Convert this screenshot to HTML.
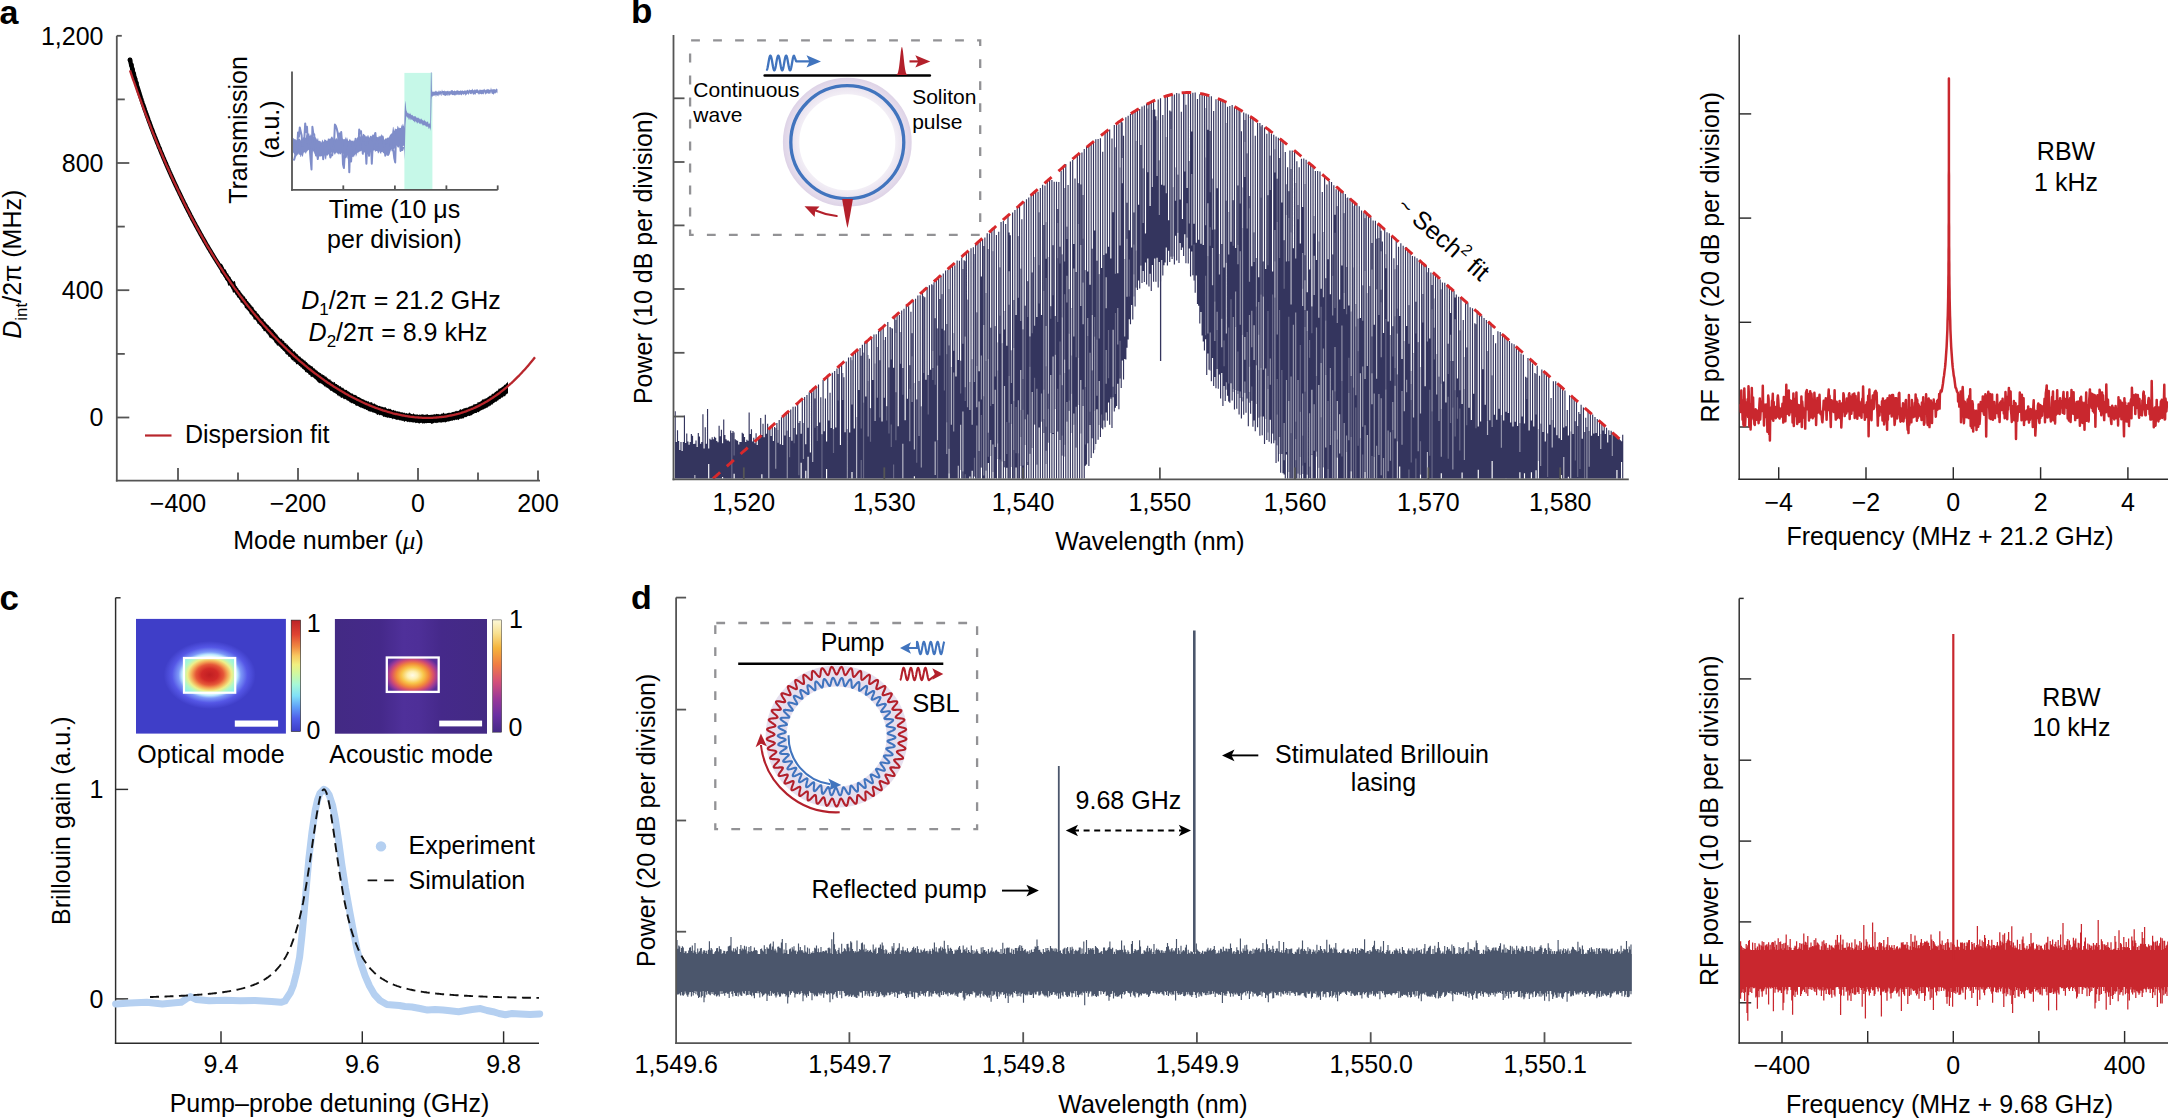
<!DOCTYPE html>
<html><head><meta charset="utf-8"><title>Figure</title>
<style>
html,body{margin:0;padding:0;background:#fff;}
body{width:2168px;height:1119px;overflow:hidden;}
svg{display:block;font-family:"Liberation Sans",Arial,Helvetica,sans-serif;}
</style></head><body>
<svg width="2168" height="1119" viewBox="0 0 2168 1119">
<rect width="2168" height="1119" fill="#fff"/>
<text x="-0.5" y="24.2" font-size="34" font-weight="bold">a</text>
<text x="631" y="23" font-size="35" font-weight="bold">b</text>
<text x="-0.5" y="609.5" font-size="35" font-weight="bold" textLength="19">c</text>
<text x="631" y="609.2" font-size="34" font-weight="bold">d</text>
<line x1="116.8" y1="35.8" x2="116.8" y2="481.5" stroke="#555555" stroke-width="1.8" />
<line x1="115.9" y1="480.6" x2="540" y2="480.6" stroke="#555555" stroke-width="1.8" />
<line x1="116.8" y1="35.8" x2="121.8" y2="35.8" stroke="#555555" stroke-width="1.8" />
<line x1="116.8" y1="99.4" x2="124.8" y2="99.4" stroke="#555555" stroke-width="1.8" />
<line x1="116.8" y1="163" x2="129.3" y2="163" stroke="#555555" stroke-width="1.8" />
<line x1="116.8" y1="226.6" x2="124.8" y2="226.6" stroke="#555555" stroke-width="1.8" />
<line x1="116.8" y1="290.2" x2="129.3" y2="290.2" stroke="#555555" stroke-width="1.8" />
<line x1="116.8" y1="353.9" x2="124.8" y2="353.9" stroke="#555555" stroke-width="1.8" />
<line x1="116.8" y1="417.5" x2="129.3" y2="417.5" stroke="#555555" stroke-width="1.8" />
<line x1="178" y1="480.6" x2="178" y2="468.1" stroke="#555555" stroke-width="1.8" />
<line x1="238" y1="480.6" x2="238" y2="472.6" stroke="#555555" stroke-width="1.8" />
<line x1="298" y1="480.6" x2="298" y2="468.1" stroke="#555555" stroke-width="1.8" />
<line x1="358" y1="480.6" x2="358" y2="472.6" stroke="#555555" stroke-width="1.8" />
<line x1="418" y1="480.6" x2="418" y2="468.1" stroke="#555555" stroke-width="1.8" />
<line x1="478" y1="480.6" x2="478" y2="472.6" stroke="#555555" stroke-width="1.8" />
<line x1="538" y1="480.6" x2="538" y2="470.6" stroke="#555555" stroke-width="1.8" />
<text x="103.5" y="44.5" text-anchor="end" font-size="25" >1,200</text>
<text x="103.5" y="171.8" text-anchor="end" font-size="25" >800</text>
<text x="103.5" y="299.1" text-anchor="end" font-size="25" >400</text>
<text x="103.5" y="426.3" text-anchor="end" font-size="25" >0</text>
<text x="178" y="512" text-anchor="middle" font-size="25" >−400</text>
<text x="298" y="512" text-anchor="middle" font-size="25" >−200</text>
<text x="418" y="512" text-anchor="middle" font-size="25" >0</text>
<text x="538" y="512" text-anchor="middle" font-size="25" >200</text>
<text x="328.5" y="549" text-anchor="middle" font-size="25" >Mode number (<tspan font-family="Liberation Serif" font-style="italic">μ</tspan>)</text>
<text transform="translate(21.3,264.3) rotate(-90)" text-anchor="middle" font-size="25"><tspan font-style="italic">D</tspan><tspan font-size="17" dy="6">int</tspan><tspan dy="-6">/2π (MHz)</tspan></text>
<text x="401" y="308.7" text-anchor="middle" font-size="25"><tspan font-style="italic">D</tspan><tspan font-size="17" dy="6">1</tspan><tspan dy="-6">/2π = 21.2 GHz</tspan></text>
<text x="398" y="341.2" text-anchor="middle" font-size="25"><tspan font-style="italic">D</tspan><tspan font-size="17" dy="6">2</tspan><tspan dy="-6">/2π = 8.9 kHz</tspan></text>
<line x1="145" y1="435.5" x2="171.5" y2="435.5" stroke="#b8262c" stroke-width="2.2" />
<text x="185" y="442.5" font-size="25" >Dispersion fit</text>
<path d="M220.4 263.1 L220.8 263.7 L221.2 263.8 L221.7 263.7 L222.1 264.3 L222.5 264.9 L222.9 265.4 L223.3 266.4 L223.8 267.6 L224.2 268.4 L224.6 269.2 L225.0 269.5 L225.4 269.3 L225.9 270.0 L226.3 271.1 L226.7 271.8 L227.1 273.1 L227.5 273.8 L228.0 273.0 L228.4 274.6 L228.8 274.9 L229.2 276.0 L229.7 276.5 L230.1 276.7 L230.5 277.1 L230.9 278.2 L231.3 279.3 L231.8 279.6 L232.2 280.4 L232.6 280.7 L233.0 281.3 L233.4 281.8 L233.9 281.4 L234.3 281.0 L234.7 281.1 L235.1 281.7 L235.5 284.0 L236.0 285.4 L236.4 286.4 L236.8 286.0 L237.2 287.1 L237.6 288.0 L238.1 288.1 L238.5 289.3 L238.9 289.9 L239.3 290.1 L239.7 290.4 L240.2 290.8 L240.6 292.0 L241.0 292.6 L241.4 292.7 L241.8 293.4 L242.3 294.0 L242.7 294.8 L243.1 294.8 L243.5 295.4 L243.9 296.4 L244.4 296.3 L244.8 296.4 L245.2 297.4 L245.6 298.5 L246.0 298.7 L246.5 298.9 L246.9 299.3 L247.3 300.9 L247.7 301.0 L248.2 301.4 L248.6 301.9 L249.0 302.8 L249.4 303.0 L249.8 303.4 L250.3 303.8 L250.7 304.8 L251.1 305.5 L251.5 305.0 L251.9 306.5 L252.4 307.0 L252.8 306.2 L253.2 307.1 L253.6 308.1 L254.0 308.9 L254.5 309.8 L254.9 310.3 L255.3 310.7 L255.7 310.8 L256.1 310.9 L256.6 311.5 L257.0 312.9 L257.4 312.8 L257.8 313.7 L258.2 313.7 L258.7 313.9 L259.1 315.3 L259.5 315.2 L259.9 315.7 L260.3 316.7 L260.8 317.2 L261.2 317.7 L261.6 317.9 L262.0 318.7 L262.4 318.5 L262.9 319.0 L263.3 319.0 L263.7 320.6 L264.1 320.9 L264.5 321.4 L265.0 321.6 L265.4 321.8 L265.8 322.8 L266.2 323.2 L266.7 323.8 L267.1 324.1 L267.5 324.7 L267.9 324.8 L268.3 324.9 L268.8 325.7 L269.2 326.1 L269.6 326.9 L270.0 326.9 L270.4 327.3 L270.9 328.2 L271.3 328.8 L271.7 328.9 L272.1 329.3 L272.5 329.2 L273.0 329.9 L273.4 330.2 L273.8 330.8 L274.2 331.8 L274.6 331.8 L275.1 332.3 L275.5 333.5 L275.9 333.0 L276.3 333.8 L276.7 334.6 L277.2 334.4 L277.6 335.3 L278.0 336.1 L278.4 336.5 L278.8 337.0 L279.3 337.4 L279.7 337.9 L280.1 338.3 L280.5 338.8 L280.9 339.0 L281.4 338.7 L281.8 338.8 L282.2 339.4 L282.6 340.5 L283.1 340.8 L283.5 340.4 L283.9 340.9 L284.3 341.5 L284.7 342.9 L285.2 342.8 L285.6 343.3 L286.0 343.3 L286.4 343.5 L286.8 344.9 L287.3 344.5 L287.7 344.6 L288.1 345.6 L288.5 346.0 L288.9 346.2 L289.4 346.9 L289.8 347.3 L290.2 347.8 L290.6 347.8 L291.0 349.0 L291.5 349.0 L291.9 348.5 L292.3 349.5 L292.7 350.2 L293.1 351.0 L293.6 351.4 L294.0 351.4 L294.4 351.3 L294.8 351.3 L295.2 352.1 L295.7 353.0 L296.1 353.3 L296.5 353.6 L296.9 354.2 L297.3 354.2 L297.8 354.2 L298.2 355.5 L298.6 355.8 L299.0 355.9 L299.4 356.3 L299.9 357.0 L300.3 356.6 L300.7 357.2 L301.1 358.0 L301.6 358.2 L302.0 358.8 L302.4 359.2 L302.8 358.3 L303.2 359.3 L303.7 360.0 L304.1 359.9 L304.5 360.6 L304.9 360.9 L305.3 360.2 L305.8 361.7 L306.2 362.0 L306.6 361.9 L307.0 362.4 L307.4 363.0 L307.9 363.5 L308.3 363.8 L308.7 364.4 L309.1 364.7 L309.5 364.7 L310.0 364.7 L310.4 365.4 L310.8 365.8 L311.2 366.0 L311.6 366.2 L312.1 366.3 L312.5 366.5 L312.9 366.9 L313.3 368.0 L313.7 368.2 L314.2 368.6 L314.6 368.3 L315.0 368.8 L315.4 369.5 L315.8 369.9 L316.3 369.7 L316.7 370.7 L317.1 370.6 L317.5 371.1 L317.9 371.5 L318.4 371.9 L318.8 372.2 L319.2 372.2 L319.6 372.8 L320.1 373.1 L320.5 373.1 L320.9 373.5 L321.3 373.8 L321.7 374.4 L322.2 374.8 L322.6 374.1 L323.0 375.0 L323.4 374.9 L323.8 375.2 L324.3 375.2 L324.7 376.3 L325.1 376.7 L325.5 376.6 L325.9 376.3 L326.4 376.7 L326.8 377.5 L327.2 377.8 L327.6 378.2 L328.0 378.6 L328.5 378.9 L328.9 379.4 L329.3 379.4 L329.7 379.5 L330.1 379.0 L330.6 380.3 L331.0 380.9 L331.4 380.6 L331.8 381.5 L332.2 381.7 L332.7 382.1 L333.1 381.6 L333.5 382.4 L333.9 382.7 L334.3 382.0 L334.8 382.1 L335.2 383.2 L335.6 384.0 L336.0 384.1 L336.4 384.1 L336.9 383.9 L337.3 385.0 L337.7 384.8 L338.1 385.4 L338.6 384.8 L339.0 386.1 L339.4 386.1 L339.8 386.7 L340.2 386.0 L340.7 386.3 L341.1 387.2 L341.5 387.4 L341.9 387.5 L342.3 388.2 L342.8 387.5 L343.2 387.8 L343.6 388.3 L344.0 389.2 L344.4 389.5 L344.9 389.4 L345.3 389.7 L345.7 389.9 L346.1 390.2 L346.5 389.8 L347.0 390.1 L347.4 391.0 L347.8 391.3 L348.2 391.3 L348.6 391.6 L349.1 391.8 L349.5 391.9 L349.9 392.6 L350.3 392.8 L350.7 393.0 L351.2 393.5 L351.6 393.5 L352.0 393.3 L352.4 393.5 L352.8 393.8 L353.3 394.5 L353.7 394.8 L354.1 394.7 L354.5 394.9 L354.9 394.7 L355.4 395.1 L355.8 395.2 L356.2 395.2 L356.6 395.7 L357.1 396.0 L357.5 396.8 L357.9 396.9 L358.3 397.0 L358.7 396.9 L359.2 397.2 L359.6 397.3 L360.0 397.9 L360.4 397.8 L360.8 398.2 L361.3 398.4 L361.7 398.8 L362.1 399.0 L362.5 399.3 L362.9 399.0 L363.4 399.5 L363.8 399.6 L364.2 399.8 L364.6 400.0 L365.0 400.5 L365.5 400.5 L365.9 400.8 L366.3 400.8 L366.7 400.8 L367.1 401.1 L367.6 401.4 L368.0 401.7 L368.4 401.1 L368.8 401.4 L369.2 402.2 L369.7 402.4 L370.1 402.4 L370.5 402.3 L370.9 402.3 L371.3 402.0 L371.8 402.6 L372.2 402.4 L372.6 403.5 L373.0 403.8 L373.5 403.7 L373.9 403.7 L374.3 403.2 L374.7 403.5 L375.1 404.3 L375.6 404.4 L376.0 404.3 L376.4 404.7 L376.8 405.3 L377.2 405.2 L377.7 405.2 L378.1 405.7 L378.5 405.9 L378.9 406.1 L379.3 405.9 L379.8 405.7 L380.2 405.9 L380.6 406.4 L381.0 406.7 L381.4 406.7 L381.9 406.4 L382.3 406.7 L382.7 407.1 L383.1 407.3 L383.5 407.3 L384.0 407.3 L384.4 407.2 L384.8 407.6 L385.2 407.1 L385.6 407.3 L386.1 408.0 L386.5 408.4 L386.9 408.6 L387.3 408.9 L387.7 409.0 L388.2 408.6 L388.6 408.7 L389.0 408.7 L389.4 409.2 L389.8 408.8 L390.3 408.7 L390.7 408.9 L391.1 409.5 L391.5 409.7 L392.0 410.1 L392.4 410.3 L392.8 410.4 L393.2 409.7 L393.6 409.9 L394.1 410.3 L394.5 410.9 L394.9 410.6 L395.3 410.7 L395.7 410.4 L396.2 411.2 L396.6 411.4 L397.0 411.1 L397.4 411.5 L397.8 411.3 L398.3 411.7 L398.7 411.5 L399.1 411.4 L399.5 411.8 L399.9 411.7 L400.4 412.0 L400.8 412.4 L401.2 411.9 L401.6 412.4 L402.0 412.3 L402.5 412.6 L402.9 412.2 L403.3 412.9 L403.7 412.8 L404.1 412.6 L404.6 412.7 L405.0 413.2 L405.4 413.2 L405.8 413.4 L406.2 413.3 L406.7 413.1 L407.1 413.4 L407.5 413.6 L407.9 413.7 L408.3 413.7 L408.8 412.9 L409.2 412.2 L409.6 412.7 L410.0 413.3 L410.5 413.5 L410.9 413.6 L411.3 414.1 L411.7 413.9 L412.1 414.2 L412.6 414.3 L413.0 413.8 L413.4 413.3 L413.8 413.8 L414.2 414.1 L414.7 414.5 L415.1 414.4 L415.5 414.5 L415.9 414.6 L416.3 414.5 L416.8 414.6 L417.2 414.6 L417.6 414.2 L418.0 414.8 L418.4 414.9 L418.9 414.8 L419.3 414.6 L419.7 414.6 L420.1 415.0 L420.5 414.7 L421.0 414.5 L421.4 414.2 L421.8 414.8 L422.2 414.2 L422.6 414.2 L423.1 414.7 L423.5 414.4 L423.9 414.4 L424.3 414.8 L424.7 415.0 L425.2 414.8 L425.6 414.5 L426.0 415.1 L426.4 414.6 L426.8 414.3 L427.3 414.0 L427.7 414.4 L428.1 415.0 L428.5 415.0 L429.0 414.8 L429.4 415.0 L429.8 415.0 L430.2 415.0 L430.6 414.8 L431.1 414.7 L431.5 414.6 L431.9 415.0 L432.3 414.7 L432.7 414.8 L433.2 414.1 L433.6 414.7 L434.0 414.8 L434.4 414.3 L434.8 414.0 L435.3 414.1 L435.7 414.9 L436.1 414.1 L436.5 413.7 L436.9 414.1 L437.4 414.3 L437.8 414.1 L438.2 414.3 L438.6 413.8 L439.0 414.4 L439.5 414.2 L439.9 414.6 L440.3 414.4 L440.7 414.2 L441.1 414.1 L441.6 413.5 L442.0 413.6 L442.4 414.2 L442.8 413.1 L443.2 412.6 L443.7 412.9 L444.1 413.6 L444.5 413.5 L444.9 413.7 L445.4 413.5 L445.8 413.7 L446.2 413.6 L446.6 413.5 L447.0 413.4 L447.5 413.0 L447.9 413.0 L448.3 413.1 L448.7 412.7 L449.1 412.6 L449.6 413.0 L450.0 412.7 L450.4 412.9 L450.8 412.7 L451.2 412.6 L451.7 412.4 L452.1 412.2 L452.5 411.9 L452.9 412.1 L453.3 412.0 L453.8 411.8 L454.2 411.7 L454.6 411.7 L455.0 411.5 L455.4 410.8 L455.9 411.5 L456.3 411.3 L456.7 410.6 L457.1 411.2 L457.5 411.0 L458.0 410.7 L458.4 410.9 L458.8 410.7 L459.2 410.4 L459.6 409.8 L460.1 409.4 L460.5 409.1 L460.9 409.4 L461.3 409.5 L461.7 409.9 L462.2 409.1 L462.6 409.1 L463.0 409.4 L463.4 408.6 L463.9 408.2 L464.3 408.1 L464.7 408.4 L465.1 408.3 L465.5 407.9 L466.0 407.8 L466.4 407.8 L466.8 407.8 L467.2 407.9 L467.6 407.5 L468.1 407.4 L468.5 406.9 L468.9 406.8 L469.3 406.5 L469.7 406.6 L470.2 406.6 L470.6 406.2 L471.0 405.8 L471.4 406.2 L471.8 405.6 L472.3 405.7 L472.7 405.6 L473.1 405.3 L473.5 404.4 L473.9 404.1 L474.4 404.3 L474.8 404.4 L475.2 404.3 L475.6 403.9 L476.0 404.1 L476.5 403.7 L476.9 403.7 L477.3 403.4 L477.7 402.1 L478.1 402.2 L478.6 402.5 L479.0 401.9 L479.4 402.3 L479.8 401.8 L480.2 401.7 L480.7 401.2 L481.1 401.0 L481.5 400.7 L481.9 400.3 L482.4 399.6 L482.8 399.2 L483.2 399.0 L483.6 399.5 L484.0 399.7 L484.5 399.0 L484.9 398.6 L485.3 398.7 L485.7 398.6 L486.1 398.2 L486.6 398.2 L487.0 398.0 L487.4 397.6 L487.8 397.2 L488.2 396.4 L488.7 396.9 L489.1 396.5 L489.5 395.5 L489.9 395.9 L490.3 395.4 L490.8 395.7 L491.2 395.4 L491.6 394.5 L492.0 393.7 L492.4 393.6 L492.9 394.2 L493.3 393.9 L493.7 393.2 L494.1 393.0 L494.5 392.7 L495.0 391.9 L495.4 391.7 L495.8 392.1 L496.2 391.3 L496.6 390.9 L497.1 390.3 L497.5 390.9 L497.9 390.4 L498.3 389.6 L498.7 388.6 L499.2 388.5 L499.6 388.9 L500.0 388.2 L500.4 388.3 L500.9 388.0 L501.3 387.8 L501.7 387.2 L502.1 387.0 L502.5 386.7 L503.0 386.4 L503.4 386.2 L503.8 385.8 L504.2 385.1 L504.6 384.7 L505.1 384.7 L505.5 384.4 L505.9 384.0 L506.3 383.5 L506.7 383.1 L507.2 382.9 L507.6 381.8 L508.0 381.9 L508.0 393.2 L507.6 393.2 L507.2 394.1 L506.7 393.8 L506.3 394.6 L505.9 394.5 L505.5 395.5 L505.1 396.2 L504.6 396.2 L504.2 396.3 L503.8 395.7 L503.4 396.7 L503.0 397.2 L502.5 397.5 L502.1 397.4 L501.7 397.5 L501.3 397.8 L500.9 398.3 L500.4 399.1 L500.0 399.2 L499.6 398.9 L499.2 399.3 L498.7 399.5 L498.3 400.5 L497.9 400.6 L497.5 400.4 L497.1 400.9 L496.6 401.7 L496.2 401.7 L495.8 401.5 L495.4 401.9 L495.0 402.1 L494.5 402.4 L494.1 403.0 L493.7 403.1 L493.3 403.3 L492.9 403.8 L492.4 404.8 L492.0 404.6 L491.6 404.3 L491.2 405.1 L490.8 405.3 L490.3 405.9 L489.9 405.6 L489.5 406.1 L489.1 406.8 L488.7 406.8 L488.2 406.3 L487.8 406.9 L487.4 407.8 L487.0 408.1 L486.6 407.4 L486.1 407.9 L485.7 407.9 L485.3 408.7 L484.9 408.8 L484.5 408.4 L484.0 409.3 L483.6 409.4 L483.2 409.3 L482.8 409.5 L482.4 409.7 L481.9 410.0 L481.5 410.0 L481.1 410.6 L480.7 410.8 L480.2 410.6 L479.8 411.3 L479.4 411.3 L479.0 412.0 L478.6 411.9 L478.1 412.6 L477.7 411.8 L477.3 412.0 L476.9 412.7 L476.5 413.0 L476.0 413.1 L475.6 413.1 L475.2 413.0 L474.8 413.1 L474.4 413.5 L473.9 413.6 L473.5 414.0 L473.1 414.0 L472.7 414.5 L472.3 414.6 L471.8 415.2 L471.4 415.3 L471.0 415.5 L470.6 415.6 L470.2 415.5 L469.7 415.9 L469.3 415.9 L468.9 415.7 L468.5 415.9 L468.1 415.8 L467.6 416.3 L467.2 416.2 L466.8 417.0 L466.4 416.8 L466.0 417.4 L465.5 417.0 L465.1 416.9 L464.7 417.3 L464.3 417.2 L463.9 418.0 L463.4 418.5 L463.0 418.4 L462.6 418.3 L462.2 418.5 L461.7 418.4 L461.3 419.0 L460.9 418.6 L460.5 419.0 L460.1 418.6 L459.6 418.9 L459.2 419.2 L458.8 419.8 L458.4 420.2 L458.0 419.7 L457.5 419.4 L457.1 419.5 L456.7 419.9 L456.3 419.8 L455.9 420.0 L455.4 419.6 L455.0 419.8 L454.6 420.2 L454.2 420.4 L453.8 420.2 L453.3 420.1 L452.9 420.3 L452.5 420.8 L452.1 420.9 L451.7 420.8 L451.2 420.5 L450.8 420.9 L450.4 421.0 L450.0 420.8 L449.6 421.3 L449.1 421.4 L448.7 421.7 L448.3 421.2 L447.9 421.6 L447.5 421.5 L447.0 421.5 L446.6 422.1 L446.2 422.0 L445.8 422.6 L445.4 422.3 L444.9 422.5 L444.5 421.9 L444.1 421.8 L443.7 422.2 L443.2 422.3 L442.8 422.3 L442.4 422.3 L442.0 422.2 L441.6 422.8 L441.1 422.6 L440.7 422.6 L440.3 422.4 L439.9 422.4 L439.5 422.3 L439.0 422.4 L438.6 422.5 L438.2 422.5 L437.8 422.7 L437.4 423.0 L436.9 422.6 L436.5 422.9 L436.1 423.2 L435.7 422.9 L435.3 422.7 L434.8 422.7 L434.4 422.8 L434.0 422.8 L433.6 423.2 L433.2 423.2 L432.7 423.6 L432.3 423.7 L431.9 423.7 L431.5 424.0 L431.1 423.4 L430.6 423.1 L430.2 423.1 L429.8 423.0 L429.4 423.0 L429.0 422.9 L428.5 422.9 L428.1 422.9 L427.7 423.0 L427.3 422.9 L426.8 423.1 L426.4 423.4 L426.0 423.0 L425.6 423.2 L425.2 422.9 L424.7 423.5 L424.3 423.6 L423.9 423.5 L423.5 423.1 L423.1 423.5 L422.6 423.5 L422.2 423.4 L421.8 423.0 L421.4 422.8 L421.0 422.8 L420.5 422.9 L420.1 423.0 L419.7 423.4 L419.3 423.5 L418.9 423.4 L418.4 423.1 L418.0 423.2 L417.6 422.8 L417.2 422.7 L416.8 422.7 L416.3 423.1 L415.9 423.3 L415.5 423.0 L415.1 422.5 L414.7 422.3 L414.2 422.6 L413.8 422.4 L413.4 422.4 L413.0 422.5 L412.6 422.3 L412.1 422.4 L411.7 422.3 L411.3 422.0 L410.9 421.8 L410.5 422.1 L410.0 422.4 L409.6 422.3 L409.2 421.7 L408.8 421.7 L408.3 421.8 L407.9 422.0 L407.5 422.3 L407.1 421.4 L406.7 421.4 L406.2 421.3 L405.8 421.1 L405.4 421.0 L405.0 421.4 L404.6 422.0 L404.1 421.6 L403.7 421.3 L403.3 420.8 L402.9 420.6 L402.5 420.9 L402.0 420.9 L401.6 420.4 L401.2 420.6 L400.8 420.4 L400.4 420.2 L399.9 420.3 L399.5 420.4 L399.1 420.0 L398.7 419.8 L398.3 419.7 L397.8 420.1 L397.4 419.8 L397.0 419.5 L396.6 419.9 L396.2 419.7 L395.7 419.7 L395.3 419.1 L394.9 419.1 L394.5 419.0 L394.1 418.7 L393.6 418.6 L393.2 418.9 L392.8 419.6 L392.4 418.8 L392.0 418.5 L391.5 418.3 L391.1 418.1 L390.7 418.0 L390.3 418.1 L389.8 418.3 L389.4 417.8 L389.0 417.7 L388.6 417.5 L388.2 417.5 L387.7 417.8 L387.3 417.8 L386.9 417.8 L386.5 417.1 L386.1 417.3 L385.6 417.1 L385.2 417.2 L384.8 416.7 L384.4 416.6 L384.0 417.1 L383.5 416.7 L383.1 416.8 L382.7 415.7 L382.3 415.4 L381.9 415.8 L381.4 415.1 L381.0 414.9 L380.6 414.8 L380.2 415.2 L379.8 415.2 L379.3 415.2 L378.9 414.8 L378.5 414.4 L378.1 414.1 L377.7 414.9 L377.2 415.1 L376.8 414.6 L376.4 413.7 L376.0 413.4 L375.6 413.4 L375.1 413.1 L374.7 413.0 L374.3 412.8 L373.9 412.5 L373.5 412.6 L373.0 412.7 L372.6 412.4 L372.2 411.9 L371.8 411.7 L371.3 411.7 L370.9 411.5 L370.5 411.7 L370.1 411.8 L369.7 411.5 L369.2 411.2 L368.8 410.9 L368.4 411.4 L368.0 410.5 L367.6 410.5 L367.1 409.7 L366.7 410.1 L366.3 410.0 L365.9 409.7 L365.5 409.0 L365.0 409.1 L364.6 408.8 L364.2 409.5 L363.8 408.7 L363.4 408.3 L362.9 408.5 L362.5 407.9 L362.1 408.0 L361.7 407.4 L361.3 407.8 L360.8 407.6 L360.4 407.8 L360.0 407.0 L359.6 406.7 L359.2 407.2 L358.7 406.5 L358.3 406.0 L357.9 405.7 L357.5 405.7 L357.1 406.0 L356.6 405.6 L356.2 405.9 L355.8 405.4 L355.4 405.2 L354.9 404.2 L354.5 404.0 L354.1 404.0 L353.7 403.9 L353.3 403.5 L352.8 403.4 L352.4 402.9 L352.0 402.7 L351.6 403.0 L351.2 403.6 L350.7 402.7 L350.3 402.0 L349.9 402.5 L349.5 401.8 L349.1 401.4 L348.6 401.1 L348.2 400.8 L347.8 400.4 L347.4 400.5 L347.0 400.8 L346.5 399.8 L346.1 399.6 L345.7 399.2 L345.3 398.9 L344.9 398.7 L344.4 399.2 L344.0 399.2 L343.6 399.0 L343.2 398.2 L342.8 397.8 L342.3 397.5 L341.9 397.8 L341.5 398.0 L341.1 397.8 L340.7 397.4 L340.2 396.4 L339.8 395.8 L339.4 396.5 L339.0 396.8 L338.6 395.6 L338.1 395.5 L337.7 394.9 L337.3 396.0 L336.9 394.2 L336.4 393.7 L336.0 394.2 L335.6 393.5 L335.2 392.9 L334.8 392.5 L334.3 393.1 L333.9 393.1 L333.5 392.1 L333.1 392.3 L332.7 391.4 L332.2 391.6 L331.8 390.7 L331.4 391.1 L331.0 390.7 L330.6 390.9 L330.1 390.3 L329.7 389.4 L329.3 389.6 L328.9 389.2 L328.5 388.6 L328.0 388.3 L327.6 388.0 L327.2 387.7 L326.8 387.3 L326.4 387.6 L325.9 387.4 L325.5 386.6 L325.1 386.3 L324.7 386.5 L324.3 386.5 L323.8 385.2 L323.4 385.2 L323.0 385.0 L322.6 384.4 L322.2 383.9 L321.7 384.1 L321.3 383.4 L320.9 383.3 L320.5 383.6 L320.1 382.8 L319.6 383.1 L319.2 383.5 L318.8 382.8 L318.4 382.4 L317.9 381.9 L317.5 381.7 L317.1 380.9 L316.7 380.5 L316.3 380.2 L315.8 379.8 L315.4 378.9 L315.0 379.2 L314.6 378.8 L314.2 378.2 L313.7 378.0 L313.3 377.2 L312.9 377.2 L312.5 376.9 L312.1 376.5 L311.6 376.8 L311.2 377.3 L310.8 376.8 L310.4 375.6 L310.0 374.9 L309.5 374.9 L309.1 374.4 L308.7 374.7 L308.3 373.8 L307.9 372.9 L307.4 372.8 L307.0 372.9 L306.6 372.5 L306.2 371.8 L305.8 372.2 L305.3 371.9 L304.9 371.0 L304.5 370.0 L304.1 370.0 L303.7 369.7 L303.2 369.0 L302.8 368.9 L302.4 368.8 L302.0 368.2 L301.6 367.5 L301.1 367.3 L300.7 367.6 L300.3 366.4 L299.9 366.0 L299.4 366.0 L299.0 365.4 L298.6 365.0 L298.2 364.5 L297.8 364.2 L297.3 364.0 L296.9 364.4 L296.5 364.3 L296.1 364.0 L295.7 362.6 L295.2 362.6 L294.8 361.7 L294.4 361.5 L294.0 362.3 L293.6 361.3 L293.1 360.0 L292.7 360.6 L292.3 360.3 L291.9 359.9 L291.5 359.3 L291.0 358.9 L290.6 357.7 L290.2 357.4 L289.8 357.0 L289.4 356.7 L288.9 356.9 L288.5 356.7 L288.1 355.7 L287.7 354.9 L287.3 354.8 L286.8 354.1 L286.4 354.9 L286.0 353.9 L285.6 353.9 L285.2 352.4 L284.7 352.0 L284.3 351.5 L283.9 351.0 L283.5 351.1 L283.1 350.4 L282.6 349.9 L282.2 349.5 L281.8 348.9 L281.4 348.7 L280.9 348.6 L280.5 347.7 L280.1 347.3 L279.7 346.9 L279.3 346.5 L278.8 346.2 L278.4 345.6 L278.0 345.5 L277.6 345.5 L277.2 345.7 L276.7 344.9 L276.3 343.7 L275.9 343.8 L275.5 343.3 L275.1 342.7 L274.6 342.5 L274.2 341.5 L273.8 340.6 L273.4 340.3 L273.0 339.7 L272.5 339.6 L272.1 338.8 L271.7 338.9 L271.3 338.3 L270.9 337.6 L270.4 338.3 L270.0 338.1 L269.6 337.5 L269.2 336.8 L268.8 336.0 L268.3 334.8 L267.9 334.4 L267.5 334.2 L267.1 333.3 L266.7 333.4 L266.2 332.4 L265.8 332.0 L265.4 331.3 L265.0 330.9 L264.5 330.9 L264.1 331.4 L263.7 331.1 L263.3 330.0 L262.9 328.5 L262.4 329.0 L262.0 328.4 L261.6 327.3 L261.2 326.8 L260.8 326.2 L260.3 326.0 L259.9 325.3 L259.5 325.3 L259.1 324.8 L258.7 323.5 L258.2 324.2 L257.8 323.9 L257.4 323.2 L257.0 321.8 L256.6 321.8 L256.1 320.6 L255.7 320.3 L255.3 319.7 L254.9 319.4 L254.5 319.5 L254.0 319.7 L253.6 318.9 L253.2 317.6 L252.8 317.0 L252.4 316.3 L251.9 316.2 L251.5 314.9 L251.1 314.8 L250.7 314.5 L250.3 314.6 L249.8 313.7 L249.4 313.1 L249.0 311.7 L248.6 311.5 L248.2 311.1 L247.7 310.5 L247.3 309.7 L246.9 310.0 L246.5 308.8 L246.0 308.7 L245.6 307.9 L245.2 308.3 L244.8 307.5 L244.4 305.8 L243.9 305.1 L243.5 304.6 L243.1 304.6 L242.7 304.1 L242.3 303.1 L241.8 302.5 L241.4 302.7 L241.0 302.9 L240.6 302.1 L240.2 300.2 L239.7 299.9 L239.3 299.5 L238.9 298.4 L238.5 298.3 L238.1 297.8 L237.6 297.4 L237.2 297.2 L236.8 295.9 L236.4 295.3 L236.0 295.2 L235.5 294.5 L235.1 293.6 L234.7 292.6 L234.3 292.4 L233.9 292.2 L233.4 292.7 L233.0 292.6 L232.6 291.3 L232.2 289.6 L231.8 289.4 L231.3 288.4 L230.9 287.2 L230.5 287.2 L230.1 286.0 L229.7 286.1 L229.2 285.1 L228.8 285.5 L228.4 286.0 L228.0 284.8 L227.5 283.1 L227.1 281.7 L226.7 281.2 L226.3 280.9 L225.9 280.2 L225.4 280.0 L225.0 279.0 L224.6 278.1 L224.2 277.2 L223.8 277.0 L223.3 276.1 L222.9 275.3 L222.5 274.7 L222.1 274.0 L221.7 273.7 L221.2 273.2 L220.8 273.0 L220.4 271.9" stroke="none" stroke-width="0" fill="#000" />
<path d="M130.0 59.9 L130.4 61.6 L130.8 63.3 L131.3 64.9 L131.7 66.5 L132.1 68.1 L132.5 69.7 L132.9 71.2 L133.4 72.8 L133.8 74.3 L134.2 75.8 L134.6 77.3 L135.0 78.8 L135.5 80.2 L135.9 81.7 L136.3 83.1 L136.7 84.5 L137.1 85.9 L137.6 87.3 L138.0 88.7 L138.4 90.0 L138.8 91.4 L139.3 92.7 L139.7 94.1 L140.1 95.4 L140.5 96.7 L140.9 98.0 L141.4 99.3 L141.8 100.6 L142.2 101.8 L142.6 103.1 L143.0 104.3 L143.5 105.6 L143.9 106.8 L144.3 108.0 L144.7 109.3 L145.1 110.5 L145.6 111.7 L146.0 112.9 L146.4 114.1 L146.8 115.2 L147.2 116.4 L147.7 117.6 L148.1 118.7 L148.5 119.9 L148.9 121.0 L149.3 122.2 L149.8 123.3 L150.2 124.5 L150.6 125.6 L151.0 126.7 L151.4 127.8 L151.9 128.9 L152.3 130.0 L152.7 131.1 L153.1 132.2 L153.5 133.3 L154.0 134.4 L154.4 135.5 L154.8 136.6 L155.2 137.6 L155.6 138.7 L156.1 139.8 L156.5 140.8 L156.9 141.9 L157.3 142.9 L157.8 144.0 L158.2 145.0 L158.6 146.1 L159.0 147.1 L159.4 148.1 L159.9 149.1 L160.3 150.2 L160.7 151.2 L161.1 152.2 L161.5 153.2 L162.0 154.2 L162.4 155.2 L162.8 156.2 L163.2 157.2 L163.6 158.2 L164.1 159.2 L164.5 160.2 L164.9 161.2 L165.3 162.1 L165.7 163.1 L166.2 164.1 L166.6 165.1 L167.0 166.0 L167.4 167.0 L167.8 167.9 L168.3 168.9 L168.7 169.9 L169.1 170.8 L169.5 171.7 L169.9 172.7 L170.4 173.6 L170.8 174.6 L171.2 175.5 L171.6 176.4 L172.0 177.4 L172.5 178.3 L172.9 179.2 L173.3 180.1 L173.7 181.0 L174.1 182.0 L174.6 182.9 L175.0 183.8 L175.4 184.7 L175.8 185.6 L176.3 186.5 L176.7 187.4 L177.1 188.3 L177.5 189.2 L177.9 190.0 L178.4 190.9 L178.8 191.8 L179.2 192.7 L179.6 193.6 L180.0 194.4 L180.5 195.3 L180.9 196.2 L181.3 197.1 L181.7 197.9 L182.1 198.8 L182.6 199.6 L183.0 200.5 L183.4 201.3 L183.8 202.2 L184.2 203.0 L184.7 203.9 L185.1 204.7 L185.5 205.6 L185.9 206.4 L186.3 207.2 L186.8 208.1 L187.2 208.9 L187.6 209.7 L188.0 210.6 L188.4 211.4 L188.9 212.2 L189.3 213.0 L189.7 213.8 L190.1 214.6 L190.5 215.5 L191.0 216.3 L191.4 217.1 L191.8 217.9 L192.2 218.7 L192.6 219.5 L193.1 220.3 L193.5 221.1 L193.9 221.8 L194.3 222.6 L194.8 223.4 L195.2 224.2 L195.6 225.0 L196.0 225.8 L196.4 226.5 L196.9 227.3 L197.3 228.1 L197.7 228.9 L198.1 229.6 L198.5 230.4 L199.0 231.2 L199.4 231.9 L199.8 232.7 L200.2 233.4 L200.6 234.2 L201.1 234.9 L201.5 235.7 L201.9 236.4 L202.3 237.2 L202.7 237.9 L203.2 238.7 L203.6 239.4 L204.0 240.1 L204.4 240.9 L204.8 241.6 L205.3 242.3 L205.7 243.0 L206.1 243.8 L206.5 244.5 L206.9 245.2 L207.4 245.9 L207.8 246.7 L208.2 247.4 L208.6 248.1 L209.0 248.8 L209.5 249.5 L209.9 250.2 L210.3 250.9 L210.7 251.6 L211.2 252.3 L211.6 253.0 L212.0 253.7 L212.4 254.4 L212.8 255.1 L213.3 255.8 L213.7 256.5 L214.1 257.1 L214.5 257.8 L214.9 258.5 L215.4 259.2 L215.8 259.9 L216.2 260.5 L216.6 261.2 L217.0 261.9 L217.5 262.5 L217.9 263.2 L218.3 263.9 L218.7 264.5 L219.1 265.2 L219.6 265.9 L220.0 266.5 L220.4 267.2 L220.8 267.8 L221.2 268.5 L221.7 269.1 L222.1 269.8 L222.5 270.4 L222.9 271.1 L223.3 271.7 L223.8 272.3 L224.2 273.0 L224.6 273.6 L225.0 274.2 L225.4 274.9 L225.9 275.5 L226.3 276.1 L226.7 276.8 L227.1 277.4 L227.5 278.0 L228.0 278.6 L228.4 279.2 L228.8 279.9 L229.2 280.5 L229.7 281.1 L230.1 281.7 L230.5 282.3 L230.9 282.9 L231.3 283.5 L231.8 284.1 L232.2 284.7 L232.6 285.3 L233.0 285.9 L233.4 286.5 L233.9 287.1 L234.3 287.7 L234.7 288.3 L235.1 288.9 L235.5 289.5 L236.0 290.1 L236.4 290.6 L236.8 291.2 L237.2 291.8 L237.6 292.4" stroke="#000" stroke-width="4.4" fill="none" stroke-linejoin="round" stroke-linecap="round"/>
<circle cx="130.0" cy="59.9" r="1.9" fill="none" stroke="#000" stroke-width="1.1"/>
<circle cx="131.3" cy="64.9" r="1.9" fill="none" stroke="#000" stroke-width="1.1"/>
<circle cx="132.5" cy="69.7" r="1.9" fill="none" stroke="#000" stroke-width="1.1"/>
<circle cx="133.8" cy="74.3" r="1.9" fill="none" stroke="#000" stroke-width="1.1"/>
<circle cx="135.0" cy="78.8" r="1.9" fill="none" stroke="#000" stroke-width="1.1"/>
<circle cx="136.3" cy="83.1" r="1.9" fill="none" stroke="#000" stroke-width="1.1"/>
<path d="M130.0 70.4 L131.0 73.4 L132.0 76.3 L133.0 79.3 L134.1 82.2 L135.1 85.1 L136.1 87.9 L137.1 90.8 L138.1 93.6 L139.1 96.4 L140.2 99.2 L141.2 102.0 L142.2 104.7 L143.2 107.5 L144.2 110.2 L145.2 112.9 L146.2 115.5 L147.3 118.2 L148.3 120.8 L149.3 123.4 L150.3 126.0 L151.3 128.6 L152.3 131.2 L153.3 133.7 L154.4 136.3 L155.4 138.8 L156.4 141.3 L157.4 143.7 L158.4 146.2 L159.4 148.6 L160.5 151.0 L161.5 153.4 L162.5 155.8 L163.5 158.2 L164.5 160.5 L165.5 162.9 L166.5 165.2 L167.6 167.5 L168.6 169.8 L169.6 172.1 L170.6 174.3 L171.6 176.6 L172.6 178.8 L173.6 181.0 L174.7 183.2 L175.7 185.3 L176.7 187.5 L177.7 189.6 L178.7 191.8 L179.7 193.9 L180.8 196.0 L181.8 198.1 L182.8 200.1 L183.8 202.2 L184.8 204.2 L185.8 206.2 L186.8 208.3 L187.9 210.3 L188.9 212.2 L189.9 214.2 L190.9 216.2 L191.9 218.1 L192.9 220.0 L193.9 221.9 L195.0 223.8 L196.0 225.7 L197.0 227.6 L198.0 229.4 L199.0 231.3 L200.0 233.1 L201.1 234.9 L202.1 236.7 L203.1 238.5 L204.1 240.3 L205.1 242.1 L206.1 243.8 L207.1 245.6 L208.2 247.3 L209.2 249.0 L210.2 250.7 L211.2 252.4 L212.2 254.1 L213.2 255.7 L214.2 257.4 L215.3 259.0 L216.3 260.7 L217.3 262.3 L218.3 263.9 L219.3 265.5 L220.3 267.1 L221.4 268.6 L222.4 270.2 L223.4 271.8 L224.4 273.3 L225.4 274.8 L226.4 276.3 L227.4 277.8 L228.5 279.3 L229.5 280.8 L230.5 282.3 L231.5 283.8 L232.5 285.2 L233.5 286.7 L234.5 288.1 L235.6 289.5 L236.6 290.9 L237.6 292.3 L238.6 293.7 L239.6 295.1 L240.6 296.5 L241.7 297.8 L242.7 299.2 L243.7 300.5 L244.7 301.8 L245.7 303.2 L246.7 304.5 L247.7 305.8 L248.8 307.1 L249.8 308.4 L250.8 309.6 L251.8 310.9 L252.8 312.1 L253.8 313.4 L254.8 314.6 L255.9 315.9 L256.9 317.1 L257.9 318.3 L258.9 319.5 L259.9 320.7 L260.9 321.9 L262.0 323.0 L263.0 324.2 L264.0 325.4 L265.0 326.5 L266.0 327.6 L267.0 328.8 L268.0 329.9 L269.1 331.0 L270.1 332.1 L271.1 333.2 L272.1 334.3 L273.1 335.4 L274.1 336.5 L275.2 337.5 L276.2 338.6 L277.2 339.6 L278.2 340.7 L279.2 341.7 L280.2 342.7 L281.2 343.7 L282.3 344.8 L283.3 345.8 L284.3 346.8 L285.3 347.7 L286.3 348.7 L287.3 349.7 L288.3 350.7 L289.4 351.6 L290.4 352.6 L291.4 353.5 L292.4 354.4 L293.4 355.4 L294.4 356.3 L295.5 357.2 L296.5 358.1 L297.5 359.0 L298.5 359.9 L299.5 360.8 L300.5 361.6 L301.5 362.5 L302.6 363.4 L303.6 364.2 L304.6 365.1 L305.6 365.9 L306.6 366.7 L307.6 367.6 L308.6 368.4 L309.7 369.2 L310.7 370.0 L311.7 370.8 L312.7 371.6 L313.7 372.4 L314.7 373.2 L315.8 373.9 L316.8 374.7 L317.8 375.4 L318.8 376.2 L319.8 376.9 L320.8 377.7 L321.8 378.4 L322.9 379.1 L323.9 379.8 L324.9 380.6 L325.9 381.3 L326.9 382.0 L327.9 382.7 L328.9 383.3 L330.0 384.0 L331.0 384.7 L332.0 385.3 L333.0 386.0 L334.0 386.7 L335.0 387.3 L336.1 387.9 L337.1 388.6 L338.1 389.2 L339.1 389.8 L340.1 390.4 L341.1 391.0 L342.1 391.6 L343.2 392.2 L344.2 392.8 L345.2 393.4 L346.2 394.0 L347.2 394.5 L348.2 395.1 L349.2 395.7 L350.3 396.2 L351.3 396.7 L352.3 397.3 L353.3 397.8 L354.3 398.3 L355.3 398.8 L356.4 399.3 L357.4 399.9 L358.4 400.3 L359.4 400.8 L360.4 401.3 L361.4 401.8 L362.4 402.3 L363.5 402.7 L364.5 403.2 L365.5 403.6 L366.5 404.1 L367.5 404.5 L368.5 404.9 L369.5 405.4 L370.6 405.8 L371.6 406.2 L372.6 406.6 L373.6 407.0 L374.6 407.4 L375.6 407.8 L376.7 408.1 L377.7 408.5 L378.7 408.9 L379.7 409.2 L380.7 409.6 L381.7 409.9 L382.7 410.3 L383.8 410.6 L384.8 410.9 L385.8 411.2 L386.8 411.5 L387.8 411.8 L388.8 412.1 L389.8 412.4 L390.9 412.7 L391.9 413.0 L392.9 413.3 L393.9 413.5 L394.9 413.8 L395.9 414.0 L397.0 414.2 L398.0 414.5 L399.0 414.7 L400.0 414.9 L401.0 415.1 L402.0 415.3 L403.0 415.5 L404.1 415.7 L405.1 415.9 L406.1 416.1 L407.1 416.2 L408.1 416.4 L409.1 416.5 L410.2 416.7 L411.2 416.8 L412.2 416.9 L413.2 417.0 L414.2 417.2 L415.2 417.3 L416.2 417.4 L417.3 417.4 L418.3 417.5 L419.3 417.6 L420.3 417.7 L421.3 417.7 L422.3 417.8 L423.3 417.8 L424.4 417.8 L425.4 417.8 L426.4 417.9 L427.4 417.9 L428.4 417.9 L429.4 417.8 L430.5 417.8 L431.5 417.8 L432.5 417.8 L433.5 417.7 L434.5 417.7 L435.5 417.6 L436.5 417.5 L437.6 417.4 L438.6 417.3 L439.6 417.2 L440.6 417.1 L441.6 417.0 L442.6 416.9 L443.6 416.8 L444.7 416.6 L445.7 416.5 L446.7 416.3 L447.7 416.1 L448.7 415.9 L449.7 415.7 L450.8 415.5 L451.8 415.3 L452.8 415.1 L453.8 414.9 L454.8 414.6 L455.8 414.4 L456.8 414.1 L457.9 413.8 L458.9 413.5 L459.9 413.3 L460.9 413.0 L461.9 412.6 L462.9 412.3 L463.9 412.0 L465.0 411.6 L466.0 411.3 L467.0 410.9 L468.0 410.5 L469.0 410.1 L470.0 409.7 L471.1 409.3 L472.1 408.9 L473.1 408.5 L474.1 408.0 L475.1 407.6 L476.1 407.1 L477.1 406.6 L478.2 406.1 L479.2 405.6 L480.2 405.1 L481.2 404.6 L482.2 404.0 L483.2 403.5 L484.2 402.9 L485.3 402.3 L486.3 401.8 L487.3 401.2 L488.3 400.5 L489.3 399.9 L490.3 399.3 L491.4 398.6 L492.4 398.0 L493.4 397.3 L494.4 396.6 L495.4 395.9 L496.4 395.2 L497.4 394.5 L498.5 393.7 L499.5 393.0 L500.5 392.2 L501.5 391.4 L502.5 390.6 L503.5 389.8 L504.5 389.0 L505.6 388.1 L506.6 387.3 L507.6 386.4 L508.6 385.5 L509.6 384.6 L510.6 383.7 L511.7 382.8 L512.7 381.8 L513.7 380.9 L514.7 379.9 L515.7 378.9 L516.7 377.9 L517.7 376.9 L518.8 375.9 L519.8 374.8 L520.8 373.8 L521.8 372.7 L522.8 371.6 L523.8 370.5 L524.8 369.4 L525.9 368.2 L526.9 367.1 L527.9 365.9 L528.9 364.7 L529.9 363.5 L530.9 362.3 L532.0 361.0 L533.0 359.8 L534.0 358.5 L535.0 357.2" stroke="#b8262c" stroke-width="2.3" fill="none" />
<rect x="404.4" y="72.9" width="28" height="117.0" fill="#c6f8e8"/>
<line x1="292" y1="71.4" x2="292" y2="190.8" stroke="#555555" stroke-width="1.8" />
<line x1="291.1" y1="189.9" x2="497.7" y2="189.9" stroke="#555555" stroke-width="1.8" />
<line x1="343.3" y1="189.9" x2="343.3" y2="185.4" stroke="#555555" stroke-width="1.8" />
<line x1="394.9" y1="189.9" x2="394.9" y2="185.4" stroke="#555555" stroke-width="1.8" />
<line x1="446.4" y1="189.9" x2="446.4" y2="185.4" stroke="#555555" stroke-width="1.8" />
<line x1="497.7" y1="189.9" x2="497.7" y2="185.4" stroke="#555555" stroke-width="1.8" />
<path d="M293.0 138.0 L293.5 138.3 L294.0 138.7 L294.5 139.0 L295.0 139.6 L295.5 138.8 L296.0 140.5 L296.5 140.1 L297.0 139.4 L297.5 139.6 L298.0 138.2 L298.5 139.1 L299.0 138.5 L299.5 138.5 L300.0 139.2 L300.5 140.7 L301.0 138.7 L301.5 138.7 L302.0 139.1 L302.5 139.3 L303.0 137.5 L303.5 137.5 L304.0 137.3 L304.5 138.2 L305.0 137.7 L305.5 138.1 L306.0 136.7 L306.5 134.6 L307.0 135.1 L307.5 135.1 L308.0 133.8 L308.5 133.8 L309.0 132.8 L309.5 135.3 L310.0 136.3 L310.5 134.5 L311.0 134.6 L311.5 135.2 L312.0 135.4 L312.5 135.7 L313.0 136.6 L313.5 136.7 L314.0 136.9 L314.5 136.7 L315.0 137.5 L315.5 136.9 L316.0 138.4 L316.5 138.3 L317.0 139.9 L317.5 138.9 L318.0 137.4 L318.5 140.8 L319.0 140.9 L319.5 140.4 L320.0 141.5 L320.5 140.8 L321.0 142.4 L321.5 142.3 L322.0 140.4 L322.5 139.4 L323.0 140.7 L323.5 142.1 L324.0 140.9 L324.5 138.9 L325.0 139.7 L325.5 139.7 L326.0 140.2 L326.5 140.4 L327.0 141.2 L327.5 140.5 L328.0 138.2 L328.5 138.4 L329.0 139.1 L329.5 138.9 L330.0 138.1 L330.5 139.0 L331.0 137.3 L331.5 136.9 L332.0 136.0 L332.5 137.7 L333.0 137.3 L333.5 138.7 L334.0 139.8 L334.5 139.2 L335.0 140.1 L335.5 138.5 L336.0 138.5 L336.5 138.4 L337.0 137.5 L337.5 139.7 L338.0 138.5 L338.5 138.4 L339.0 138.0 L339.5 137.4 L340.0 136.5 L340.5 138.0 L341.0 138.0 L341.5 136.7 L342.0 138.8 L342.5 138.3 L343.0 138.9 L343.5 139.2 L344.0 139.3 L344.5 139.2 L345.0 138.7 L345.5 136.4 L346.0 139.7 L346.5 138.2 L347.0 137.1 L347.5 138.7 L348.0 140.1 L348.5 141.4 L349.0 140.5 L349.5 138.8 L350.0 139.7 L350.5 139.5 L351.0 141.0 L351.5 140.3 L352.0 141.3 L352.5 140.3 L353.0 141.2 L353.5 141.2 L354.0 139.6 L354.5 140.8 L355.0 140.6 L355.5 140.5 L356.0 139.9 L356.5 139.9 L357.0 137.5 L357.5 137.6 L358.0 137.2 L358.5 136.5 L359.0 136.0 L359.5 136.3 L360.0 135.1 L360.5 136.8 L361.0 136.4 L361.5 136.1 L362.0 136.8 L362.5 135.4 L363.0 133.9 L363.5 133.9 L364.0 133.8 L364.5 135.2 L365.0 134.7 L365.5 136.1 L366.0 136.8 L366.5 135.8 L367.0 137.1 L367.5 135.8 L368.0 134.8 L368.5 135.7 L369.0 137.2 L369.5 137.7 L370.0 135.9 L370.5 136.1 L371.0 135.3 L371.5 136.4 L372.0 136.1 L372.5 134.5 L373.0 134.6 L373.5 136.2 L374.0 133.6 L374.5 132.2 L375.0 134.8 L375.5 135.6 L376.0 137.3 L376.5 136.6 L377.0 136.9 L377.5 137.0 L378.0 137.4 L378.5 137.1 L379.0 135.2 L379.5 137.4 L380.0 137.1 L380.5 136.9 L381.0 134.6 L381.5 134.3 L382.0 136.3 L382.5 136.8 L383.0 136.6 L383.5 136.7 L384.0 140.0 L384.5 140.6 L385.0 139.3 L385.5 138.1 L386.0 138.7 L386.5 138.4 L387.0 138.1 L387.5 137.8 L388.0 137.2 L388.5 137.8 L389.0 137.5 L389.5 136.4 L390.0 134.9 L390.5 134.5 L391.0 133.8 L391.5 133.3 L392.0 133.8 L392.5 130.6 L393.0 126.8 L393.5 127.3 L394.0 130.6 L394.5 130.8 L395.0 128.1 L395.5 129.0 L396.0 129.2 L396.5 128.9 L397.0 129.0 L397.5 125.7 L398.0 126.3 L398.5 127.2 L399.0 128.4 L399.5 127.6 L400.0 128.0 L400.5 128.1 L401.0 127.7 L401.5 124.4 L402.0 126.7 L402.5 124.7 L403.0 123.6 L403.5 125.5 L404.0 126.2 L404.2 128.0 L404.6 112.0 L405.1 100.5 L405.7 104.0 L406.3 110.0 L407.5 113.3 L408.0 112.5 L408.5 113.2 L409.0 113.9 L409.5 113.9 L410.0 112.6 L410.5 114.0 L411.0 114.4 L411.5 115.2 L412.0 114.9 L412.5 114.8 L413.0 115.9 L413.5 116.2 L414.0 116.5 L414.5 116.0 L415.0 116.5 L415.5 116.1 L416.0 117.0 L416.5 117.6 L417.0 118.0 L417.5 117.7 L418.0 117.5 L418.5 117.8 L419.0 118.6 L419.5 118.4 L420.0 119.4 L420.5 118.5 L421.0 120.0 L421.5 118.2 L422.0 119.2 L422.5 120.6 L423.0 119.8 L423.5 121.1 L424.0 120.6 L424.5 119.6 L425.0 121.5 L425.5 120.7 L426.0 122.0 L426.5 122.4 L427.0 121.1 L427.5 122.2 L428.0 121.3 L428.5 123.7 L429.0 123.7 L429.5 123.8 L430.0 122.4 L430.2 126.0 L430.5 100.0 L430.9 72.3 L431.5 72.3 L431.9 90.0 L432.6 92.0 L433.0 92.1 L433.5 91.5 L434.0 91.8 L434.5 92.0 L435.0 90.8 L435.5 90.8 L436.0 91.9 L436.5 90.6 L437.0 92.0 L437.5 91.7 L438.0 91.2 L438.5 91.7 L439.0 89.8 L439.5 91.7 L440.0 90.9 L440.5 90.8 L441.0 91.5 L441.5 91.6 L442.0 89.2 L442.5 91.0 L443.0 91.1 L443.5 91.1 L444.0 90.9 L444.5 90.3 L445.0 91.7 L445.5 90.9 L446.0 91.1 L446.5 91.4 L447.0 90.7 L447.5 91.3 L448.0 90.5 L448.5 91.3 L449.0 91.5 L449.5 90.9 L450.0 91.2 L450.5 91.2 L451.0 90.1 L451.5 90.5 L452.0 89.9 L452.5 90.1 L453.0 91.3 L453.5 90.9 L454.0 90.9 L454.5 90.3 L455.0 91.1 L455.5 91.3 L456.0 90.7 L456.5 90.8 L457.0 90.3 L457.5 90.4 L458.0 90.3 L458.5 91.0 L459.0 90.7 L459.5 90.9 L460.0 91.1 L460.5 90.5 L461.0 90.1 L461.5 91.1 L462.0 91.0 L462.5 90.1 L463.0 90.9 L463.5 91.1 L464.0 90.7 L464.5 90.7 L465.0 89.8 L465.5 91.0 L466.0 90.6 L466.5 90.7 L467.0 90.0 L467.5 89.9 L468.0 89.6 L468.5 90.7 L469.0 90.5 L469.5 89.0 L470.0 90.3 L470.5 90.1 L471.0 90.1 L471.5 90.1 L472.0 89.5 L472.5 88.4 L473.0 90.5 L473.5 90.1 L474.0 90.2 L474.5 89.1 L475.0 90.4 L475.5 89.6 L476.0 89.7 L476.5 89.4 L477.0 89.3 L477.5 89.3 L478.0 90.1 L478.5 90.4 L479.0 90.4 L479.5 89.9 L480.0 89.1 L480.5 89.9 L481.0 90.0 L481.5 90.1 L482.0 89.5 L482.5 90.0 L483.0 89.7 L483.5 89.3 L484.0 89.9 L484.5 88.4 L485.0 89.9 L485.5 90.2 L486.0 89.5 L486.5 89.4 L487.0 89.7 L487.5 88.8 L488.0 89.8 L488.5 89.1 L489.0 89.4 L489.5 89.7 L490.0 89.9 L490.5 89.4 L491.0 87.3 L491.5 89.4 L492.0 89.4 L492.5 89.3 L493.0 89.5 L493.5 89.1 L494.0 89.5 L494.5 89.0 L495.0 89.4 L495.5 89.8 L496.0 89.0 L496.5 88.6 L497.0 88.7 L497.5 89.5 L497.5 93.7 L497.0 92.2 L496.5 92.7 L496.0 92.6 L495.5 93.7 L495.0 92.9 L494.5 93.3 L494.0 94.2 L493.5 94.8 L493.0 93.9 L492.5 94.1 L492.0 93.6 L491.5 93.5 L491.0 91.3 L490.5 93.7 L490.0 93.3 L489.5 93.8 L489.0 93.7 L488.5 93.4 L488.0 94.0 L487.5 92.8 L487.0 93.5 L486.5 93.8 L486.0 93.5 L485.5 95.0 L485.0 93.5 L484.5 92.0 L484.0 94.4 L483.5 94.3 L483.0 93.6 L482.5 94.3 L482.0 93.9 L481.5 94.5 L481.0 94.1 L480.5 94.0 L480.0 93.5 L479.5 94.0 L479.0 95.0 L478.5 93.9 L478.0 93.6 L477.5 93.2 L477.0 92.9 L476.5 93.0 L476.0 93.2 L475.5 94.8 L475.0 94.6 L474.5 93.8 L474.0 94.9 L473.5 94.6 L473.0 94.5 L472.5 93.5 L472.0 92.9 L471.5 94.4 L471.0 93.7 L470.5 93.9 L470.0 94.3 L469.5 92.5 L469.0 94.0 L468.5 95.1 L468.0 94.1 L467.5 93.5 L467.0 94.0 L466.5 95.0 L466.0 94.5 L465.5 96.3 L465.0 94.1 L464.5 94.3 L464.0 94.3 L463.5 95.0 L463.0 94.6 L462.5 93.7 L462.0 94.8 L461.5 95.5 L461.0 94.9 L460.5 94.4 L460.0 94.6 L459.5 94.7 L459.0 95.3 L458.5 94.9 L458.0 94.0 L457.5 95.2 L457.0 94.2 L456.5 95.2 L456.0 94.4 L455.5 95.2 L455.0 95.7 L454.5 95.2 L454.0 95.2 L453.5 94.7 L453.0 95.2 L452.5 95.0 L452.0 94.9 L451.5 94.5 L451.0 93.9 L450.5 94.7 L450.0 95.3 L449.5 95.3 L449.0 96.0 L448.5 95.3 L448.0 94.0 L447.5 95.9 L447.0 95.2 L446.5 95.3 L446.0 95.4 L445.5 96.1 L445.0 95.7 L444.5 95.4 L444.0 95.2 L443.5 94.9 L443.0 95.3 L442.5 94.8 L442.0 92.8 L441.5 96.0 L441.0 95.8 L440.5 94.6 L440.0 94.3 L439.5 95.8 L439.0 93.9 L438.5 96.8 L438.0 95.0 L437.5 96.1 L437.0 95.6 L436.5 95.1 L436.0 97.3 L435.5 95.5 L435.0 94.8 L434.5 95.7 L434.0 96.1 L433.5 95.8 L433.0 95.5 L432.6 97.0 L431.9 96.0 L431.5 100.0 L430.9 128.0 L430.3 131.0 L430.0 126.9 L429.5 128.3 L429.0 129.0 L428.5 128.5 L428.0 126.2 L427.5 127.3 L427.0 126.1 L426.5 126.7 L426.0 126.9 L425.5 125.6 L425.0 125.8 L424.5 125.2 L424.0 124.8 L423.5 125.7 L423.0 125.1 L422.5 125.8 L422.0 123.6 L421.5 123.5 L421.0 124.8 L420.5 123.2 L420.0 124.1 L419.5 123.7 L419.0 122.9 L418.5 122.5 L418.0 122.2 L417.5 123.3 L417.0 123.7 L416.5 122.1 L416.0 121.8 L415.5 120.7 L415.0 122.8 L414.5 122.0 L414.0 121.2 L413.5 121.1 L413.0 120.7 L412.5 119.5 L412.0 120.2 L411.5 119.6 L411.0 119.1 L410.5 120.5 L410.0 117.4 L409.5 119.2 L409.0 120.0 L408.5 119.0 L408.0 117.1 L407.5 118.0 L406.3 116.0 L405.5 125.0 L404.6 160.0 L404.0 145.2 L403.5 146.4 L403.0 145.7 L402.5 146.0 L402.0 146.0 L401.5 144.3 L401.0 145.1 L400.5 146.2 L400.0 146.5 L399.5 145.3 L399.0 146.8 L398.5 147.4 L398.0 147.9 L397.5 146.8 L397.0 146.2 L396.5 144.9 L396.0 145.9 L395.5 147.3 L395.0 147.5 L394.5 148.9 L394.0 150.8 L393.5 149.9 L393.0 148.9 L392.5 147.2 L392.0 149.1 L391.5 149.3 L391.0 149.7 L390.5 151.3 L390.0 152.8 L389.5 154.6 L389.0 155.3 L388.5 154.1 L388.0 154.2 L387.5 154.7 L387.0 155.6 L386.5 155.2 L386.0 153.9 L385.5 154.5 L385.0 155.3 L384.5 154.1 L384.0 153.8 L383.5 153.1 L383.0 152.9 L382.5 151.8 L382.0 152.1 L381.5 152.0 L381.0 154.3 L380.5 153.3 L380.0 152.9 L379.5 151.1 L379.0 152.5 L378.5 153.2 L378.0 153.4 L377.5 151.4 L377.0 151.1 L376.5 151.1 L376.0 150.9 L375.5 151.7 L375.0 151.7 L374.5 150.1 L374.0 150.6 L373.5 150.7 L373.0 150.3 L372.5 151.0 L372.0 150.5 L371.5 150.7 L371.0 151.7 L370.5 151.7 L370.0 151.8 L369.5 154.0 L369.0 154.2 L368.5 154.3 L368.0 152.7 L367.5 151.1 L367.0 150.8 L366.5 150.8 L366.0 151.6 L365.5 150.5 L365.0 150.9 L364.5 149.1 L364.0 150.6 L363.5 150.2 L363.0 150.3 L362.5 150.8 L362.0 150.7 L361.5 150.7 L361.0 151.3 L360.5 151.3 L360.0 151.4 L359.5 151.6 L359.0 152.2 L358.5 152.0 L358.0 154.0 L357.5 152.5 L357.0 153.0 L356.5 156.8 L356.0 154.8 L355.5 153.9 L355.0 157.2 L354.5 155.1 L354.0 155.8 L353.5 157.5 L353.0 156.6 L352.5 156.9 L352.0 157.0 L351.5 155.6 L351.0 154.5 L350.5 158.6 L350.0 158.6 L349.5 159.0 L349.0 154.8 L348.5 157.6 L348.0 158.6 L347.5 158.6 L347.0 153.8 L346.5 154.2 L346.0 156.3 L345.5 156.5 L345.0 156.7 L344.5 154.2 L344.0 154.2 L343.5 153.6 L343.0 154.8 L342.5 154.9 L342.0 153.4 L341.5 152.4 L341.0 155.0 L340.5 154.0 L340.0 154.0 L339.5 153.2 L339.0 155.1 L338.5 154.1 L338.0 153.5 L337.5 153.8 L337.0 153.1 L336.5 152.3 L336.0 153.7 L335.5 153.0 L335.0 155.0 L334.5 154.2 L334.0 153.3 L333.5 152.4 L333.0 152.3 L332.5 152.9 L332.0 153.7 L331.5 152.3 L331.0 152.8 L330.5 154.3 L330.0 154.0 L329.5 154.2 L329.0 154.5 L328.5 154.1 L328.0 155.3 L327.5 156.0 L327.0 154.8 L326.5 156.3 L326.0 159.9 L325.5 158.8 L325.0 158.7 L324.5 155.6 L324.0 155.4 L323.5 155.7 L323.0 155.1 L322.5 156.1 L322.0 156.4 L321.5 155.9 L321.0 156.4 L320.5 156.8 L320.0 155.8 L319.5 156.7 L319.0 156.5 L318.5 155.5 L318.0 153.8 L317.5 153.8 L317.0 153.9 L316.5 153.1 L316.0 153.7 L315.5 153.4 L315.0 153.0 L314.5 154.5 L314.0 151.8 L313.5 151.0 L313.0 153.1 L312.5 151.0 L312.0 150.3 L311.5 150.6 L311.0 150.3 L310.5 150.5 L310.0 150.1 L309.5 149.9 L309.0 149.8 L308.5 149.9 L308.0 150.2 L307.5 150.9 L307.0 151.6 L306.5 152.1 L306.0 153.8 L305.5 153.5 L305.0 152.2 L304.5 152.4 L304.0 152.3 L303.5 153.5 L303.0 156.0 L302.5 156.9 L302.0 156.1 L301.5 154.6 L301.0 157.1 L300.5 157.0 L300.0 154.7 L299.5 154.6 L299.0 155.2 L298.5 153.8 L298.0 153.6 L297.5 155.5 L297.0 154.8 L296.5 156.8 L296.0 155.2 L295.5 155.0 L295.0 155.8 L294.5 154.7 L294.0 153.7 L293.5 152.5 L293.0 153.1" stroke="none" stroke-width="0" fill="#7f8dc9" />
<path d="M293.5 160.4 L294.4 158.9 L295.3 155.2 L296.2 153.6 L297.1 151.3 L298.0 132.6 L298.9 136.8 L299.8 127.4 L300.7 131.5 L301.6 135.3 L302.5 145.8 L303.4 141.4 L304.3 139.3 L305.2 123.4 L306.1 132.1 L307.0 126.7 L307.9 143.0 L308.8 144.9 L309.7 148.0 L310.6 159.5 L311.5 169.4 L312.4 126.8 L313.3 133.3 L314.2 134.4 L315.1 146.0 L316.0 155.4 L316.9 152.6 L317.8 159.1 L318.7 151.0 L319.6 150.7 L320.5 149.4 L321.4 144.9 L322.3 144.3 L323.2 159.2 L324.1 151.0 L325.0 151.2 L325.9 148.5 L326.8 153.0 L327.7 145.0 L328.6 141.3 L329.5 152.6 L330.4 157.5 L331.3 154.6 L332.2 155.3 L333.1 147.9 L334.0 144.4 L334.9 124.5 L335.8 125.8 L336.7 128.6 L337.6 132.2 L338.5 139.8 L339.4 133.6 L340.3 139.0 L341.2 132.1 L342.1 142.5 L343.0 164.2 L343.9 168.1 L344.8 153.1 L345.7 157.2 L346.6 154.6 L347.5 153.7 L348.4 142.1 L349.3 172.3 L350.2 142.2 L351.1 161.5 L352.0 147.2 L352.9 148.3 L353.8 149.2 L354.7 150.6 L355.6 138.7 L356.5 142.2 L357.4 146.0 L358.3 150.1 L359.2 129.5 L360.1 133.2 L361.0 131.2 L361.9 141.2 L362.8 153.8 L363.7 142.3 L364.6 151.4 L365.5 146.0 L366.4 163.8 L367.3 142.5 L368.2 148.8 L369.1 155.8 L370.0 140.9 L370.9 138.7 L371.8 163.8 L372.7 146.1 L373.6 135.7 L374.5 142.6 L375.4 133.0 L376.3 145.3 L377.2 146.0 L378.1 142.4 L379.0 141.4 L379.9 137.2 L380.8 139.8 L381.7 136.6 L382.6 136.6 L383.5 143.9 L384.4 140.4 L385.3 155.7 L386.2 150.2 L387.1 144.3 L388.0 155.0 L388.9 140.5 L389.8 140.9 L390.7 136.3 L391.6 143.2 L392.5 150.6 L393.4 150.7 L394.3 158.3 L395.2 162.4 L396.1 134.2 L397.0 136.3 L397.9 145.5 L398.8 141.8 L399.7 140.9 L400.6 150.9 L401.5 144.5 L402.4 150.0 L403.3 146.9" stroke="#7f8dc9" stroke-width="2.0" fill="none" stroke-linejoin="round"/>
<text transform="translate(247.3,130) rotate(-90)" text-anchor="middle" font-size="25">Transmission</text>
<text transform="translate(278.6,129.6) rotate(-90)" text-anchor="middle" font-size="25">(a.u.)</text>
<text x="394.5" y="218.3" text-anchor="middle" font-size="25" >Time (10 μs</text>
<text x="394.5" y="247.6" text-anchor="middle" font-size="25" >per division)</text>
<defs><clipPath id="bclip"><rect x="674.4" y="30" width="960" height="448.6"/></clipPath></defs><g clip-path="url(#bclip)">
<path d="M674.62 411.2 675.78 411.2 675.78 442.0 676.93 442.0 676.93 430.2 678.09 430.2 678.09 440.9 679.24 440.9 679.24 450.0 680.40 450.0 680.40 442.0 681.55 442.0 681.55 451.0 682.71 451.0 682.71 442.0 683.86 442.0 683.86 415.5 685.02 415.5 685.02 443.1 686.18 443.1 686.18 433.5 687.34 433.5 687.34 441.6 688.49 441.6 688.49 444.8 689.65 444.8 689.65 442.0 690.80 442.0 690.80 434.0 691.96 434.0 691.96 435.8 693.11 435.8 693.11 444.1 694.27 444.1 694.27 443.7 695.42 443.7 695.42 440.6 696.58 440.6 696.58 447.1 697.73 447.1 697.73 433.0 698.89 433.0 698.89 436.6 700.04 436.6 700.04 443.7 701.20 443.7 701.20 442.0 702.35 442.0 702.35 414.3 703.51 414.3 703.51 448.4 704.66 448.4 704.66 427.2 705.82 427.2 705.82 443.7 706.97 443.7 706.97 409.1 708.13 409.1 708.13 448.5 709.29 448.5 709.29 438.8 710.45 438.8 710.45 439.8 711.60 439.8 711.60 437.2 712.76 437.2 712.76 439.2 713.91 439.2 713.91 436.7 715.07 436.7 715.07 437.7 716.22 437.7 716.22 440.9 717.38 440.9 717.38 442.2 718.53 442.2 718.53 425.7 719.69 425.7 719.69 436.3 720.84 436.3 720.84 429.8 722.00 429.8 722.00 443.3 723.15 443.3 723.15 419.6 724.31 419.6 724.31 435.1 725.46 435.1 725.46 439.3 726.62 439.3 726.62 440.6 727.77 440.6 727.77 440.6 728.93 440.6 728.93 441.6 730.08 441.6 730.08 430.4 731.24 430.4 731.24 432.9 732.40 432.9 732.40 431.1 733.56 431.1 733.56 432.4 734.71 432.4 734.71 439.3 735.87 439.3 735.87 440.3 737.02 440.3 737.02 440.7 738.18 440.7 738.18 444.4 739.33 444.4 739.33 442.1 740.49 442.1 740.49 442.0 741.64 442.0 741.64 432.7 742.80 432.7 742.80 433.7 743.95 433.7 743.95 436.9 745.11 436.9 745.11 442.0 746.26 442.0 746.26 439.8 747.42 439.8 747.42 440.8 748.57 440.8 748.57 412.4 749.73 412.4 749.73 434.0 750.88 434.0 750.88 429.3 752.04 429.3 752.04 441.4 753.19 441.4 753.19 437.7 754.35 437.7 754.35 443.3 755.51 443.3 755.51 433.3 756.67 433.3 756.67 444.9 757.82 444.9 757.82 437.5 758.98 437.5 758.98 438.5 760.13 438.5 760.13 418.0 761.29 418.0 761.29 435.0 762.44 435.0 762.44 423.7 763.60 423.7 763.60 437.3 764.75 437.3 764.75 414.8 765.91 414.8 765.91 433.8 767.06 433.8 767.06 423.8 768.22 423.8 768.22 428.2 769.37 428.2 769.37 427.0 770.53 427.0 770.53 436.0 771.68 436.0 771.68 425.7 772.84 425.7 772.84 441.1 773.99 441.1 773.99 427.0 775.15 427.0 775.15 428.0 776.30 428.0 776.30 423.0 777.46 423.0 777.46 429.9 778.62 429.9 778.62 420.1 779.78 420.1 779.78 444.3 780.93 444.3 780.93 417.3 782.09 417.3 782.09 445.1 783.24 445.1 783.24 415.4 784.40 415.4 784.40 435.6 785.55 435.6 785.55 413.7 786.71 413.7 786.71 430.7 787.86 430.7 787.86 411.4 789.02 411.4 789.02 437.0 790.17 437.0 790.17 409.4 791.33 409.4 791.33 440.7 792.48 440.7 792.48 406.8 793.64 406.8 793.64 428.1 794.79 428.1 794.79 406.6 795.95 406.6 795.95 434.6 797.10 434.6 797.10 402.4 798.26 402.4 798.26 423.0 799.41 423.0 799.41 421.1 800.57 421.1 800.57 433.7 801.73 433.7 801.73 398.6 802.89 398.6 802.89 423.1 804.04 423.1 804.04 397.1 805.20 397.1 805.20 444.3 806.35 444.3 806.35 394.9 807.51 394.9 807.51 427.7 808.66 427.7 808.66 392.3 809.82 392.3 809.82 452.6 810.97 452.6 810.97 391.7 812.13 391.7 812.13 392.7 813.28 392.7 813.28 388.4 814.44 388.4 814.44 398.6 815.59 398.6 815.59 387.2 816.75 387.2 816.75 425.9 817.90 425.9 817.90 384.5 819.06 384.5 819.06 422.6 820.21 422.6 820.21 397.2 821.37 397.2 821.37 434.3 822.52 434.3 822.52 380.1 823.68 380.1 823.68 431.2 824.84 431.2 824.84 398.4 826.00 398.4 826.00 441.4 827.15 441.4 827.15 375.7 828.31 375.7 828.31 420.6 829.46 420.6 829.46 392.8 830.62 392.8 830.62 428.1 831.77 428.1 831.77 372.7 832.93 372.7 832.93 429.3 834.08 429.3 834.08 371.1 835.24 371.1 835.24 427.5 836.39 427.5 836.39 368.6 837.55 368.6 837.55 373.9 838.70 373.9 838.70 365.5 839.86 365.5 839.86 444.9 841.01 444.9 841.01 363.7 842.17 363.7 842.17 373.1 843.32 373.1 843.32 377.2 844.48 377.2 844.48 432.3 845.63 432.3 845.63 361.4 846.79 361.4 846.79 429.2 847.95 429.2 847.95 357.6 849.11 357.6 849.11 432.6 850.26 432.6 850.26 357.3 851.42 357.3 851.42 360.6 852.57 360.6 852.57 353.3 853.73 353.3 853.73 428.5 854.88 428.5 854.88 352.6 856.04 352.6 856.04 417.1 857.19 417.1 857.19 350.1 858.35 350.1 858.35 389.9 859.50 389.9 859.50 347.9 860.66 347.9 860.66 355.7 861.81 355.7 861.81 344.8 862.97 344.8 862.97 352.8 864.12 352.8 864.12 342.5 865.28 342.5 865.28 396.4 866.43 396.4 866.43 341.0 867.59 341.0 867.59 354.9 868.74 354.9 868.74 358.7 869.90 358.7 869.90 408.2 871.06 408.2 871.06 337.4 872.22 337.4 872.22 379.9 873.37 379.9 873.37 334.5 874.53 334.5 874.53 363.7 875.68 363.7 875.68 334.2 876.84 334.2 876.84 347.1 877.99 347.1 877.99 331.1 879.15 331.1 879.15 360.2 880.30 360.2 880.30 329.6 881.46 329.6 881.46 421.6 882.61 421.6 882.61 326.0 883.77 326.0 883.77 339.9 884.92 339.9 884.92 337.0 886.08 337.0 886.08 406.2 887.23 406.2 887.23 322.1 888.39 322.1 888.39 367.5 889.54 367.5 889.54 326.9 890.70 326.9 890.70 328.1 891.85 328.1 891.85 328.4 893.01 328.4 893.01 367.7 894.17 367.7 894.17 315.7 895.33 315.7 895.33 319.9 896.48 319.9 896.48 315.1 897.64 315.1 897.64 426.3 898.79 426.3 898.79 314.9 899.95 314.9 899.95 332.3 901.10 332.3 901.10 310.4 902.26 310.4 902.26 368.0 903.41 368.0 903.41 308.8 904.57 308.8 904.57 420.3 905.72 420.3 905.72 305.8 906.88 305.8 906.88 398.7 908.03 398.7 908.03 306.3 909.19 306.3 909.19 365.2 910.34 365.2 910.34 311.8 911.50 311.8 911.50 333.3 912.65 333.3 912.65 299.7 913.81 299.7 913.81 383.5 914.96 383.5 914.96 298.8 916.12 298.8 916.12 399.5 917.28 399.5 917.28 295.6 918.44 295.6 918.44 381.0 919.59 381.0 919.59 295.3 920.75 295.3 920.75 406.4 921.90 406.4 921.90 291.5 923.06 291.5 923.06 296.2 924.21 296.2 924.21 297.2 925.37 297.2 925.37 379.8 926.52 379.8 926.52 287.0 927.68 287.0 927.68 374.9 928.83 374.9 928.83 285.3 929.99 285.3 929.99 369.8 931.14 369.8 931.14 284.2 932.30 284.2 932.30 285.2 933.45 285.2 933.45 282.3 934.61 282.3 934.61 318.3 935.76 318.3 935.76 278.6 936.92 278.6 936.92 328.6 938.07 328.6 938.07 278.7 939.23 278.7 939.23 299.0 940.39 299.0 940.39 275.5 941.55 275.5 941.55 294.3 942.70 294.3 942.70 273.4 943.86 273.4 943.86 330.6 945.01 330.6 945.01 270.4 946.17 270.4 946.17 324.1 947.32 324.1 947.32 269.8 948.48 269.8 948.48 288.9 949.63 288.9 949.63 267.6 950.79 267.6 950.79 367.2 951.94 367.2 951.94 265.7 953.10 265.7 953.10 333.4 954.25 333.4 954.25 265.3 955.41 265.3 955.41 376.4 956.56 376.4 956.56 260.4 957.72 260.4 957.72 360.1 958.87 360.1 958.87 260.8 960.03 260.8 960.03 360.8 961.18 360.8 961.18 257.5 962.34 257.5 962.34 268.9 963.50 268.9 963.50 260.3 964.66 260.3 964.66 261.3 965.81 261.3 965.81 252.7 966.97 252.7 966.97 299.8 968.12 299.8 968.12 251.6 969.28 251.6 969.28 382.1 970.43 382.1 970.43 248.3 971.59 248.3 971.59 359.4 972.74 359.4 972.74 247.2 973.90 247.2 973.90 254.2 975.05 254.2 975.05 244.3 976.21 244.3 976.21 312.6 977.36 312.6 977.36 242.5 978.52 242.5 978.52 371.2 979.67 371.2 979.67 240.0 980.83 240.0 980.83 276.6 981.98 276.6 981.98 238.9 983.14 238.9 983.14 246.1 984.29 246.1 984.29 237.4 985.45 237.4 985.45 293.1 986.61 293.1 986.61 233.3 987.77 233.3 987.77 249.1 988.92 249.1 988.92 233.6 990.08 233.6 990.08 327.8 991.23 327.8 991.23 231.3 992.39 231.3 992.39 251.5 993.54 251.5 993.54 227.2 994.70 227.2 994.70 326.3 995.85 326.3 995.85 234.9 997.01 234.9 997.01 342.8 998.16 342.8 998.16 231.7 999.32 231.7 999.32 267.6 1000.47 267.6 1000.47 222.0 1001.63 222.0 1001.63 343.4 1002.78 343.4 1002.78 221.0 1003.94 221.0 1003.94 311.2 1005.09 311.2 1005.09 223.9 1006.25 223.9 1006.25 345.7 1007.40 345.7 1007.40 215.5 1008.56 215.5 1008.56 232.5 1009.72 232.5 1009.72 235.3 1010.88 235.3 1010.88 350.4 1012.03 350.4 1012.03 212.5 1013.19 212.5 1013.19 300.0 1014.34 300.0 1014.34 210.1 1015.50 210.1 1015.50 315.0 1016.65 315.0 1016.65 207.0 1017.81 207.0 1017.81 236.2 1018.96 236.2 1018.96 205.4 1020.12 205.4 1020.12 268.7 1021.27 268.7 1021.27 219.3 1022.43 219.3 1022.43 329.6 1023.58 329.6 1023.58 201.7 1024.74 201.7 1024.74 305.7 1025.89 305.7 1025.89 199.3 1027.05 199.3 1027.05 281.2 1028.20 281.2 1028.20 197.4 1029.36 197.4 1029.36 336.6 1030.51 336.6 1030.51 194.5 1031.67 194.5 1031.67 272.6 1032.83 272.6 1032.83 193.4 1033.99 193.4 1033.99 257.4 1035.14 257.4 1035.14 190.7 1036.30 190.7 1036.30 317.1 1037.45 317.1 1037.45 191.8 1038.61 191.8 1038.61 212.5 1039.76 212.5 1039.76 187.9 1040.92 187.9 1040.92 314.9 1042.07 314.9 1042.07 184.7 1043.23 184.7 1043.23 224.9 1044.38 224.9 1044.38 185.5 1045.54 185.5 1045.54 222.5 1046.69 222.5 1046.69 180.7 1047.85 180.7 1047.85 257.4 1049.00 257.4 1049.00 178.6 1050.16 178.6 1050.16 306.2 1051.31 306.2 1051.31 179.9 1052.47 179.9 1052.47 245.3 1053.62 245.3 1053.62 181.8 1054.78 181.8 1054.78 316.0 1055.94 316.0 1055.94 181.7 1057.10 181.7 1057.10 208.9 1058.25 208.9 1058.25 181.9 1059.41 181.9 1059.41 246.8 1060.56 246.8 1060.56 170.9 1061.72 170.9 1061.72 254.6 1062.87 254.6 1062.87 167.7 1064.03 167.7 1064.03 188.1 1065.18 188.1 1065.18 164.1 1066.34 164.1 1066.34 226.8 1067.49 226.8 1067.49 185.0 1068.65 185.0 1068.65 289.2 1069.80 289.2 1069.80 161.4 1070.96 161.4 1070.96 308.2 1072.11 308.2 1072.11 159.9 1073.27 159.9 1073.27 244.1 1074.42 244.1 1074.42 178.5 1075.58 178.5 1075.58 272.0 1076.73 272.0 1076.73 154.9 1077.89 154.9 1077.89 183.3 1079.05 183.3 1079.05 153.0 1080.21 153.0 1080.21 184.4 1081.36 184.4 1081.36 152.4 1082.52 152.4 1082.52 195.0 1083.67 195.0 1083.67 149.0 1084.83 149.0 1084.83 270.3 1085.98 270.3 1085.98 146.5 1087.14 146.5 1087.14 271.6 1088.29 271.6 1088.29 145.5 1089.45 145.5 1089.45 284.8 1090.60 284.8 1090.60 143.1 1091.76 143.1 1091.76 248.8 1092.91 248.8 1092.91 143.1 1094.07 143.1 1094.07 230.4 1095.22 230.4 1095.22 139.2 1096.38 139.2 1096.38 260.8 1097.53 260.8 1097.53 139.1 1098.69 139.1 1098.69 274.2 1099.84 274.2 1099.84 138.2 1101.00 138.2 1101.00 267.9 1102.16 267.9 1102.16 151.7 1103.32 151.7 1103.32 255.0 1104.47 255.0 1104.47 131.9 1105.63 131.9 1105.63 253.6 1106.78 253.6 1106.78 130.5 1107.94 130.5 1107.94 246.7 1109.09 246.7 1109.09 129.4 1110.25 129.4 1110.25 258.4 1111.40 258.4 1111.40 138.4 1112.56 138.4 1112.56 212.2 1113.71 212.2 1113.71 125.1 1114.87 125.1 1114.87 147.5 1116.02 147.5 1116.02 125.0 1117.18 125.0 1117.18 273.3 1118.33 273.3 1118.33 124.2 1119.49 124.2 1119.49 167.8 1120.64 167.8 1120.64 121.5 1121.80 121.5 1121.80 122.5 1122.95 122.5 1122.95 135.8 1124.11 135.8 1124.11 259.2 1125.27 259.2 1125.27 117.2 1126.43 117.2 1126.43 202.7 1127.58 202.7 1127.58 115.7 1128.74 115.7 1128.74 230.2 1129.89 230.2 1129.89 113.9 1131.05 113.9 1131.05 247.4 1132.20 247.4 1132.20 112.8 1133.36 112.8 1133.36 212.4 1134.51 212.4 1134.51 110.5 1135.67 110.5 1135.67 141.3 1136.82 141.3 1136.82 110.9 1137.98 110.9 1137.98 204.7 1139.13 204.7 1139.13 109.0 1140.29 109.0 1140.29 144.9 1141.44 144.9 1141.44 106.4 1142.60 106.4 1142.60 168.4 1143.75 168.4 1143.75 105.4 1144.91 105.4 1144.91 233.6 1146.06 233.6 1146.06 103.7 1147.22 103.7 1147.22 108.7 1148.38 108.7 1148.38 102.9 1149.54 102.9 1149.54 205.9 1150.69 205.9 1150.69 101.5 1151.85 101.5 1151.85 110.2 1153.00 110.2 1153.00 100.3 1154.16 100.3 1154.16 109.6 1155.31 109.6 1155.31 116.2 1156.47 116.2 1156.47 120.6 1157.62 120.6 1157.62 99.4 1158.78 99.4 1158.78 160.4 1159.93 160.4 1159.93 98.3 1161.09 98.3 1161.09 184.8 1162.24 184.8 1162.24 114.9 1163.40 114.9 1163.40 185.4 1164.55 185.4 1164.55 96.5 1165.71 96.5 1165.71 136.9 1166.86 136.9 1166.86 96.0 1168.02 96.0 1168.02 220.3 1169.17 220.3 1169.17 110.6 1170.33 110.6 1170.33 111.6 1171.49 111.6 1171.49 94.1 1172.65 94.1 1172.65 187.6 1173.80 187.6 1173.80 94.4 1174.96 94.4 1174.96 167.7 1176.11 167.7 1176.11 92.9 1177.27 92.9 1177.27 174.8 1178.42 174.8 1178.42 93.4 1179.58 93.4 1179.58 199.6 1180.73 199.6 1180.73 111.7 1181.89 111.7 1181.89 218.9 1183.04 218.9 1183.04 92.9 1184.20 92.9 1184.20 93.9 1185.35 93.9 1185.35 104.8 1186.51 104.8 1186.51 187.9 1187.66 187.9 1187.66 92.7 1188.82 92.7 1188.82 161.1 1189.97 161.1 1189.97 92.3 1191.13 92.3 1191.13 131.5 1192.28 131.5 1192.28 92.7 1193.44 92.7 1193.44 223.7 1194.60 223.7 1194.60 92.4 1195.76 92.4 1195.76 242.7 1196.91 242.7 1196.91 99.0 1198.07 99.0 1198.07 239.7 1199.22 239.7 1199.22 94.3 1200.38 94.3 1200.38 243.7 1201.53 243.7 1201.53 93.9 1202.69 93.9 1202.69 245.1 1203.84 245.1 1203.84 95.7 1205.00 95.7 1205.00 108.5 1206.15 108.5 1206.15 94.4 1207.31 94.4 1207.31 129.7 1208.46 129.7 1208.46 96.3 1209.62 96.3 1209.62 131.0 1210.77 131.0 1210.77 96.2 1211.93 96.2 1211.93 178.7 1213.08 178.7 1213.08 110.9 1214.24 110.9 1214.24 229.5 1215.39 229.5 1215.39 99.2 1216.55 99.2 1216.55 188.2 1217.71 188.2 1217.71 99.6 1218.87 99.6 1218.87 254.0 1220.02 254.0 1220.02 100.7 1221.18 100.7 1221.18 244.0 1222.33 244.0 1222.33 101.2 1223.49 101.2 1223.49 267.6 1224.64 267.6 1224.64 102.2 1225.80 102.2 1225.80 123.3 1226.95 123.3 1226.95 106.7 1228.11 106.7 1228.11 212.2 1229.26 212.2 1229.26 106.1 1230.42 106.1 1230.42 241.8 1231.57 241.8 1231.57 105.0 1232.73 105.0 1232.73 200.3 1233.88 200.3 1233.88 107.0 1235.04 107.0 1235.04 247.9 1236.19 247.9 1236.19 107.3 1237.35 107.3 1237.35 185.5 1238.50 185.5 1238.50 110.1 1239.66 110.1 1239.66 111.4 1240.82 111.4 1240.82 131.3 1241.98 131.3 1241.98 187.8 1243.13 187.8 1243.13 112.4 1244.29 112.4 1244.29 119.9 1245.44 119.9 1245.44 113.5 1246.60 113.5 1246.60 153.6 1247.75 153.6 1247.75 114.6 1248.91 114.6 1248.91 195.9 1250.06 195.9 1250.06 117.9 1251.22 117.9 1251.22 266.3 1252.37 266.3 1252.37 117.7 1253.53 117.7 1253.53 232.6 1254.68 232.6 1254.68 135.8 1255.84 135.8 1255.84 258.0 1256.99 258.0 1256.99 123.1 1258.15 123.1 1258.15 277.2 1259.30 277.2 1259.30 123.1 1260.46 123.1 1260.46 126.6 1261.61 126.6 1261.61 124.9 1262.77 124.9 1262.77 261.5 1263.93 261.5 1263.93 127.4 1265.09 127.4 1265.09 268.9 1266.24 268.9 1266.24 133.8 1267.40 133.8 1267.40 195.2 1268.55 195.2 1268.55 130.0 1269.71 130.0 1269.71 155.7 1270.86 155.7 1270.86 133.8 1272.02 133.8 1272.02 271.4 1273.17 271.4 1273.17 134.8 1274.33 134.8 1274.33 149.4 1275.48 149.4 1275.48 136.4 1276.64 136.4 1276.64 178.7 1277.79 178.7 1277.79 137.8 1278.95 137.8 1278.95 158.1 1280.10 158.1 1280.10 138.9 1281.26 138.9 1281.26 202.4 1282.41 202.4 1282.41 140.5 1283.57 140.5 1283.57 240.3 1284.72 240.3 1284.72 152.1 1285.88 152.1 1285.88 184.5 1287.04 184.5 1287.04 167.2 1288.20 167.2 1288.20 191.2 1289.35 191.2 1289.35 150.5 1290.51 150.5 1290.51 168.9 1291.66 168.9 1291.66 150.6 1292.82 150.6 1292.82 248.3 1293.97 248.3 1293.97 150.7 1295.13 150.7 1295.13 183.2 1296.28 183.2 1296.28 161.3 1297.44 161.3 1297.44 205.1 1298.59 205.1 1298.59 167.2 1299.75 167.2 1299.75 243.6 1300.90 243.6 1300.90 158.7 1302.06 158.7 1302.06 207.1 1303.21 207.1 1303.21 158.4 1304.37 158.4 1304.37 183.9 1305.52 183.9 1305.52 159.7 1306.68 159.7 1306.68 292.2 1307.83 292.2 1307.83 161.8 1308.99 161.8 1308.99 269.6 1310.15 269.6 1310.15 164.3 1311.31 164.3 1311.31 306.4 1312.46 306.4 1312.46 167.6 1313.62 167.6 1313.62 216.1 1314.77 216.1 1314.77 171.0 1315.93 171.0 1315.93 260.0 1317.08 260.0 1317.08 171.0 1318.24 171.0 1318.24 241.7 1319.39 241.7 1319.39 171.6 1320.55 171.6 1320.55 288.8 1321.70 288.8 1321.70 191.9 1322.86 191.9 1322.86 232.2 1324.01 232.2 1324.01 177.1 1325.17 177.1 1325.17 278.3 1326.32 278.3 1326.32 184.4 1327.48 184.4 1327.48 259.2 1328.63 259.2 1328.63 180.8 1329.79 180.8 1329.79 294.2 1330.94 294.2 1330.94 182.1 1332.10 182.1 1332.10 254.5 1333.26 254.5 1333.26 185.2 1334.42 185.2 1334.42 214.7 1335.57 214.7 1335.57 189.3 1336.73 189.3 1336.73 206.2 1337.88 206.2 1337.88 188.2 1339.04 188.2 1339.04 299.6 1340.19 299.6 1340.19 191.5 1341.35 191.5 1341.35 265.5 1342.50 265.5 1342.50 192.3 1343.66 192.3 1343.66 213.3 1344.81 213.3 1344.81 194.1 1345.97 194.1 1345.97 198.0 1347.12 198.0 1347.12 197.4 1348.28 197.4 1348.28 305.5 1349.43 305.5 1349.43 198.0 1350.59 198.0 1350.59 311.7 1351.74 311.7 1351.74 200.1 1352.90 200.1 1352.90 206.4 1354.05 206.4 1354.05 202.2 1355.21 202.2 1355.21 304.2 1356.37 304.2 1356.37 204.6 1357.53 204.6 1357.53 318.8 1358.68 318.8 1358.68 206.3 1359.84 206.3 1359.84 318.0 1360.99 318.0 1360.99 210.4 1362.15 210.4 1362.15 285.4 1363.30 285.4 1363.30 212.6 1364.46 212.6 1364.46 218.3 1365.61 218.3 1365.61 213.5 1366.77 213.5 1366.77 293.6 1367.92 293.6 1367.92 215.1 1369.08 215.1 1369.08 286.2 1370.23 286.2 1370.23 217.2 1371.39 217.2 1371.39 243.0 1372.54 243.0 1372.54 220.4 1373.70 220.4 1373.70 324.8 1374.85 324.8 1374.85 220.8 1376.01 220.8 1376.01 238.7 1377.16 238.7 1377.16 224.9 1378.32 224.9 1378.32 237.9 1379.48 237.9 1379.48 225.2 1380.64 225.2 1380.64 230.7 1381.79 230.7 1381.79 241.5 1382.95 241.5 1382.95 332.9 1384.10 332.9 1384.10 229.0 1385.26 229.0 1385.26 254.4 1386.41 254.4 1386.41 232.3 1387.57 232.3 1387.57 321.6 1388.72 321.6 1388.72 233.3 1389.88 233.3 1389.88 334.9 1391.03 334.9 1391.03 235.9 1392.19 235.9 1392.19 326.2 1393.34 326.2 1393.34 258.2 1394.50 258.2 1394.50 269.4 1395.65 269.4 1395.65 240.5 1396.81 240.5 1396.81 265.2 1397.96 265.2 1397.96 246.8 1399.12 246.8 1399.12 316.0 1400.27 316.0 1400.27 243.2 1401.43 243.2 1401.43 359.0 1402.59 359.0 1402.59 245.8 1403.75 245.8 1403.75 341.0 1404.90 341.0 1404.90 247.3 1406.06 247.3 1406.06 325.9 1407.21 325.9 1407.21 250.1 1408.37 250.1 1408.37 305.2 1409.52 305.2 1409.52 252.1 1410.68 252.1 1410.68 371.2 1411.83 371.2 1411.83 255.9 1412.99 255.9 1412.99 353.2 1414.14 353.2 1414.14 256.5 1415.30 256.5 1415.30 301.7 1416.45 301.7 1416.45 258.2 1417.61 258.2 1417.61 342.2 1418.76 342.2 1418.76 260.1 1419.92 260.1 1419.92 367.4 1421.07 367.4 1421.07 262.4 1422.23 262.4 1422.23 294.0 1423.38 294.0 1423.38 264.7 1424.54 264.7 1424.54 386.2 1425.70 386.2 1425.70 265.8 1426.86 265.8 1426.86 272.5 1428.01 272.5 1428.01 268.0 1429.17 268.0 1429.17 338.6 1430.32 338.6 1430.32 272.6 1431.48 272.6 1431.48 284.9 1432.63 284.9 1432.63 274.1 1433.79 274.1 1433.79 298.7 1434.94 298.7 1434.94 274.8 1436.10 274.8 1436.10 354.0 1437.25 354.0 1437.25 276.3 1438.41 276.3 1438.41 376.8 1439.56 376.8 1439.56 279.5 1440.72 279.5 1440.72 289.5 1441.87 289.5 1441.87 282.4 1443.03 282.4 1443.03 381.6 1444.18 381.6 1444.18 282.8 1445.34 282.8 1445.34 402.6 1446.49 402.6 1446.49 285.7 1447.65 285.7 1447.65 343.8 1448.81 343.8 1448.81 288.5 1449.97 288.5 1449.97 313.1 1451.12 313.1 1451.12 289.4 1452.28 289.4 1452.28 360.9 1453.43 360.9 1453.43 291.1 1454.59 291.1 1454.59 297.5 1455.74 297.5 1455.74 294.4 1456.90 294.4 1456.90 378.5 1458.05 378.5 1458.05 296.8 1459.21 296.8 1459.21 330.4 1460.36 330.4 1460.36 297.1 1461.52 297.1 1461.52 404.0 1462.67 404.0 1462.67 320.1 1463.83 320.1 1463.83 357.6 1464.98 357.6 1464.98 303.2 1466.14 303.2 1466.14 347.4 1467.29 347.4 1467.29 303.0 1468.45 303.0 1468.45 407.7 1469.60 407.7 1469.60 307.3 1470.76 307.3 1470.76 420.1 1471.92 420.1 1471.92 308.3 1473.08 308.3 1473.08 393.8 1474.23 393.8 1474.23 323.2 1475.39 323.2 1475.39 324.2 1476.54 324.2 1476.54 312.4 1477.70 312.4 1477.70 426.4 1478.85 426.4 1478.85 315.2 1480.01 315.2 1480.01 421.6 1481.16 421.6 1481.16 315.6 1482.32 315.6 1482.32 369.3 1483.47 369.3 1483.47 318.0 1484.63 318.0 1484.63 404.8 1485.78 404.8 1485.78 320.0 1486.94 320.0 1486.94 351.3 1488.09 351.3 1488.09 321.5 1489.25 321.5 1489.25 420.2 1490.40 420.2 1490.40 324.7 1491.56 324.7 1491.56 375.6 1492.71 375.6 1492.71 335.1 1493.87 335.1 1493.87 414.8 1495.03 414.8 1495.03 343.3 1496.19 343.3 1496.19 419.7 1497.34 419.7 1497.34 331.3 1498.50 331.3 1498.50 408.8 1499.65 408.8 1499.65 332.1 1500.81 332.1 1500.81 415.3 1501.96 415.3 1501.96 333.8 1503.12 333.8 1503.12 420.5 1504.27 420.5 1504.27 336.7 1505.43 336.7 1505.43 411.7 1506.58 411.7 1506.58 338.9 1507.74 338.9 1507.74 412.9 1508.89 412.9 1508.89 341.1 1510.05 341.1 1510.05 422.4 1511.20 422.4 1511.20 343.3 1512.36 343.3 1512.36 426.6 1513.51 426.6 1513.51 344.3 1514.67 344.3 1514.67 421.7 1515.82 421.7 1515.82 347.7 1516.98 347.7 1516.98 426.0 1518.14 426.0 1518.14 349.3 1519.30 349.3 1519.30 423.3 1520.45 423.3 1520.45 353.6 1521.61 353.6 1521.61 416.5 1522.76 416.5 1522.76 354.8 1523.92 354.8 1523.92 423.4 1525.07 423.4 1525.07 376.8 1526.23 376.8 1526.23 377.8 1527.38 377.8 1527.38 357.9 1528.54 357.9 1528.54 430.6 1529.69 430.6 1529.69 359.0 1530.85 359.0 1530.85 420.6 1532.00 420.6 1532.00 363.6 1533.16 363.6 1533.16 426.4 1534.31 426.4 1534.31 373.0 1535.47 373.0 1535.47 374.0 1536.62 374.0 1536.62 365.7 1537.78 365.7 1537.78 429.6 1538.93 429.6 1538.93 375.7 1540.09 375.7 1540.09 423.7 1541.25 423.7 1541.25 369.4 1542.41 369.4 1542.41 432.1 1543.56 432.1 1543.56 370.9 1544.72 370.9 1544.72 441.5 1545.87 441.5 1545.87 373.1 1547.03 373.1 1547.03 433.6 1548.18 433.6 1548.18 375.6 1549.34 375.6 1549.34 424.8 1550.49 424.8 1550.49 397.9 1551.65 397.9 1551.65 420.1 1552.80 420.1 1552.80 381.2 1553.96 381.2 1553.96 427.5 1555.11 427.5 1555.11 381.3 1556.27 381.3 1556.27 435.2 1557.42 435.2 1557.42 385.4 1558.58 385.4 1558.58 438.2 1559.73 438.2 1559.73 387.0 1560.89 387.0 1560.89 440.0 1562.04 440.0 1562.04 389.9 1563.20 389.9 1563.20 427.6 1564.36 427.6 1564.36 390.5 1565.52 390.5 1565.52 426.3 1566.67 426.3 1566.67 410.0 1567.83 410.0 1567.83 435.5 1568.98 435.5 1568.98 395.2 1570.14 395.2 1570.14 431.8 1571.29 431.8 1571.29 396.9 1572.45 396.9 1572.45 434.1 1573.60 434.1 1573.60 398.9 1574.76 398.9 1574.76 421.3 1575.91 421.3 1575.91 401.1 1577.07 401.1 1577.07 425.9 1578.22 425.9 1578.22 412.1 1579.38 412.1 1579.38 414.0 1580.53 414.0 1580.53 404.7 1581.69 404.7 1581.69 438.7 1582.84 438.7 1582.84 407.6 1584.00 407.6 1584.00 431.9 1585.15 431.9 1585.15 417.8 1586.31 417.8 1586.31 427.0 1587.47 427.0 1587.47 411.7 1588.63 411.7 1588.63 431.0 1589.78 431.0 1589.78 412.8 1590.94 412.8 1590.94 435.8 1592.09 435.8 1592.09 414.5 1593.25 414.5 1593.25 433.6 1594.40 433.6 1594.40 416.9 1595.56 416.9 1595.56 433.0 1596.71 433.0 1596.71 419.0 1597.87 419.0 1597.87 436.1 1599.02 436.1 1599.02 422.0 1600.18 422.0 1600.18 434.0 1601.33 434.0 1601.33 422.6 1602.49 422.6 1602.49 430.6 1603.64 430.6 1603.64 425.3 1604.80 425.3 1604.80 433.9 1605.95 433.9 1605.95 427.8 1607.11 427.8 1607.11 442.6 1608.26 442.6 1608.26 430.2 1609.42 430.2 1609.42 435.1 1610.58 435.1 1610.58 430.7 1611.74 430.7 1611.74 432.5 1612.89 432.5 1612.89 434.1 1614.05 434.1 1614.05 435.1 1615.20 435.1 1615.20 435.9 1616.36 435.9 1616.36 436.9 1617.51 436.9 1617.51 437.7 1618.67 437.7 1618.67 438.7 1619.82 438.7 1619.82 440.3 1620.98 440.3 1620.98 441.3 1622.13 441.3 1622.13 434.7 1623.29 434.7 1623.29 479.4 1622.13 479.4 1622.13 462.0 1620.98 462.0 1620.98 479.4 1619.82 479.4 1619.82 479.4 1618.67 479.4 1618.67 479.4 1617.51 479.4 1617.51 470.0 1616.36 470.0 1616.36 479.4 1615.20 479.4 1615.20 479.4 1614.05 479.4 1614.05 479.4 1612.89 479.4 1612.89 479.4 1611.74 479.4 1611.74 479.4 1610.58 479.4 1610.58 479.4 1609.42 479.4 1609.42 479.4 1608.26 479.4 1608.26 479.4 1607.11 479.4 1607.11 479.4 1605.95 479.4 1605.95 479.4 1604.80 479.4 1604.80 479.4 1603.64 479.4 1603.64 479.4 1602.49 479.4 1602.49 479.4 1601.33 479.4 1601.33 479.4 1600.18 479.4 1600.18 479.4 1599.02 479.4 1599.02 479.4 1597.87 479.4 1597.87 479.4 1596.71 479.4 1596.71 479.4 1595.56 479.4 1595.56 479.4 1594.40 479.4 1594.40 479.4 1593.25 479.4 1593.25 479.4 1592.09 479.4 1592.09 479.4 1590.94 479.4 1590.94 479.4 1589.78 479.4 1589.78 479.4 1588.63 479.4 1588.63 479.4 1587.47 479.4 1587.47 478.8 1586.31 478.8 1586.31 479.4 1585.15 479.4 1585.15 479.4 1584.00 479.4 1584.00 479.4 1582.84 479.4 1582.84 479.4 1581.69 479.4 1581.69 479.4 1580.53 479.4 1580.53 479.4 1579.38 479.4 1579.38 479.4 1578.22 479.4 1578.22 479.4 1577.07 479.4 1577.07 479.4 1575.91 479.4 1575.91 479.4 1574.76 479.4 1574.76 479.4 1573.60 479.4 1573.60 479.4 1572.45 479.4 1572.45 479.4 1571.29 479.4 1571.29 479.4 1570.14 479.4 1570.14 479.4 1568.98 479.4 1568.98 476.8 1567.83 476.8 1567.83 479.4 1566.67 479.4 1566.67 479.4 1565.52 479.4 1565.52 479.4 1564.36 479.4 1564.36 479.4 1563.20 479.4 1563.20 479.4 1562.04 479.4 1562.04 475.0 1560.89 475.0 1560.89 479.4 1559.73 479.4 1559.73 479.4 1558.58 479.4 1558.58 479.4 1557.42 479.4 1557.42 479.4 1556.27 479.4 1556.27 479.4 1555.11 479.4 1555.11 479.4 1553.96 479.4 1553.96 479.4 1552.80 479.4 1552.80 479.4 1551.65 479.4 1551.65 479.4 1550.49 479.4 1550.49 479.4 1549.34 479.4 1549.34 479.4 1548.18 479.4 1548.18 479.4 1547.03 479.4 1547.03 479.4 1545.87 479.4 1545.87 479.4 1544.72 479.4 1544.72 479.4 1543.56 479.4 1543.56 479.4 1542.41 479.4 1542.41 479.4 1541.25 479.4 1541.25 479.4 1540.09 479.4 1540.09 479.4 1538.93 479.4 1538.93 460.6 1537.78 460.6 1537.78 479.4 1536.62 479.4 1536.62 470.2 1535.47 470.2 1535.47 479.4 1534.31 479.4 1534.31 479.4 1533.16 479.4 1533.16 479.4 1532.00 479.4 1532.00 472.3 1530.85 472.3 1530.85 479.4 1529.69 479.4 1529.69 479.4 1528.54 479.4 1528.54 479.4 1527.38 479.4 1527.38 479.4 1526.23 479.4 1526.23 479.4 1525.07 479.4 1525.07 473.3 1523.92 473.3 1523.92 479.4 1522.76 479.4 1522.76 479.4 1521.61 479.4 1521.61 479.4 1520.45 479.4 1520.45 472.3 1519.30 472.3 1519.30 479.4 1518.14 479.4 1518.14 479.4 1516.98 479.4 1516.98 479.4 1515.82 479.4 1515.82 479.4 1514.67 479.4 1514.67 479.4 1513.51 479.4 1513.51 479.4 1512.36 479.4 1512.36 479.4 1511.20 479.4 1511.20 479.4 1510.05 479.4 1510.05 479.4 1508.89 479.4 1508.89 479.4 1507.74 479.4 1507.74 479.4 1506.58 479.4 1506.58 478.7 1505.43 478.7 1505.43 479.4 1504.27 479.4 1504.27 479.4 1503.12 479.4 1503.12 479.4 1501.96 479.4 1501.96 479.4 1500.81 479.4 1500.81 479.4 1499.65 479.4 1499.65 479.4 1498.50 479.4 1498.50 479.4 1497.34 479.4 1497.34 479.4 1496.19 479.4 1496.19 479.4 1495.03 479.4 1495.03 479.4 1493.87 479.4 1493.87 479.4 1492.71 479.4 1492.71 461.1 1491.56 461.1 1491.56 479.4 1490.40 479.4 1490.40 479.4 1489.25 479.4 1489.25 479.4 1488.09 479.4 1488.09 479.4 1486.94 479.4 1486.94 479.4 1485.78 479.4 1485.78 479.4 1484.63 479.4 1484.63 479.4 1483.47 479.4 1483.47 479.4 1482.32 479.4 1482.32 479.4 1481.16 479.4 1481.16 479.4 1480.01 479.4 1480.01 479.4 1478.85 479.4 1478.85 469.8 1477.70 469.8 1477.70 479.4 1476.54 479.4 1476.54 479.4 1475.39 479.4 1475.39 479.4 1474.23 479.4 1474.23 479.4 1473.08 479.4 1473.08 479.4 1471.92 479.4 1471.92 479.4 1470.76 479.4 1470.76 479.4 1469.60 479.4 1469.60 479.4 1468.45 479.4 1468.45 479.4 1467.29 479.4 1467.29 479.4 1466.14 479.4 1466.14 479.4 1464.98 479.4 1464.98 479.4 1463.83 479.4 1463.83 479.4 1462.67 479.4 1462.67 472.5 1461.52 472.5 1461.52 479.4 1460.36 479.4 1460.36 479.4 1459.21 479.4 1459.21 479.4 1458.05 479.4 1458.05 479.4 1456.90 479.4 1456.90 479.4 1455.74 479.4 1455.74 479.4 1454.59 479.4 1454.59 479.4 1453.43 479.4 1453.43 479.4 1452.28 479.4 1452.28 479.4 1451.12 479.4 1451.12 479.4 1449.97 479.4 1449.97 479.4 1448.81 479.4 1448.81 479.4 1447.65 479.4 1447.65 479.4 1446.49 479.4 1446.49 479.4 1445.34 479.4 1445.34 479.4 1444.18 479.4 1444.18 479.4 1443.03 479.4 1443.03 479.4 1441.87 479.4 1441.87 473.2 1440.72 473.2 1440.72 479.4 1439.56 479.4 1439.56 479.4 1438.41 479.4 1438.41 479.4 1437.25 479.4 1437.25 479.4 1436.10 479.4 1436.10 479.4 1434.94 479.4 1434.94 479.4 1433.79 479.4 1433.79 479.4 1432.63 479.4 1432.63 479.4 1431.48 479.4 1431.48 479.4 1430.32 479.4 1430.32 479.4 1429.17 479.4 1429.17 479.4 1428.01 479.4 1428.01 479.4 1426.86 479.4 1426.86 479.4 1425.70 479.4 1425.70 479.4 1424.54 479.4 1424.54 479.4 1423.38 479.4 1423.38 479.4 1422.23 479.4 1422.23 479.4 1421.07 479.4 1421.07 474.5 1419.92 474.5 1419.92 479.4 1418.76 479.4 1418.76 479.4 1417.61 479.4 1417.61 479.4 1416.45 479.4 1416.45 479.4 1415.30 479.4 1415.30 479.4 1414.14 479.4 1414.14 479.4 1412.99 479.4 1412.99 479.4 1411.83 479.4 1411.83 479.4 1410.68 479.4 1410.68 479.4 1409.52 479.4 1409.52 479.4 1408.37 479.4 1408.37 479.4 1407.21 479.4 1407.21 479.4 1406.06 479.4 1406.06 479.4 1404.90 479.4 1404.90 479.4 1403.75 479.4 1403.75 479.4 1402.59 479.4 1402.59 479.4 1401.43 479.4 1401.43 479.4 1400.27 479.4 1400.27 466.4 1399.12 466.4 1399.12 479.4 1397.96 479.4 1397.96 479.4 1396.81 479.4 1396.81 479.4 1395.65 479.4 1395.65 479.4 1394.50 479.4 1394.50 479.4 1393.34 479.4 1393.34 479.4 1392.19 479.4 1392.19 479.4 1391.03 479.4 1391.03 479.4 1389.88 479.4 1389.88 479.4 1388.72 479.4 1388.72 479.4 1387.57 479.4 1387.57 479.4 1386.41 479.4 1386.41 479.4 1385.26 479.4 1385.26 479.4 1384.10 479.4 1384.10 479.4 1382.95 479.4 1382.95 479.4 1381.79 479.4 1381.79 479.4 1380.64 479.4 1380.64 479.4 1379.48 479.4 1379.48 479.4 1378.32 479.4 1378.32 479.4 1377.16 479.4 1377.16 479.4 1376.01 479.4 1376.01 479.4 1374.85 479.4 1374.85 479.4 1373.70 479.4 1373.70 479.4 1372.54 479.4 1372.54 479.4 1371.39 479.4 1371.39 479.4 1370.23 479.4 1370.23 479.4 1369.08 479.4 1369.08 479.4 1367.92 479.4 1367.92 479.4 1366.77 479.4 1366.77 479.4 1365.61 479.4 1365.61 471.9 1364.46 471.9 1364.46 479.4 1363.30 479.4 1363.30 479.4 1362.15 479.4 1362.15 479.4 1360.99 479.4 1360.99 479.4 1359.84 479.4 1359.84 479.4 1358.68 479.4 1358.68 479.4 1357.53 479.4 1357.53 479.4 1356.37 479.4 1356.37 479.4 1355.21 479.4 1355.21 479.4 1354.05 479.4 1354.05 479.4 1352.90 479.4 1352.90 479.4 1351.74 479.4 1351.74 471.3 1350.59 471.3 1350.59 479.4 1349.43 479.4 1349.43 479.4 1348.28 479.4 1348.28 479.4 1347.12 479.4 1347.12 478.9 1345.97 478.9 1345.97 479.4 1344.81 479.4 1344.81 479.4 1343.66 479.4 1343.66 479.4 1342.50 479.4 1342.50 479.4 1341.35 479.4 1341.35 479.4 1340.19 479.4 1340.19 479.3 1339.04 479.3 1339.04 479.4 1337.88 479.4 1337.88 457.5 1336.73 457.5 1336.73 479.4 1335.57 479.4 1335.57 479.4 1334.42 479.4 1334.42 479.4 1333.26 479.4 1333.26 479.4 1332.10 479.4 1332.10 479.4 1330.94 479.4 1330.94 478.7 1329.79 478.7 1329.79 479.4 1328.63 479.4 1328.63 479.4 1327.48 479.4 1327.48 479.4 1326.32 479.4 1326.32 479.4 1325.17 479.4 1325.17 479.4 1324.01 479.4 1324.01 467.3 1322.86 467.3 1322.86 479.4 1321.70 479.4 1321.70 479.4 1320.55 479.4 1320.55 479.4 1319.39 479.4 1319.39 467.5 1318.24 467.5 1318.24 479.4 1317.08 479.4 1317.08 456.2 1315.93 456.2 1315.93 479.4 1314.77 479.4 1314.77 479.4 1313.62 479.4 1313.62 479.4 1312.46 479.4 1312.46 455.1 1311.31 455.1 1311.31 479.4 1310.15 479.4 1310.15 478.1 1308.99 478.1 1308.99 479.4 1307.83 479.4 1307.83 474.5 1306.68 474.5 1306.68 479.4 1305.52 479.4 1305.52 479.4 1304.37 479.4 1304.37 479.4 1303.21 479.4 1303.21 474.1 1302.06 474.1 1302.06 479.4 1300.90 479.4 1300.90 475.0 1299.75 475.0 1299.75 479.4 1298.59 479.4 1298.59 473.6 1297.44 473.6 1297.44 479.4 1296.28 479.4 1296.28 479.4 1295.13 479.4 1295.13 479.4 1293.97 479.4 1293.97 479.4 1292.82 479.4 1292.82 479.4 1291.66 479.4 1291.66 479.4 1290.51 479.4 1290.51 479.4 1289.35 479.4 1289.35 472.1 1288.20 472.1 1288.20 479.4 1287.04 479.4 1287.04 454.5 1285.88 454.5 1285.88 479.4 1284.72 479.4 1284.72 474.6 1283.57 474.6 1283.57 473.3 1282.41 473.3 1282.41 454.1 1281.26 454.1 1281.26 472.8 1280.10 472.8 1280.10 453.4 1278.95 453.4 1278.95 461.5 1277.79 461.5 1277.79 445.2 1276.64 445.2 1276.64 463.0 1275.48 463.0 1275.48 440.2 1274.33 440.2 1274.33 443.2 1273.17 443.2 1273.17 433.5 1272.02 433.5 1272.02 443.4 1270.86 443.4 1270.86 419.8 1269.71 419.8 1269.71 441.8 1268.55 441.8 1268.55 432.2 1267.40 432.2 1267.40 440.1 1266.24 440.1 1266.24 419.1 1265.09 419.1 1265.09 443.9 1263.93 443.9 1263.93 416.6 1262.77 416.6 1262.77 435.2 1261.61 435.2 1261.61 416.3 1260.46 416.3 1260.46 435.7 1259.30 435.7 1259.30 417.4 1258.15 417.4 1258.15 427.3 1256.99 427.3 1256.99 403.6 1255.84 403.6 1255.84 431.3 1254.68 431.3 1254.68 420.4 1253.53 420.4 1253.53 426.8 1252.37 426.8 1252.37 400.8 1251.22 400.8 1251.22 413.7 1250.06 413.7 1250.06 402.5 1248.91 402.5 1248.91 426.3 1247.75 426.3 1247.75 398.5 1246.60 398.5 1246.60 412.7 1245.44 412.7 1245.44 392.8 1244.29 392.8 1244.29 414.8 1243.13 414.8 1243.13 401.2 1241.98 401.2 1241.98 418.6 1240.82 418.6 1240.82 398.1 1239.66 398.1 1239.66 414.5 1238.50 414.5 1238.50 393.8 1237.35 393.8 1237.35 408.8 1236.19 408.8 1236.19 389.7 1235.04 389.7 1235.04 409.5 1233.88 409.5 1233.88 391.9 1232.73 391.9 1232.73 400.5 1231.57 400.5 1231.57 383.3 1230.42 383.3 1230.42 402.7 1229.26 402.7 1229.26 401.4 1228.11 401.4 1228.11 395.8 1226.95 395.8 1226.95 389.4 1225.80 389.4 1225.80 401.1 1224.64 401.1 1224.64 386.0 1223.49 386.0 1223.49 406.1 1222.33 406.1 1222.33 373.1 1221.18 373.1 1221.18 398.4 1220.02 398.4 1220.02 374.4 1218.87 374.4 1218.87 388.7 1217.71 388.7 1217.71 369.1 1216.55 369.1 1216.55 388.2 1215.39 388.2 1215.39 377.1 1214.24 377.1 1214.24 386.0 1213.08 386.0 1213.08 358.0 1211.93 358.0 1211.93 381.2 1210.77 381.2 1210.77 370.4 1209.62 370.4 1209.62 369.8 1208.46 369.8 1208.46 353.5 1207.31 353.5 1207.31 375.1 1206.15 375.1 1206.15 339.3 1205.00 339.3 1205.00 350.6 1203.84 350.6 1203.84 341.4 1202.69 341.4 1202.69 335.4 1201.53 335.4 1201.53 312.1 1200.38 312.1 1200.38 323.6 1199.22 323.6 1199.22 305.8 1198.07 305.8 1198.07 304.1 1196.91 304.1 1196.91 275.4 1195.76 275.4 1195.76 292.7 1194.60 292.7 1194.60 280.4 1193.44 280.4 1193.44 275.2 1192.28 275.2 1192.28 251.6 1191.13 251.6 1191.13 276.4 1189.97 276.4 1189.97 248.5 1188.82 248.5 1188.82 263.5 1187.66 263.5 1187.66 237.5 1186.51 237.5 1186.51 263.2 1185.35 263.2 1185.35 234.3 1184.20 234.3 1184.20 256.1 1183.04 256.1 1183.04 247.5 1181.89 247.5 1181.89 250.0 1180.73 250.0 1180.73 243.1 1179.58 243.1 1179.58 263.0 1178.42 263.0 1178.42 232.8 1177.27 232.8 1177.27 260.4 1176.11 260.4 1176.11 235.8 1174.96 235.8 1174.96 264.6 1173.80 264.6 1173.80 256.2 1172.65 256.2 1172.65 258.9 1171.49 258.9 1171.49 256.4 1170.33 256.4 1170.33 261.9 1169.17 261.9 1169.17 250.7 1168.02 250.7 1168.02 265.4 1166.86 265.4 1166.86 247.5 1165.71 247.5 1165.71 262.5 1164.55 262.5 1164.55 265.3 1163.40 265.3 1163.40 275.4 1162.24 275.4 1162.24 260.0 1161.09 260.0 1161.09 281.6 1159.93 281.6 1159.93 262.1 1158.78 262.1 1158.78 287.6 1157.62 287.6 1157.62 257.8 1156.47 257.8 1156.47 281.7 1155.31 281.7 1155.31 258.6 1154.16 258.6 1154.16 281.8 1153.00 281.8 1153.00 265.0 1151.85 265.0 1151.85 290.9 1150.69 290.9 1150.69 273.8 1149.54 273.8 1149.54 286.4 1148.38 286.4 1148.38 258.4 1147.22 258.4 1147.22 284.4 1146.06 284.4 1146.06 262.4 1144.91 262.4 1144.91 282.0 1143.75 282.0 1143.75 271.1 1142.60 271.1 1142.60 283.1 1141.44 283.1 1141.44 265.6 1140.29 265.6 1140.29 288.6 1139.13 288.6 1139.13 280.4 1137.98 280.4 1137.98 290.0 1136.82 290.0 1136.82 287.4 1135.67 287.4 1135.67 306.6 1134.51 306.6 1134.51 296.2 1133.36 296.2 1133.36 319.4 1132.20 319.4 1132.20 305.1 1131.05 305.1 1131.05 324.2 1129.89 324.2 1129.89 319.2 1128.74 319.2 1128.74 339.5 1127.58 339.5 1127.58 347.8 1126.43 347.8 1126.43 359.6 1125.27 359.6 1125.27 359.0 1124.11 359.0 1124.11 379.6 1122.95 379.6 1122.95 360.6 1121.80 360.6 1121.80 387.9 1120.64 387.9 1120.64 378.5 1119.49 378.5 1119.49 409.2 1118.33 409.2 1118.33 383.8 1117.18 383.8 1117.18 405.9 1116.02 405.9 1116.02 407.8 1114.87 407.8 1114.87 411.6 1113.71 411.6 1113.71 397.2 1112.56 397.2 1112.56 428.0 1111.40 428.0 1111.40 399.0 1110.25 399.0 1110.25 424.7 1109.09 424.7 1109.09 402.5 1107.94 402.5 1107.94 420.8 1106.78 420.8 1106.78 412.5 1105.63 412.5 1105.63 427.2 1104.47 427.2 1104.47 420.6 1103.32 420.6 1103.32 429.2 1102.16 429.2 1102.16 427.8 1101.00 427.8 1101.00 437.0 1099.84 437.0 1099.84 425.1 1098.69 425.1 1098.69 439.7 1097.53 439.7 1097.53 409.3 1096.38 409.3 1096.38 443.9 1095.22 443.9 1095.22 449.6 1094.07 449.6 1094.07 453.2 1092.91 453.2 1092.91 438.2 1091.76 438.2 1091.76 458.1 1090.60 458.1 1090.60 424.9 1089.45 424.9 1089.45 465.9 1088.29 465.9 1088.29 443.2 1087.14 443.2 1087.14 464.6 1085.98 464.6 1085.98 465.8 1084.83 465.8 1084.83 478.7 1083.67 478.7 1083.67 406.1 1082.52 406.1 1082.52 479.4 1081.36 479.4 1081.36 433.2 1080.21 433.2 1080.21 479.4 1079.05 479.4 1079.05 404.4 1077.89 404.4 1077.89 479.4 1076.73 479.4 1076.73 447.6 1075.58 447.6 1075.58 479.4 1074.42 479.4 1074.42 424.6 1073.27 424.6 1073.27 479.4 1072.11 479.4 1072.11 432.4 1070.96 432.4 1070.96 479.4 1069.80 479.4 1069.80 410.8 1068.65 410.8 1068.65 479.4 1067.49 479.4 1067.49 421.6 1066.34 421.6 1066.34 479.4 1065.18 479.4 1065.18 456.3 1064.03 456.3 1064.03 479.4 1062.87 479.4 1062.87 455.5 1061.72 455.5 1061.72 479.4 1060.56 479.4 1060.56 440.1 1059.41 440.1 1059.41 479.4 1058.25 479.4 1058.25 431.5 1057.10 431.5 1057.10 479.4 1055.94 479.4 1055.94 408.7 1054.78 408.7 1054.78 479.4 1053.62 479.4 1053.62 433.9 1052.47 433.9 1052.47 479.4 1051.31 479.4 1051.31 433.0 1050.16 433.0 1050.16 479.4 1049.00 479.4 1049.00 442.4 1047.85 442.4 1047.85 479.4 1046.69 479.4 1046.69 463.8 1045.54 463.8 1045.54 479.4 1044.38 479.4 1044.38 433.1 1043.23 433.1 1043.23 479.4 1042.07 479.4 1042.07 421.6 1040.92 421.6 1040.92 479.4 1039.76 479.4 1039.76 427.6 1038.61 427.6 1038.61 479.4 1037.45 479.4 1037.45 464.5 1036.30 464.5 1036.30 479.4 1035.14 479.4 1035.14 424.6 1033.99 424.6 1033.99 479.4 1032.83 479.4 1032.83 447.7 1031.67 447.7 1031.67 479.4 1030.51 479.4 1030.51 453.7 1029.36 453.7 1029.36 479.4 1028.20 479.4 1028.20 464.9 1027.05 464.9 1027.05 479.4 1025.89 479.4 1025.89 445.0 1024.74 445.0 1024.74 479.4 1023.58 479.4 1023.58 479.4 1022.43 479.4 1022.43 479.4 1021.27 479.4 1021.27 466.0 1020.12 466.0 1020.12 479.4 1018.96 479.4 1018.96 479.4 1017.81 479.4 1017.81 479.4 1016.65 479.4 1016.65 467.4 1015.50 467.4 1015.50 479.4 1014.34 479.4 1014.34 479.4 1013.19 479.4 1013.19 479.4 1012.03 479.4 1012.03 466.9 1010.88 466.9 1010.88 479.4 1009.72 479.4 1009.72 479.4 1008.56 479.4 1008.56 479.4 1007.40 479.4 1007.40 467.7 1006.25 467.7 1006.25 479.4 1005.09 479.4 1005.09 467.2 1003.94 467.2 1003.94 479.4 1002.78 479.4 1002.78 461.3 1001.63 461.3 1001.63 479.4 1000.47 479.4 1000.47 479.4 999.32 479.4 999.32 479.4 998.16 479.4 998.16 458.8 997.01 458.8 997.01 479.4 995.85 479.4 995.85 478.3 994.70 478.3 994.70 479.4 993.54 479.4 993.54 472.0 992.39 472.0 992.39 479.4 991.23 479.4 991.23 455.8 990.08 455.8 990.08 479.4 988.92 479.4 988.92 463.1 987.77 463.1 987.77 479.4 986.61 479.4 986.61 470.5 985.45 470.5 985.45 479.4 984.29 479.4 984.29 479.4 983.14 479.4 983.14 479.4 981.98 479.4 981.98 467.6 980.83 467.6 980.83 479.4 979.67 479.4 979.67 479.4 978.52 479.4 978.52 479.4 977.36 479.4 977.36 479.4 976.21 479.4 976.21 479.4 975.05 479.4 975.05 476.5 973.90 476.5 973.90 479.4 972.74 479.4 972.74 470.7 971.59 470.7 971.59 479.4 970.43 479.4 970.43 476.5 969.28 476.5 969.28 479.4 968.12 479.4 968.12 479.4 966.97 479.4 966.97 479.4 965.81 479.4 965.81 479.4 964.66 479.4 964.66 479.4 963.50 479.4 963.50 479.4 962.34 479.4 962.34 479.4 961.18 479.4 961.18 470.0 960.03 470.0 960.03 479.4 958.87 479.4 958.87 479.4 957.72 479.4 957.72 479.4 956.56 479.4 956.56 479.4 955.41 479.4 955.41 479.4 954.25 479.4 954.25 479.4 953.10 479.4 953.10 479.4 951.94 479.4 951.94 479.4 950.79 479.4 950.79 479.4 949.63 479.4 949.63 473.2 948.48 473.2 948.48 479.4 947.32 479.4 947.32 479.4 946.17 479.4 946.17 479.4 945.01 479.4 945.01 479.4 943.86 479.4 943.86 479.4 942.70 479.4 942.70 479.4 941.55 479.4 941.55 479.4 940.39 479.4 940.39 479.4 939.23 479.4 939.23 479.4 938.07 479.4 938.07 479.4 936.92 479.4 936.92 479.4 935.76 479.4 935.76 479.4 934.61 479.4 934.61 479.4 933.45 479.4 933.45 479.4 932.30 479.4 932.30 479.4 931.14 479.4 931.14 479.4 929.99 479.4 929.99 479.4 928.83 479.4 928.83 479.4 927.68 479.4 927.68 479.4 926.52 479.4 926.52 479.4 925.37 479.4 925.37 479.4 924.21 479.4 924.21 479.4 923.06 479.4 923.06 479.4 921.90 479.4 921.90 479.4 920.75 479.4 920.75 479.4 919.59 479.4 919.59 479.4 918.44 479.4 918.44 479.4 917.28 479.4 917.28 479.4 916.12 479.4 916.12 479.4 914.96 479.4 914.96 476.2 913.81 476.2 913.81 479.4 912.65 479.4 912.65 479.4 911.50 479.4 911.50 479.4 910.34 479.4 910.34 479.4 909.19 479.4 909.19 479.4 908.03 479.4 908.03 479.4 906.88 479.4 906.88 479.4 905.72 479.4 905.72 479.4 904.57 479.4 904.57 479.4 903.41 479.4 903.41 479.4 902.26 479.4 902.26 479.4 901.10 479.4 901.10 479.4 899.95 479.4 899.95 479.4 898.79 479.4 898.79 479.4 897.64 479.4 897.64 479.4 896.48 479.4 896.48 479.4 895.33 479.4 895.33 479.4 894.17 479.4 894.17 479.4 893.01 479.4 893.01 479.4 891.85 479.4 891.85 479.4 890.70 479.4 890.70 479.4 889.54 479.4 889.54 479.4 888.39 479.4 888.39 479.4 887.23 479.4 887.23 479.4 886.08 479.4 886.08 479.4 884.92 479.4 884.92 479.4 883.77 479.4 883.77 479.4 882.61 479.4 882.61 479.4 881.46 479.4 881.46 479.4 880.30 479.4 880.30 479.4 879.15 479.4 879.15 479.4 877.99 479.4 877.99 479.4 876.84 479.4 876.84 479.4 875.68 479.4 875.68 479.4 874.53 479.4 874.53 479.4 873.37 479.4 873.37 479.4 872.22 479.4 872.22 479.4 871.06 479.4 871.06 479.4 869.90 479.4 869.90 479.4 868.74 479.4 868.74 479.4 867.59 479.4 867.59 479.4 866.43 479.4 866.43 479.4 865.28 479.4 865.28 479.4 864.12 479.4 864.12 479.4 862.97 479.4 862.97 479.4 861.81 479.4 861.81 479.4 860.66 479.4 860.66 479.4 859.50 479.4 859.50 479.4 858.35 479.4 858.35 479.4 857.19 479.4 857.19 479.4 856.04 479.4 856.04 479.4 854.88 479.4 854.88 479.4 853.73 479.4 853.73 479.4 852.57 479.4 852.57 471.9 851.42 471.9 851.42 479.4 850.26 479.4 850.26 478.8 849.11 478.8 849.11 479.4 847.95 479.4 847.95 479.4 846.79 479.4 846.79 479.4 845.63 479.4 845.63 479.4 844.48 479.4 844.48 479.4 843.32 479.4 843.32 479.4 842.17 479.4 842.17 479.4 841.01 479.4 841.01 479.4 839.86 479.4 839.86 479.4 838.70 479.4 838.70 479.4 837.55 479.4 837.55 479.4 836.39 479.4 836.39 479.4 835.24 479.4 835.24 479.4 834.08 479.4 834.08 479.4 832.93 479.4 832.93 479.4 831.77 479.4 831.77 479.4 830.62 479.4 830.62 479.4 829.46 479.4 829.46 479.4 828.31 479.4 828.31 479.4 827.15 479.4 827.15 469.0 826.00 469.0 826.00 479.4 824.84 479.4 824.84 479.4 823.68 479.4 823.68 479.4 822.52 479.4 822.52 479.4 821.37 479.4 821.37 479.4 820.21 479.4 820.21 479.4 819.06 479.4 819.06 479.4 817.90 479.4 817.90 479.4 816.75 479.4 816.75 479.4 815.59 479.4 815.59 479.4 814.44 479.4 814.44 479.4 813.28 479.4 813.28 479.4 812.13 479.4 812.13 479.4 810.97 479.4 810.97 479.4 809.82 479.4 809.82 479.4 808.66 479.4 808.66 456.8 807.51 456.8 807.51 479.4 806.35 479.4 806.35 470.7 805.20 470.7 805.20 479.4 804.04 479.4 804.04 479.4 802.89 479.4 802.89 479.4 801.73 479.4 801.73 462.7 800.57 462.7 800.57 479.4 799.41 479.4 799.41 479.4 798.26 479.4 798.26 479.4 797.10 479.4 797.10 479.4 795.95 479.4 795.95 479.4 794.79 479.4 794.79 479.4 793.64 479.4 793.64 479.4 792.48 479.4 792.48 479.4 791.33 479.4 791.33 479.4 790.17 479.4 790.17 479.4 789.02 479.4 789.02 479.4 787.86 479.4 787.86 479.4 786.71 479.4 786.71 479.4 785.55 479.4 785.55 479.4 784.40 479.4 784.40 479.4 783.24 479.4 783.24 479.4 782.09 479.4 782.09 479.4 780.93 479.4 780.93 479.4 779.78 479.4 779.78 479.4 778.62 479.4 778.62 479.4 777.46 479.4 777.46 479.4 776.30 479.4 776.30 479.4 775.15 479.4 775.15 479.4 773.99 479.4 773.99 479.4 772.84 479.4 772.84 479.4 771.68 479.4 771.68 479.4 770.53 479.4 770.53 479.4 769.37 479.4 769.37 479.4 768.22 479.4 768.22 479.4 767.06 479.4 767.06 479.4 765.91 479.4 765.91 479.4 764.75 479.4 764.75 479.4 763.60 479.4 763.60 479.4 762.44 479.4 762.44 474.2 761.29 474.2 761.29 479.4 760.13 479.4 760.13 479.4 758.98 479.4 758.98 479.4 757.82 479.4 757.82 479.4 756.67 479.4 756.67 479.4 755.51 479.4 755.51 479.4 754.35 479.4 754.35 479.4 753.19 479.4 753.19 479.4 752.04 479.4 752.04 479.4 750.88 479.4 750.88 479.4 749.73 479.4 749.73 479.4 748.57 479.4 748.57 479.4 747.42 479.4 747.42 479.4 746.26 479.4 746.26 479.4 745.11 479.4 745.11 479.4 743.95 479.4 743.95 479.4 742.80 479.4 742.80 479.4 741.64 479.4 741.64 479.4 740.49 479.4 740.49 479.4 739.33 479.4 739.33 479.4 738.18 479.4 738.18 479.4 737.02 479.4 737.02 479.4 735.87 479.4 735.87 479.4 734.71 479.4 734.71 473.8 733.56 473.8 733.56 479.4 732.40 479.4 732.40 479.4 731.24 479.4 731.24 479.4 730.08 479.4 730.08 479.4 728.93 479.4 728.93 479.4 727.77 479.4 727.77 479.4 726.62 479.4 726.62 479.4 725.46 479.4 725.46 479.4 724.31 479.4 724.31 479.4 723.15 479.4 723.15 477.0 722.00 477.0 722.00 479.4 720.84 479.4 720.84 479.4 719.69 479.4 719.69 479.4 718.53 479.4 718.53 479.4 717.38 479.4 717.38 479.4 716.22 479.4 716.22 479.4 715.07 479.4 715.07 479.4 713.91 479.4 713.91 479.4 712.76 479.4 712.76 479.4 711.60 479.4 711.60 479.4 710.45 479.4 710.45 479.4 709.29 479.4 709.29 464.0 708.13 464.0 708.13 479.4 706.97 479.4 706.97 479.4 705.82 479.4 705.82 479.4 704.66 479.4 704.66 479.4 703.51 479.4 703.51 479.4 702.35 479.4 702.35 479.4 701.20 479.4 701.20 479.4 700.04 479.4 700.04 479.4 698.89 479.4 698.89 479.4 697.73 479.4 697.73 479.4 696.58 479.4 696.58 479.4 695.42 479.4 695.42 479.4 694.27 479.4 694.27 479.4 693.11 479.4 693.11 479.4 691.96 479.4 691.96 479.4 690.80 479.4 690.80 479.4 689.65 479.4 689.65 479.4 688.49 479.4 688.49 479.4 687.34 479.4 687.34 479.4 686.18 479.4 686.18 479.4 685.02 479.4 685.02 479.4 683.86 479.4 683.86 479.4 682.71 479.4 682.71 479.4 681.55 479.4 681.55 479.4 680.40 479.4 680.40 479.4 679.24 479.4 679.24 479.4 678.09 479.4 678.09 479.4 676.93 479.4 676.93 479.4 675.78 479.4 675.78 479.4 674.62 479.4Z" stroke="none" stroke-width="0" fill="#34355e" />
<path d="M731.82 432.9V479.4M734.13 432.4V455.4M789.59 437.0V457.3M794.22 428.1V443.2M798.84 423.0V475.3M815.02 398.6V427.7M817.33 425.9V441.0M821.95 434.3V479.4M833.50 429.3V453.0M838.13 373.9V400.6M861.24 355.7V428.5M861.24 460.1V479.4M863.55 402.7V460.1M863.55 460.1V479.4M870.48 408.2V441.7M879.72 360.2V417.4M886.66 406.2V420.4M888.97 367.5V433.5M891.28 424.4V446.9M893.59 464.6V479.4M895.90 392.3V440.3M902.83 368.0V394.8M909.77 365.2V388.7M912.08 333.3V356.2M916.70 399.5V462.7M923.63 296.2V372.9M928.25 374.9V414.5M932.88 367.9V380.1M935.19 318.3V335.0M935.19 335.0V384.8M937.50 328.6V365.5M937.50 440.3V479.4M939.81 299.0V355.5M944.43 330.6V390.6M946.74 354.2V422.2M949.05 345.6V396.6M949.05 396.6V448.8M960.61 360.8V393.5M962.92 471.5V479.4M965.23 261.3V274.2M965.23 274.2V304.9M965.23 304.9V336.4M965.23 387.3V401.0M965.23 474.2V479.4M974.47 457.7V476.5M979.10 450.9V479.4M981.41 415.1V427.5M981.41 427.5V467.6M983.72 246.1V325.0M988.34 432.7V456.7M990.65 327.8V406.1M999.90 315.8V333.8M999.90 459.4V479.4M1004.52 460.9V467.2M1006.83 421.9V453.9M1009.14 304.7V376.1M1009.14 422.8V479.4M1013.76 450.0V479.4M1016.07 407.0V453.2M1018.38 453.4V479.4M1023.01 379.1V409.7M1025.32 305.7V382.1M1025.32 382.1V419.3M1027.63 281.2V317.0M1027.63 461.9V464.9M1029.94 336.6V366.8M1032.25 272.6V333.3M1034.56 377.8V424.6M1039.18 265.3V303.5M1043.80 224.9V242.6M1043.80 242.6V291.1M1046.12 278.1V326.0M1046.12 426.7V450.8M1048.43 393.8V408.7M1050.74 306.2V318.8M1053.05 245.3V295.2M1055.36 316.0V354.8M1057.67 208.9V222.9M1057.67 258.3V322.0M1057.67 388.7V431.5M1059.98 246.8V263.6M1059.98 341.5V374.8M1062.29 385.3V435.4M1064.60 294.3V359.5M1069.23 369.5V400.5M1076.16 272.0V337.1M1076.16 337.1V357.3M1078.47 183.3V205.0M1078.47 205.0V224.0M1080.78 184.4V244.9M1083.09 238.8V282.5M1085.40 386.9V444.4M1087.71 336.1V395.7M1087.71 395.7V443.2M1090.02 411.8V424.9M1092.34 248.8V315.0M1092.34 370.6V426.6M1092.34 426.6V438.2M1094.65 316.9V336.5M1096.96 260.8V339.5M1101.58 414.5V427.8M1103.89 255.0V300.6M1103.89 300.6V343.9M1103.89 343.9V376.6M1103.89 376.6V420.6M1108.51 329.9V378.3M1113.13 386.7V397.2M1115.45 313.0V360.8M1115.45 360.8V393.9M1120.07 340.7V378.5M1122.38 122.5V144.1M1122.38 144.1V158.0M1127.00 202.7V238.8M1129.31 259.5V296.6M1133.93 212.4V244.4M1140.87 144.9V160.5M1140.87 160.5V181.1M1140.87 181.1V256.7M1140.87 256.7V265.6M1170.91 111.6V128.9M1194.02 244.6V280.4M1205.57 275.8V335.2M1210.20 131.0V192.3M1210.20 227.3V245.8M1214.82 229.5V301.6M1217.13 330.0V369.1M1221.75 244.0V318.8M1224.06 340.5V366.2M1226.37 200.8V262.7M1228.68 327.6V383.4M1231.00 299.2V368.5M1231.00 368.5V383.3M1233.31 200.3V245.7M1237.93 185.5V244.7M1237.93 351.5V390.8M1247.17 331.9V398.5M1249.48 195.9V208.3M1251.79 386.4V400.8M1256.42 306.7V365.2M1261.04 197.8V226.4M1261.04 226.4V294.5M1263.35 261.5V296.5M1267.97 195.2V213.1M1267.97 213.1V265.3M1267.97 310.9V329.1M1267.97 329.1V375.9M1272.59 294.4V345.0M1272.59 345.0V415.3M1272.59 415.3V433.5M1277.22 178.7V192.1M1277.22 192.1V222.1M1277.22 378.9V414.6M1279.53 158.1V219.6M1279.53 219.6V258.1M1279.53 310.1V325.0M1279.53 325.0V389.8M1279.53 389.8V436.9M1281.84 369.9V383.9M1281.84 383.9V416.0M1281.84 416.0V454.1M1284.15 240.3V288.8M1288.77 191.2V218.0M1288.77 316.8V385.9M1288.77 385.9V400.9M1291.08 433.3V479.4M1295.70 421.7V439.0M1295.70 460.3V477.0M1295.70 477.0V479.4M1300.33 345.1V411.7M1302.64 435.8V465.4M1304.95 255.3V280.3M1304.95 310.1V327.0M1304.95 391.7V462.7M1309.57 339.9V357.8M1309.57 466.7V478.1M1311.88 306.4V333.3M1316.50 376.0V451.4M1321.12 306.8V345.2M1321.12 345.2V363.1M1325.75 278.3V320.5M1328.06 401.1V434.3M1328.06 434.3V468.9M1332.68 254.5V275.7M1334.99 232.8V308.0M1334.99 391.4V430.7M1341.92 381.0V426.7M1341.92 426.7V456.6M1346.55 266.9V314.2M1348.86 357.8V393.1M1351.17 375.9V437.1M1353.48 387.8V445.2M1353.48 445.2V479.4M1355.79 407.6V479.4M1358.10 351.3V388.9M1358.10 388.9V445.8M1362.72 454.5V479.4M1371.97 243.0V269.5M1371.97 336.6V373.3M1371.97 456.0V479.4M1376.59 238.7V289.2M1381.21 230.7V251.2M1381.21 289.8V302.2M1385.83 319.0V389.6M1392.77 326.2V356.6M1392.77 430.1V479.4M1395.08 368.1V385.7M1397.39 308.7V333.5M1397.39 374.6V417.2M1397.39 417.2V441.3M1408.94 469.5V479.4M1411.25 400.0V422.7M1411.25 422.7V462.5M1415.88 301.7V333.4M1415.88 458.4V479.4M1420.50 441.2V474.5M1429.74 389.8V455.7M1432.05 284.9V309.2M1432.05 411.5V457.5M1432.05 457.5V479.4M1434.36 327.8V359.6M1448.23 343.8V374.0M1448.23 396.7V458.8M1450.54 361.1V423.1M1452.85 360.9V407.5M1455.16 390.3V436.6M1457.47 397.2V418.8M1459.78 408.5V450.5M1466.72 347.4V425.2M1475.96 324.2V358.1M1475.96 358.1V428.3M1526.80 377.8V399.0M1547.60 433.6V476.9M1575.33 421.3V460.6M1577.65 425.9V477.0M1579.96 414.0V431.4M1579.96 431.4V469.0M1584.58 431.9V479.4" stroke="#ffffff" stroke-width="1.2" fill="none" opacity="0.25"/>
<path d="M775.73 428.0V468.7M787.28 430.7V479.4M803.46 423.1V458.9M842.75 373.1V400.1M847.37 429.2V479.4M863.55 352.8V402.7M868.17 381.0V436.4M877.41 347.1V397.7M891.28 328.1V359.4M895.90 319.9V333.0M900.52 332.3V363.7M909.77 388.7V407.4M909.77 407.4V441.3M912.08 356.2V401.9M919.01 381.0V435.9M921.32 406.4V467.4M932.88 285.2V351.1M942.12 294.3V328.7M946.74 324.1V354.2M946.74 422.2V454.0M953.68 372.6V431.6M962.92 268.9V343.8M967.54 299.8V362.1M967.54 362.1V407.3M974.47 254.2V312.5M974.47 312.5V381.9M976.79 312.6V366.1M976.79 425.4V465.6M976.79 465.6V479.4M981.41 355.6V399.5M983.72 396.6V430.4M983.72 430.4V475.6M986.03 361.1V418.0M986.03 418.0V441.9M986.03 441.9V465.6M986.03 465.6V470.5M988.34 249.1V267.2M988.34 267.2V312.6M988.34 312.6V359.1M995.27 326.3V376.6M997.58 370.8V443.2M999.90 267.6V315.8M1009.14 376.1V422.8M1011.45 350.4V383.0M1011.45 404.0V423.9M1013.76 300.0V348.1M1013.76 401.3V450.0M1018.38 236.2V297.8M1018.38 400.2V453.4M1020.69 268.7V307.8M1020.69 307.8V320.9M1020.69 410.2V437.1M1023.01 329.6V357.4M1023.01 357.4V379.1M1023.01 409.7V465.5M1027.63 414.5V461.9M1029.94 366.8V389.7M1029.94 389.7V453.7M1036.87 388.8V464.5M1039.18 212.5V265.3M1041.49 393.5V421.6M1043.80 291.1V362.7M1043.80 362.7V389.5M1043.80 419.3V433.1M1046.12 366.6V426.7M1048.43 408.7V442.4M1057.67 222.9V258.3M1059.98 374.8V440.1M1062.29 254.6V279.0M1062.29 279.0V317.3M1062.29 435.4V455.5M1064.60 188.1V261.5M1064.60 373.1V444.4M1066.91 226.8V239.1M1066.91 275.8V302.4M1066.91 402.1V421.6M1069.23 289.2V333.5M1069.23 400.5V410.8M1071.54 355.8V393.5M1076.16 406.8V447.6M1078.47 224.0V281.0M1078.47 281.0V357.6M1083.09 195.0V238.8M1083.09 389.5V406.1M1085.40 270.3V339.3M1085.40 339.3V386.9M1087.71 317.9V336.1M1090.02 352.7V377.0M1090.02 377.0V411.8M1094.65 336.5V410.6M1096.96 339.5V395.7M1099.27 274.2V338.4M1106.20 350.0V383.8M1110.82 397.5V399.0M1115.45 147.5V203.2M1115.45 203.2V273.7M1117.76 308.1V344.6M1133.93 244.4V274.3M1136.24 250.8V287.4M1143.18 168.4V223.0M1159.35 160.4V214.9M1170.91 128.9V205.4M1170.91 205.4V256.4M1177.84 174.8V232.8M1187.09 203.3V237.5M1189.40 161.1V223.5M1191.71 173.9V245.6M1205.57 157.7V225.3M1207.89 256.2V333.6M1210.20 332.5V370.4M1212.51 178.7V216.7M1212.51 216.7V229.7M1214.82 301.6V340.9M1217.13 311.8V330.0M1226.37 382.3V389.4M1233.31 316.9V368.6M1233.31 368.6V388.9M1235.62 291.4V326.8M1237.93 244.7V264.3M1240.24 111.4V189.2M1240.24 189.2V203.4M1240.24 251.2V324.7M1240.24 391.5V398.1M1242.55 227.9V263.6M1242.55 263.6V334.5M1242.55 397.6V401.2M1244.86 119.9V141.8M1244.86 381.5V392.8M1247.17 153.6V228.5M1249.48 208.3V281.7M1249.48 314.9V340.0M1249.48 340.0V366.6M1249.48 392.3V402.5M1251.79 310.8V347.3M1254.11 232.6V262.0M1256.42 258.0V306.7M1258.73 302.0V334.4M1258.73 370.3V417.4M1261.04 126.6V197.8M1261.04 294.5V367.7M1267.97 375.9V388.7M1270.28 155.7V169.0M1270.28 169.0V190.1M1270.28 358.4V384.7M1274.90 230.1V261.3M1274.90 297.7V329.0M1274.90 329.0V408.7M1274.90 408.7V440.2M1277.22 222.1V283.8M1277.22 283.8V334.5M1277.22 414.6V445.2M1284.15 423.0V460.2M1286.46 184.5V215.1M1286.46 380.0V452.1M1288.77 218.0V261.3M1291.08 168.9V232.3M1291.08 376.4V433.3M1293.39 324.8V361.7M1293.39 361.7V438.8M1293.39 438.8V479.4M1295.70 312.5V377.8M1295.70 377.8V421.7M1295.70 439.0V460.3M1298.01 205.1V219.3M1298.01 380.0V441.4M1298.01 441.4V473.6M1300.33 411.7V456.8M1302.64 253.1V288.5M1302.64 393.6V435.8M1302.64 465.4V474.1M1304.95 327.0V391.7M1307.26 330.9V386.3M1307.26 386.3V408.4M1307.26 408.4V474.5M1309.57 413.2V466.7M1311.88 454.0V455.1M1314.19 404.3V450.7M1316.50 327.5V376.0M1321.12 417.5V479.4M1323.44 348.4V406.3M1323.44 406.3V426.5M1323.44 426.5V447.6M1323.44 447.6V467.3M1325.75 320.5V374.9M1328.06 468.9V479.4M1330.37 367.9V445.0M1332.68 275.7V315.4M1332.68 390.2V449.9M1332.68 449.9V479.4M1334.99 346.9V391.4M1337.30 206.2V250.7M1337.30 250.7V322.9M1337.30 439.7V457.4M1341.92 325.6V381.0M1344.23 213.3V292.9M1344.23 423.0V479.4M1346.55 435.5V451.7M1348.86 393.1V440.3M1351.17 437.1V471.3M1353.48 267.8V346.0M1353.48 346.0V387.8M1355.79 326.8V395.3M1358.10 318.8V351.3M1360.41 438.4V479.4M1362.72 285.4V320.7M1362.72 366.5V426.7M1365.03 218.3V271.0M1365.03 425.2V471.9M1369.66 286.2V310.8M1369.66 310.8V336.8M1369.66 336.8V410.7M1369.66 410.7V466.3M1369.66 466.3V479.4M1374.28 393.4V443.7M1374.28 443.7V456.7M1376.59 445.8V479.4M1378.90 237.9V286.4M1378.90 286.4V315.1M1378.90 393.9V454.9M1381.21 302.2V357.2M1381.21 398.2V475.2M1383.52 458.1V479.4M1385.83 389.6V415.5M1385.83 415.5V479.4M1388.14 430.4V471.2M1390.45 334.9V380.7M1390.45 432.3V460.8M1392.77 402.1V430.1M1395.08 316.6V368.1M1397.39 265.2V308.7M1402.01 390.9V444.8M1406.63 379.7V392.2M1408.94 305.2V343.7M1411.25 384.1V400.0M1418.19 342.2V372.6M1418.19 372.6V451.2M1422.81 294.0V322.4M1427.43 272.5V341.5M1432.05 309.2V373.5M1432.05 373.5V411.5M1438.99 376.8V420.9M1441.30 289.5V355.8M1441.30 355.8V383.5M1441.30 409.2V456.7M1450.54 334.7V361.1M1452.85 407.5V469.5M1455.16 319.3V390.3M1459.78 330.4V377.5M1459.78 377.5V390.2M1464.41 389.0V459.9M1487.52 351.3V420.7M1492.14 375.6V427.0M1501.38 415.3V447.7M1519.87 423.3V452.1M1536.05 374.0V414.6M1540.67 423.7V466.0M1586.89 427.0V478.8M1589.20 431.0V466.7M1612.31 432.5V456.0" stroke="#ffffff" stroke-width="1.2" fill="none" opacity="0.45"/>
<path d="M694.84 475.1V479.4M768.80 428.2V479.4M778.04 429.9V442.7M812.70 392.7V462.0M851.99 360.6V404.5M856.61 417.1V479.4M868.17 354.9V381.0M875.10 363.7V421.0M884.35 339.9V397.8M895.90 333.0V392.3M902.83 443.8V479.4M914.39 383.5V449.5M932.88 351.1V367.9M935.19 441.6V474.9M937.50 365.5V440.3M949.05 288.9V345.6M949.05 448.8V473.2M951.36 367.2V424.7M953.68 333.4V350.8M958.30 465.8V479.4M960.61 424.7V470.0M962.92 411.6V471.5M965.23 336.4V387.3M969.85 382.1V410.1M972.16 359.4V424.8M976.79 366.1V407.3M979.10 401.4V450.9M983.72 325.0V396.6M986.03 293.1V361.1M988.34 359.1V432.7M990.65 440.0V455.8M992.96 251.5V298.2M992.96 298.2V361.0M992.96 361.0V403.9M992.96 444.4V472.0M995.27 389.8V447.1M997.58 342.8V370.8M997.58 443.2V458.8M1002.21 343.4V402.8M1002.21 402.8V461.3M1004.52 311.2V329.6M1004.52 385.9V460.9M1009.14 271.2V304.7M1011.45 423.9V466.9M1013.76 348.1V401.3M1020.69 370.0V410.2M1020.69 437.1V466.0M1025.32 419.3V445.0M1032.25 392.0V447.7M1034.56 257.4V325.8M1043.80 389.5V419.3M1046.12 222.5V258.7M1046.12 326.0V366.6M1046.12 450.8V463.8M1048.43 257.4V325.0M1048.43 325.0V361.6M1048.43 361.6V376.1M1048.43 376.1V393.8M1050.74 375.0V433.0M1053.05 356.6V379.7M1053.05 379.7V432.9M1055.36 354.8V408.7M1062.29 317.3V385.3M1064.60 359.5V373.1M1064.60 444.4V456.3M1069.23 333.5V369.5M1071.54 308.2V355.8M1071.54 393.5V432.4M1073.85 268.6V336.6M1073.85 413.4V424.6M1078.47 357.6V404.4M1080.78 244.9V305.9M1080.78 379.9V433.2M1083.09 282.5V324.2M1092.34 315.0V370.6M1094.65 410.6V449.6M1099.27 381.0V425.1M1106.20 277.2V308.2M1113.13 329.8V386.7M1120.07 167.8V245.4M1122.38 158.0V183.2M1124.69 259.2V336.6M1127.00 238.8V296.8M1133.93 274.3V296.2M1136.24 141.3V202.8M1136.24 202.8V250.8M1147.80 108.7V172.2M1152.42 110.2V186.9M1157.04 120.6V138.1M1157.04 138.1V176.0M1166.29 136.9V193.3M1173.22 187.6V256.2M1175.53 167.7V200.8M1184.78 93.9V149.8M1184.78 149.8V171.6M1205.57 108.5V157.7M1207.89 203.3V256.2M1212.51 248.0V285.2M1219.44 254.0V274.6M1221.75 318.8V347.3M1226.37 123.3V200.8M1226.37 262.7V333.6M1228.68 212.2V254.4M1233.31 388.9V391.9M1235.62 326.8V389.7M1237.93 390.8V393.8M1242.55 187.8V227.9M1242.55 334.5V397.6M1244.86 141.8V176.9M1244.86 336.9V359.8M1249.48 366.6V392.3M1254.11 325.2V360.1M1256.42 365.2V403.6M1258.73 334.4V370.3M1261.04 367.7V416.3M1263.35 296.5V369.7M1265.66 368.6V419.1M1267.97 388.7V432.2M1274.90 149.4V172.4M1274.90 261.3V297.7M1279.53 436.9V453.4M1286.46 215.1V261.4M1288.77 400.9V472.1M1291.08 232.3V304.5M1295.70 183.2V258.5M1300.33 456.8V475.0M1302.64 288.5V306.0M1304.95 183.9V255.3M1304.95 280.3V310.1M1307.26 310.7V330.9M1311.88 389.8V454.0M1314.19 216.1V233.6M1314.19 255.7V294.9M1316.50 451.4V456.2M1318.81 241.7V317.8M1318.81 385.1V437.8M1318.81 437.8V450.4M1318.81 450.4V467.5M1321.12 363.1V417.5M1323.44 232.2V297.2M1325.75 374.9V447.4M1334.99 430.7V479.4M1337.30 401.1V439.7M1339.61 414.3V453.5M1344.23 292.9V309.0M1346.55 198.0V266.9M1346.55 451.7V478.9M1351.17 311.7V375.9M1353.48 206.4V227.2M1353.48 227.2V267.8M1355.79 304.2V326.8M1360.41 373.3V438.4M1365.03 271.0V304.1M1365.03 304.1V378.9M1367.34 293.6V365.9M1367.34 434.9V479.4M1371.97 269.5V336.6M1371.97 373.3V404.2M1374.28 456.7V478.3M1376.59 289.2V343.4M1376.59 343.4V378.7M1381.21 251.2V289.8M1385.83 254.4V268.2M1395.08 269.4V316.6M1395.08 385.7V438.6M1397.39 333.5V374.6M1397.39 441.3V479.4M1404.32 341.0V411.2M1411.25 371.2V384.1M1413.56 353.2V417.6M1420.50 367.4V413.6M1422.81 478.0V479.4M1427.43 452.0V479.1M1434.36 298.7V327.8M1436.67 354.0V394.4M1441.30 383.5V409.2M1464.41 357.6V389.0M1487.52 420.7V435.1M1538.36 429.6V460.6M1552.22 420.1V447.4M1563.78 457.1V479.4M1570.71 431.8V479.4M1600.76 434.0V449.1" stroke="#ffffff" stroke-width="1.2" fill="none" opacity="0.65"/>
<line x1="1160.6" y1="361" x2="1160.6" y2="250" stroke="#34355e" stroke-width="1.3" />
</g>
<path d="M713.0 478.6 L714.8 477.0 L716.7 475.4 L718.5 473.8 L720.3 472.1 L722.1 470.5 L724.0 468.9 L725.8 467.2 L727.6 465.6 L729.4 464.0 L731.3 462.3 L733.1 460.7 L734.9 459.1 L736.8 457.4 L738.6 455.8 L740.4 454.2 L742.2 452.5 L744.1 450.9 L745.9 449.3 L747.7 447.7 L749.6 446.0 L751.4 444.4 L753.2 442.8 L755.0 441.1 L756.9 439.5 L758.7 437.9 L760.5 436.2 L762.3 434.6 L764.2 433.0 L766.0 431.3 L767.8 429.7 L769.7 428.1 L771.5 426.4 L773.3 424.8 L775.1 423.2 L777.0 421.6 L778.8 419.9 L780.6 418.3 L782.5 416.7 L784.3 415.0 L786.1 413.4 L787.9 411.8 L789.8 410.1 L791.6 408.5 L793.4 406.9 L795.2 405.2 L797.1 403.6 L798.9 402.0 L800.7 400.3 L802.6 398.7 L804.4 397.1 L806.2 395.5 L808.0 393.8 L809.9 392.2 L811.7 390.6 L813.5 388.9 L815.3 387.3 L817.2 385.7 L819.0 384.0 L820.8 382.4 L822.7 380.8 L824.5 379.1 L826.3 377.5 L828.1 375.9 L830.0 374.3 L831.8 372.6 L833.6 371.0 L835.5 369.4 L837.3 367.7 L839.1 366.1 L840.9 364.5 L842.8 362.8 L844.6 361.2 L846.4 359.6 L848.2 357.9 L850.1 356.3 L851.9 354.7 L853.7 353.0 L855.6 351.4 L857.4 349.8 L859.2 348.2 L861.0 346.5 L862.9 344.9 L864.7 343.3 L866.5 341.6 L868.4 340.0 L870.2 338.4 L872.0 336.7 L873.8 335.1 L875.7 333.5 L877.5 331.8 L879.3 330.2 L881.1 328.6 L883.0 327.0 L884.8 325.3 L886.6 323.7 L888.5 322.1 L890.3 320.4 L892.1 318.8 L893.9 317.2 L895.8 315.5 L897.6 313.9 L899.4 312.3 L901.2 310.6 L903.1 309.0 L904.9 307.4 L906.7 305.7 L908.6 304.1 L910.4 302.5 L912.2 300.9 L914.0 299.2 L915.9 297.6 L917.7 296.0 L919.5 294.3 L921.4 292.7 L923.2 291.1 L925.0 289.4 L926.8 287.8 L928.7 286.2 L930.5 284.6 L932.3 282.9 L934.1 281.3 L936.0 279.7 L937.8 278.0 L939.6 276.4 L941.5 274.8 L943.3 273.1 L945.1 271.5 L946.9 269.9 L948.8 268.2 L950.6 266.6 L952.4 265.0 L954.3 263.4 L956.1 261.7 L957.9 260.1 L959.7 258.5 L961.6 256.8 L963.4 255.2 L965.2 253.6 L967.0 252.0 L968.9 250.3 L970.7 248.7 L972.5 247.1 L974.4 245.4 L976.2 243.8 L978.0 242.2 L979.8 240.6 L981.7 238.9 L983.5 237.3 L985.3 235.7 L987.1 234.1 L989.0 232.4 L990.8 230.8 L992.6 229.2 L994.5 227.6 L996.3 225.9 L998.1 224.3 L999.9 222.7 L1001.8 221.1 L1003.6 219.4 L1005.4 217.8 L1007.3 216.2 L1009.1 214.6 L1010.9 212.9 L1012.7 211.3 L1014.6 209.7 L1016.4 208.1 L1018.2 206.5 L1020.0 204.8 L1021.9 203.2 L1023.7 201.6 L1025.5 200.0 L1027.4 198.4 L1029.2 196.8 L1031.0 195.2 L1032.8 193.6 L1034.7 191.9 L1036.5 190.3 L1038.3 188.7 L1040.2 187.1 L1042.0 185.5 L1043.8 183.9 L1045.6 182.3 L1047.5 180.7 L1049.3 179.1 L1051.1 177.5 L1052.9 175.9 L1054.8 174.3 L1056.6 172.8 L1058.4 171.2 L1060.3 169.6 L1062.1 168.0 L1063.9 166.4 L1065.7 164.9 L1067.6 163.3 L1069.4 161.7 L1071.2 160.2 L1073.0 158.6 L1074.9 157.1 L1076.7 155.5 L1078.5 154.0 L1080.4 152.4 L1082.2 150.9 L1084.0 149.4 L1085.8 147.8 L1087.7 146.3 L1089.5 144.8 L1091.3 143.3 L1093.2 141.8 L1095.0 140.3 L1096.8 138.9 L1098.6 137.4 L1100.5 135.9 L1102.3 134.5 L1104.1 133.1 L1105.9 131.6 L1107.8 130.2 L1109.6 128.8 L1111.4 127.4 L1113.3 126.1 L1115.1 124.7 L1116.9 123.3 L1118.7 122.0 L1120.6 120.7 L1122.4 119.4 L1124.2 118.1 L1126.1 116.9 L1127.9 115.6 L1129.7 114.4 L1131.5 113.2 L1133.4 112.0 L1135.2 110.9 L1137.0 109.8 L1138.8 108.7 L1140.7 107.6 L1142.5 106.5 L1144.3 105.5 L1146.2 104.5 L1148.0 103.6 L1149.8 102.7 L1151.6 101.8 L1153.5 100.9 L1155.3 100.1 L1157.1 99.3 L1158.9 98.6 L1160.8 97.9 L1162.6 97.2 L1164.4 96.6 L1166.3 96.0 L1168.1 95.5 L1169.9 95.0 L1171.7 94.5 L1173.6 94.1 L1175.4 93.7 L1177.2 93.4 L1179.1 93.1 L1180.9 92.9 L1182.7 92.7 L1184.5 92.6 L1186.4 92.5 L1188.2 92.5 L1190.0 92.5 L1191.8 92.6 L1193.7 92.7 L1195.5 92.9 L1197.3 93.1 L1199.2 93.3 L1201.0 93.6 L1202.8 94.0 L1204.6 94.4 L1206.5 94.8 L1208.3 95.3 L1210.1 95.8 L1211.9 96.4 L1213.8 97.0 L1215.6 97.6 L1217.4 98.3 L1219.3 99.1 L1221.1 99.8 L1222.9 100.6 L1224.7 101.5 L1226.6 102.4 L1228.4 103.3 L1230.2 104.2 L1232.1 105.2 L1233.9 106.2 L1235.7 107.2 L1237.5 108.3 L1239.4 109.4 L1241.2 110.5 L1243.0 111.6 L1244.8 112.8 L1246.7 114.0 L1248.5 115.2 L1250.3 116.4 L1252.2 117.7 L1254.0 119.0 L1255.8 120.3 L1257.6 121.6 L1259.5 122.9 L1261.3 124.2 L1263.1 125.6 L1265.0 127.0 L1266.8 128.3 L1268.6 129.7 L1270.4 131.2 L1272.3 132.6 L1274.1 134.0 L1275.9 135.5 L1277.7 136.9 L1279.6 138.4 L1281.4 139.8 L1283.2 141.3 L1285.1 142.8 L1286.9 144.3 L1288.7 145.8 L1290.5 147.3 L1292.4 148.8 L1294.2 150.4 L1296.0 151.9 L1297.8 153.4 L1299.7 155.0 L1301.5 156.5 L1303.3 158.1 L1305.2 159.6 L1307.0 161.2 L1308.8 162.8 L1310.6 164.3 L1312.5 165.9 L1314.3 167.5 L1316.1 169.1 L1318.0 170.6 L1319.8 172.2 L1321.6 173.8 L1323.4 175.4 L1325.3 177.0 L1327.1 178.6 L1328.9 180.2 L1330.7 181.8 L1332.6 183.4 L1334.4 185.0 L1336.2 186.6 L1338.1 188.2 L1339.9 189.8 L1341.7 191.4 L1343.5 193.0 L1345.4 194.6 L1347.2 196.2 L1349.0 197.8 L1350.9 199.5 L1352.7 201.1 L1354.5 202.7 L1356.3 204.3 L1358.2 205.9 L1360.0 207.5 L1361.8 209.2 L1363.6 210.8 L1365.5 212.4 L1367.3 214.0 L1369.1 215.6 L1371.0 217.3 L1372.8 218.9 L1374.6 220.5 L1376.4 222.1 L1378.3 223.8 L1380.1 225.4 L1381.9 227.0 L1383.7 228.6 L1385.6 230.3 L1387.4 231.9 L1389.2 233.5 L1391.1 235.1 L1392.9 236.8 L1394.7 238.4 L1396.5 240.0 L1398.4 241.6 L1400.2 243.3 L1402.0 244.9 L1403.9 246.5 L1405.7 248.1 L1407.5 249.8 L1409.3 251.4 L1411.2 253.0 L1413.0 254.7 L1414.8 256.3 L1416.6 257.9 L1418.5 259.6 L1420.3 261.2 L1422.1 262.8 L1424.0 264.4 L1425.8 266.1 L1427.6 267.7 L1429.4 269.3 L1431.3 271.0 L1433.1 272.6 L1434.9 274.2 L1436.8 275.8 L1438.6 277.5 L1440.4 279.1 L1442.2 280.7 L1444.1 282.4 L1445.9 284.0 L1447.7 285.6 L1449.5 287.3 L1451.4 288.9 L1453.2 290.5 L1455.0 292.2 L1456.9 293.8 L1458.7 295.4 L1460.5 297.0 L1462.3 298.7 L1464.2 300.3 L1466.0 301.9 L1467.8 303.6 L1469.6 305.2 L1471.5 306.8 L1473.3 308.5 L1475.1 310.1 L1477.0 311.7 L1478.8 313.4 L1480.6 315.0 L1482.4 316.6 L1484.3 318.2 L1486.1 319.9 L1487.9 321.5 L1489.8 323.1 L1491.6 324.8 L1493.4 326.4 L1495.2 328.0 L1497.1 329.7 L1498.9 331.3 L1500.7 332.9 L1502.5 334.6 L1504.4 336.2 L1506.2 337.8 L1508.0 339.4 L1509.9 341.1 L1511.7 342.7 L1513.5 344.3 L1515.3 346.0 L1517.2 347.6 L1519.0 349.2 L1520.8 350.9 L1522.7 352.5 L1524.5 354.1 L1526.3 355.8 L1528.1 357.4 L1530.0 359.0 L1531.8 360.6 L1533.6 362.3 L1535.4 363.9 L1537.3 365.5 L1539.1 367.2 L1540.9 368.8 L1542.8 370.4 L1544.6 372.1 L1546.4 373.7 L1548.2 375.3 L1550.1 377.0 L1551.9 378.6 L1553.7 380.2 L1555.5 381.9 L1557.4 383.5 L1559.2 385.1 L1561.0 386.7 L1562.9 388.4 L1564.7 390.0 L1566.5 391.6 L1568.3 393.3 L1570.2 394.9 L1572.0 396.5 L1573.8 398.2 L1575.7 399.8 L1577.5 401.4 L1579.3 403.1 L1581.1 404.7 L1583.0 406.3 L1584.8 408.0 L1586.6 409.6 L1588.4 411.2 L1590.3 412.8 L1592.1 414.5 L1593.9 416.1 L1595.8 417.7 L1597.6 419.4 L1599.4 421.0 L1601.2 422.6 L1603.1 424.3 L1604.9 425.9 L1606.7 427.5 L1608.6 429.2 L1610.4 430.8 L1612.2 432.4 L1614.0 434.1 L1615.9 435.7 L1617.7 437.3 L1619.5 438.9 L1621.3 440.6 L1623.2 442.2 L1625.0 443.8" stroke="#d8282b" stroke-width="2.9" fill="none" stroke-dasharray="9.5 9"/>
<line x1="673.5" y1="34.9" x2="673.5" y2="480.3" stroke="#555555" stroke-width="1.8" />
<line x1="672.6" y1="479.4" x2="1628.8" y2="479.4" stroke="#555555" stroke-width="1.8" />
<line x1="673.5" y1="98.3" x2="684.5" y2="98.3" stroke="#555555" stroke-width="1.8" />
<line x1="673.5" y1="162" x2="684.5" y2="162" stroke="#555555" stroke-width="1.8" />
<line x1="673.5" y1="225.4" x2="684.5" y2="225.4" stroke="#555555" stroke-width="1.8" />
<line x1="673.5" y1="289" x2="684.5" y2="289" stroke="#555555" stroke-width="1.8" />
<line x1="673.5" y1="352.8" x2="684.5" y2="352.8" stroke="#555555" stroke-width="1.8" />
<line x1="673.5" y1="416.5" x2="684.5" y2="416.5" stroke="#555555" stroke-width="1.8" />
<line x1="743.8" y1="479.4" x2="743.8" y2="467.4" stroke="#555555" stroke-width="1.8" />
<text x="743.8" y="511" text-anchor="middle" font-size="25" >1,520</text>
<line x1="884.3" y1="479.4" x2="884.3" y2="467.4" stroke="#555555" stroke-width="1.8" />
<text x="884.3" y="511" text-anchor="middle" font-size="25" >1,530</text>
<line x1="1023" y1="479.4" x2="1023" y2="467.4" stroke="#555555" stroke-width="1.8" />
<text x="1023" y="511" text-anchor="middle" font-size="25" >1,540</text>
<line x1="1159.9" y1="479.4" x2="1159.9" y2="467.4" stroke="#555555" stroke-width="1.8" />
<text x="1159.9" y="511" text-anchor="middle" font-size="25" >1,550</text>
<line x1="1295" y1="479.4" x2="1295" y2="467.4" stroke="#555555" stroke-width="1.8" />
<text x="1295" y="511" text-anchor="middle" font-size="25" >1,560</text>
<line x1="1428.4" y1="479.4" x2="1428.4" y2="467.4" stroke="#555555" stroke-width="1.8" />
<text x="1428.4" y="511" text-anchor="middle" font-size="25" >1,570</text>
<line x1="1560.2" y1="479.4" x2="1560.2" y2="467.4" stroke="#555555" stroke-width="1.8" />
<text x="1560.2" y="511" text-anchor="middle" font-size="25" >1,580</text>
<text x="1150" y="549.7" text-anchor="middle" font-size="25" >Wavelength (nm)</text>
<text transform="translate(652,257.5) rotate(-90)" text-anchor="middle" font-size="25">Power (10 dB per division)</text>
<text transform="translate(1410.5,221.5) rotate(41)" font-size="25">Sech<tspan font-size="16" dy="-10">2</tspan><tspan dy="10"> fit</tspan></text>
<text transform="translate(1396.5,207.5) rotate(41)" font-size="21">~</text>
<rect x="690.1" y="40.4" width="290.1" height="194.4" fill="none" stroke="#929295" stroke-width="2.3" stroke-dasharray="8.8 13.2" stroke-dashoffset="-1"/>
<defs><radialGradient id="halo" cx="847.3" cy="142.2" r="65" gradientUnits="userSpaceOnUse"><stop offset="0.73" stop-color="#f3eff6"/><stop offset="0.86" stop-color="#e9e2ef"/><stop offset="1" stop-color="#ddd2e6"/></radialGradient></defs>
<circle cx="847.3" cy="142.2" r="56.2" fill="none" stroke="url(#halo)" stroke-width="16.4"/>
<circle cx="847.3" cy="142.2" r="56.5" fill="none" stroke="#4174be" stroke-width="3.3"/>
<line x1="764.6" y1="75.5" x2="929.9" y2="75.5" stroke="#000" stroke-width="2.4" stroke-linecap="round"/>
<path d="M767.00 69.74 L767.30 68.80 L767.61 67.53 L767.91 66.00 L768.21 64.29 L768.52 62.50 L768.82 60.75 L769.12 59.12 L769.43 57.72 L769.73 56.63 L770.03 55.91 L770.34 55.61 L770.64 55.74 L770.94 56.29 L771.25 57.23 L771.55 58.51 L771.85 60.05 L772.16 61.76 L772.46 63.55 L772.76 65.30 L773.07 66.92 L773.37 68.31 L773.67 69.39 L773.98 70.10 L774.28 70.39 L774.58 70.25 L774.89 69.69 L775.19 68.74 L775.49 67.45 L775.80 65.90 L776.10 64.18 L776.40 62.40 L776.71 60.65 L777.01 59.03 L777.31 57.65 L777.62 56.58 L777.92 55.88 L778.22 55.60 L778.53 55.76 L778.83 56.33 L779.13 57.29 L779.44 58.59 L779.74 60.15 L780.04 61.87 L780.35 63.65 L780.65 65.40 L780.96 67.01 L781.26 68.39 L781.56 69.45 L781.87 70.13 L782.17 70.40 L782.47 70.23 L782.78 69.65 L783.08 68.67 L783.38 67.37 L783.69 65.81 L783.99 64.08 L784.29 62.29 L784.60 60.55 L784.90 58.95 L785.20 57.58 L785.51 56.53 L785.81 55.86 L786.11 55.60 L786.42 55.78 L786.72 56.38 L787.02 57.36 L787.33 58.68 L787.63 60.24 L787.93 61.97 L788.24 63.76 L788.54 65.50 L788.84 67.10 L789.15 68.46 L789.45 69.50 L789.75 70.16 L790.06 70.40 L790.36 70.21 L790.66 69.60 L790.97 68.60 L791.27 67.28 L791.57 65.71 L791.88 63.98 L792.18 62.19 L792.48 60.45 L792.79 58.86 L793.09 57.51 L793.39 56.48 L793.70 55.83 L794.00 55.60 L796.2 61.4 L810 61.4" fill="none" stroke="#4174be" stroke-width="2.3" stroke-linejoin="round" stroke-linecap="round"/>
<path d="M806.5 55.2 L821 61.4 L806.5 67.6 L809.5 61.4 Z" fill="#4174be"/>
<path d="M895.50 74.95 L895.72 74.92 L895.93 74.88 L896.15 74.83 L896.37 74.75 L896.58 74.64 L896.80 74.49 L897.02 74.28 L897.24 74.01 L897.45 73.66 L897.67 73.21 L897.89 72.65 L898.10 71.95 L898.32 71.10 L898.54 70.08 L898.75 68.89 L898.97 67.51 L899.19 65.96 L899.41 64.25 L899.62 62.39 L899.84 60.43 L900.06 58.40 L900.27 56.36 L900.49 54.38 L900.71 52.51 L900.92 50.82 L901.14 49.38 L901.36 48.24 L901.57 47.45 L901.79 47.05 L902.01 47.05 L902.23 47.45 L902.44 48.24 L902.66 49.38 L902.88 50.82 L903.09 52.51 L903.31 54.38 L903.53 56.36 L903.74 58.40 L903.96 60.43 L904.18 62.39 L904.39 64.25 L904.61 65.96 L904.83 67.51 L905.05 68.89 L905.26 70.08 L905.48 71.10 L905.70 71.95 L905.91 72.65 L906.13 73.21 L906.35 73.66 L906.56 74.01 L906.78 74.28 L907.00 74.49 L907.22 74.64 L907.43 74.75 L907.65 74.83 L907.87 74.88 L908.08 74.92 L908.30 74.95 Z" fill="#b3202b"/>
<line x1="909.5" y1="61.4" x2="920" y2="61.4" stroke="#b3202b" stroke-width="2.2" />
<path d="M915.3 55.2 L930.3 61.4 L915.3 67.6 L918.3 61.4 Z" fill="#b3202b"/>
<path d="M842.1 199 L852.9 199 C851 210 849 222 847.5 228 C846 222 844 210 842.1 199 Z" fill="#b3202b"/>
<path d="M836.7 216.1 Q826 215 815.6 210.5" fill="none" stroke="#b3202b" stroke-width="2" stroke-linecap="round"/>
<path d="M804.5 206.2 L819.5 206.5 L815.2 211 L814.6 216.9 Z" fill="#b3202b"/>
<text x="693.3" y="96.9" font-size="21" >Continuous</text>
<text x="693.3" y="121.8" font-size="21" >wave</text>
<text x="912.2" y="104" font-size="21" >Soliton</text>
<text x="912.2" y="128.5" font-size="21" >pulse</text>
<line x1="1739.2" y1="34.7" x2="1739.2" y2="479.9" stroke="#2b2b2b" stroke-width="1.45" />
<line x1="1738.5" y1="479.2" x2="2168" y2="479.2" stroke="#2b2b2b" stroke-width="1.45" />
<line x1="1739.2" y1="113.9" x2="1751.2" y2="113.9" stroke="#2b2b2b" stroke-width="1.45" />
<line x1="1739.2" y1="218.1" x2="1751.2" y2="218.1" stroke="#2b2b2b" stroke-width="1.45" />
<line x1="1739.2" y1="322.3" x2="1751.2" y2="322.3" stroke="#2b2b2b" stroke-width="1.45" />
<line x1="1739.2" y1="427" x2="1751.2" y2="427" stroke="#2b2b2b" stroke-width="1.45" />
<line x1="1778.7" y1="479.2" x2="1778.7" y2="467.2" stroke="#2b2b2b" stroke-width="1.45" />
<text x="1778.7" y="511" text-anchor="middle" font-size="25" >−4</text>
<line x1="1866" y1="479.2" x2="1866" y2="467.2" stroke="#2b2b2b" stroke-width="1.45" />
<text x="1866" y="511" text-anchor="middle" font-size="25" >−2</text>
<line x1="1953.3" y1="479.2" x2="1953.3" y2="467.2" stroke="#2b2b2b" stroke-width="1.45" />
<text x="1953.3" y="511" text-anchor="middle" font-size="25" >0</text>
<line x1="2040.6" y1="479.2" x2="2040.6" y2="467.2" stroke="#2b2b2b" stroke-width="1.45" />
<text x="2040.6" y="511" text-anchor="middle" font-size="25" >2</text>
<line x1="2127.9" y1="479.2" x2="2127.9" y2="467.2" stroke="#2b2b2b" stroke-width="1.45" />
<text x="2127.9" y="511" text-anchor="middle" font-size="25" >4</text>
<text x="1950" y="544.5" text-anchor="middle" font-size="25" >Frequency (MHz + 21.2 GHz)</text>
<text transform="translate(1719.2,257.2) rotate(-90)" text-anchor="middle" font-size="25">RF power (20 dB per division)</text>
<text x="2066" y="160" text-anchor="middle" font-size="25" >RBW</text>
<text x="2066" y="190.5" text-anchor="middle" font-size="25" >1 kHz</text>
<path d="M1740.5 404.2 L1740.9 411.9 L1741.3 390.6 L1741.8 410.1 L1742.2 400.2 L1742.6 419.7 L1743.0 402.9 L1743.4 424.4 L1743.9 425.9 L1744.3 388.4 L1744.7 399.8 L1745.1 425.5 L1745.5 417.1 L1746.0 403.9 L1746.4 411.1 L1746.8 402.2 L1747.2 412.9 L1747.6 399.3 L1748.1 416.9 L1748.5 386.3 L1748.9 395.4 L1749.3 426.3 L1749.7 413.4 L1750.2 404.6 L1750.6 429.4 L1751.0 418.5 L1751.4 419.4 L1751.8 387.9 L1752.3 415.0 L1752.7 414.7 L1753.1 397.5 L1753.5 417.4 L1753.9 411.3 L1754.4 424.2 L1754.8 424.9 L1755.2 409.7 L1755.6 409.2 L1756.0 415.7 L1756.5 419.7 L1756.9 410.5 L1757.3 413.0 L1757.7 417.6 L1758.1 415.8 L1758.6 423.2 L1759.0 413.7 L1759.4 404.9 L1759.8 398.4 L1760.2 419.5 L1760.7 409.7 L1761.1 410.2 L1761.5 410.2 L1761.9 401.4 L1762.3 410.9 L1762.8 385.7 L1763.2 409.5 L1763.6 404.1 L1764.0 425.5 L1764.4 413.7 L1764.9 407.6 L1765.3 411.6 L1765.7 417.0 L1766.1 404.6 L1766.5 409.5 L1767.0 408.8 L1767.4 431.8 L1767.8 413.6 L1768.2 395.6 L1768.6 398.9 L1769.1 434.1 L1769.5 417.8 L1769.9 440.6 L1770.3 411.3 L1770.7 419.6 L1771.2 407.3 L1771.6 409.3 L1772.0 400.8 L1772.4 403.0 L1772.8 393.8 L1773.3 420.8 L1773.7 402.1 L1774.1 414.5 L1774.5 414.9 L1774.9 407.3 L1775.4 411.4 L1775.8 418.3 L1776.2 406.7 L1776.6 410.3 L1777.0 416.6 L1777.5 399.2 L1777.9 395.5 L1778.3 400.2 L1778.7 407.6 L1779.1 417.4 L1779.6 418.5 L1780.0 408.4 L1780.4 414.4 L1780.8 408.9 L1781.2 416.6 L1781.7 409.4 L1782.1 410.1 L1782.5 403.7 L1782.9 406.1 L1783.3 422.6 L1783.8 396.9 L1784.2 405.4 L1784.6 399.5 L1785.0 412.2 L1785.4 421.3 L1785.9 404.7 L1786.3 384.7 L1786.7 412.1 L1787.1 413.8 L1787.5 395.1 L1788.0 407.9 L1788.4 409.3 L1788.8 390.5 L1789.2 415.2 L1789.6 412.3 L1790.1 411.0 L1790.5 400.5 L1790.9 403.5 L1791.3 404.4 L1791.7 412.1 L1792.2 401.1 L1792.6 422.4 L1793.0 414.1 L1793.4 393.6 L1793.8 426.0 L1794.3 414.0 L1794.7 409.7 L1795.1 415.9 L1795.5 398.8 L1795.9 415.5 L1796.4 392.4 L1796.8 404.8 L1797.2 424.0 L1797.6 416.4 L1798.0 410.5 L1798.5 404.9 L1798.9 421.9 L1799.3 414.0 L1799.7 416.1 L1800.1 421.2 L1800.6 405.2 L1801.0 420.6 L1801.4 396.5 L1801.8 427.0 L1802.2 401.5 L1802.7 408.4 L1803.1 407.7 L1803.5 417.5 L1803.9 417.7 L1804.3 415.0 L1804.8 415.8 L1805.2 428.6 L1805.6 408.7 L1806.0 392.7 L1806.4 391.2 L1806.9 390.1 L1807.3 409.3 L1807.7 407.4 L1808.1 393.9 L1808.5 400.8 L1809.0 420.5 L1809.4 399.0 L1809.8 394.6 L1810.2 391.2 L1810.6 417.4 L1811.1 414.0 L1811.5 393.8 L1811.9 401.7 L1812.3 407.1 L1812.7 418.3 L1813.2 400.6 L1813.6 407.2 L1814.0 416.3 L1814.4 392.8 L1814.8 400.5 L1815.3 407.1 L1815.7 402.1 L1816.1 425.0 L1816.5 412.6 L1816.9 407.8 L1817.4 398.0 L1817.8 412.7 L1818.2 411.1 L1818.6 402.7 L1819.0 402.3 L1819.5 394.8 L1819.9 406.5 L1820.3 413.3 L1820.7 414.3 L1821.1 411.4 L1821.6 414.4 L1822.0 419.9 L1822.4 422.3 L1822.8 416.8 L1823.2 410.2 L1823.7 400.8 L1824.1 409.7 L1824.5 405.1 L1824.9 409.1 L1825.3 402.8 L1825.8 398.2 L1826.2 407.3 L1826.6 419.7 L1827.0 407.6 L1827.4 401.2 L1827.9 410.1 L1828.3 396.3 L1828.7 389.5 L1829.1 404.4 L1829.5 395.7 L1830.0 408.4 L1830.4 416.0 L1830.8 426.9 L1831.2 405.6 L1831.6 400.3 L1832.1 411.0 L1832.5 406.5 L1832.9 408.2 L1833.3 401.3 L1833.7 411.9 L1834.2 408.9 L1834.6 390.2 L1835.0 408.2 L1835.4 412.7 L1835.8 419.6 L1836.3 404.2 L1836.7 401.7 L1837.1 418.1 L1837.5 404.0 L1837.9 409.4 L1838.4 412.9 L1838.8 417.0 L1839.2 410.2 L1839.6 401.1 L1840.0 418.1 L1840.5 406.6 L1840.9 405.7 L1841.3 427.5 L1841.7 418.5 L1842.1 403.2 L1842.6 408.9 L1843.0 411.4 L1843.4 393.3 L1843.8 395.0 L1844.2 401.7 L1844.7 416.1 L1845.1 410.9 L1845.5 406.2 L1845.9 410.7 L1846.3 413.5 L1846.8 398.5 L1847.2 403.7 L1847.6 401.4 L1848.0 411.2 L1848.4 408.7 L1848.9 394.6 L1849.3 393.3 L1849.7 419.0 L1850.1 396.2 L1850.5 405.0 L1851.0 398.3 L1851.4 413.8 L1851.8 404.0 L1852.2 400.9 L1852.6 394.5 L1853.1 400.6 L1853.5 410.3 L1853.9 408.5 L1854.3 393.6 L1854.7 417.9 L1855.2 403.8 L1855.6 396.1 L1856.0 405.9 L1856.4 400.6 L1856.8 402.1 L1857.3 418.7 L1857.7 404.3 L1858.1 402.3 L1858.5 392.7 L1858.9 411.2 L1859.4 401.7 L1859.8 415.6 L1860.2 411.2 L1860.6 411.6 L1861.0 409.0 L1861.5 417.7 L1861.9 403.4 L1862.3 398.8 L1862.7 408.6 L1863.1 386.5 L1863.6 406.7 L1864.0 412.4 L1864.4 405.5 L1864.8 419.8 L1865.2 414.5 L1865.7 410.0 L1866.1 404.7 L1866.5 416.9 L1866.9 402.2 L1867.3 404.4 L1867.8 412.5 L1868.2 395.7 L1868.6 436.3 L1869.0 403.0 L1869.4 389.6 L1869.9 411.1 L1870.3 415.2 L1870.7 403.7 L1871.1 417.5 L1871.5 420.3 L1872.0 400.3 L1872.4 402.0 L1872.8 395.6 L1873.2 408.4 L1873.6 409.0 L1874.1 407.4 L1874.5 392.5 L1874.9 396.0 L1875.3 391.1 L1875.7 390.9 L1876.2 394.6 L1876.6 392.5 L1877.0 404.8 L1877.4 411.6 L1877.8 425.6 L1878.3 410.5 L1878.7 405.6 L1879.1 410.7 L1879.5 415.4 L1879.9 407.0 L1880.4 411.3 L1880.8 408.9 L1881.2 407.5 L1881.6 411.4 L1882.0 401.2 L1882.5 420.4 L1882.9 398.6 L1883.3 415.4 L1883.7 401.1 L1884.1 424.4 L1884.6 418.5 L1885.0 404.5 L1885.4 406.8 L1885.8 400.6 L1886.2 409.5 L1886.7 412.5 L1887.1 429.7 L1887.5 398.3 L1887.9 419.7 L1888.3 403.6 L1888.8 408.3 L1889.2 413.8 L1889.6 395.4 L1890.0 411.8 L1890.4 406.2 L1890.9 407.3 L1891.3 408.4 L1891.7 416.4 L1892.1 395.0 L1892.5 400.9 L1893.0 395.0 L1893.4 398.1 L1893.8 399.7 L1894.2 415.0 L1894.6 424.9 L1895.1 419.4 L1895.5 398.2 L1895.9 408.6 L1896.3 398.2 L1896.7 411.8 L1897.2 418.4 L1897.6 412.2 L1898.0 413.7 L1898.4 407.4 L1898.8 393.9 L1899.3 392.9 L1899.7 409.3 L1900.1 416.8 L1900.5 421.7 L1900.9 408.5 L1901.4 411.2 L1901.8 414.2 L1902.2 420.7 L1902.6 411.1 L1903.0 403.3 L1903.5 421.4 L1903.9 416.2 L1904.3 418.3 L1904.7 405.0 L1905.1 415.2 L1905.6 401.6 L1906.0 399.9 L1906.4 415.2 L1906.8 414.3 L1907.2 423.1 L1907.7 430.0 L1908.1 418.7 L1908.5 433.1 L1908.9 395.1 L1909.3 424.6 L1909.8 407.7 L1910.2 418.0 L1910.6 414.1 L1911.0 415.2 L1911.4 422.3 L1911.9 400.1 L1912.3 416.3 L1912.7 408.3 L1913.1 415.8 L1913.5 417.1 L1914.0 411.2 L1914.4 409.6 L1914.8 402.7 L1915.2 416.2 L1915.6 394.4 L1916.1 413.8 L1916.5 398.3 L1916.9 420.8 L1917.3 400.1 L1917.7 418.0 L1918.2 404.1 L1918.6 411.0 L1919.0 405.6 L1919.4 414.0 L1919.8 407.1 L1920.3 416.2 L1920.7 411.2 L1921.1 412.3 L1921.5 420.0 L1921.9 402.5 L1922.4 418.8 L1922.8 410.2 L1923.2 397.2 L1923.6 412.3 L1924.0 424.8 L1924.5 422.7 L1924.9 404.5 L1925.3 409.5 L1925.7 411.0 L1926.1 394.3 L1926.6 413.7 L1927.0 401.6 L1927.4 423.1 L1927.8 425.1 L1928.2 411.5 L1928.7 398.6 L1929.1 412.1 L1929.5 427.1 L1929.9 415.3 L1930.3 406.6 L1930.8 400.6 L1931.2 408.6 L1931.6 402.5 L1932.0 423.1 L1932.4 402.9 L1932.9 402.9 L1933.3 408.7 L1933.7 399.5 L1934.1 406.0 L1934.5 407.1 L1935.0 404.1 L1935.4 405.3 L1935.8 416.7 L1936.2 409.1 L1936.6 407.9 L1937.1 400.9 L1937.5 409.7 L1937.9 399.8 L1938.3 407.0 L1938.7 406.8 L1939.2 393.9 L1939.6 408.6 L1939.9 394.6 L1940.8 390.4 L1941.6 391.5 L1942.3 387.7 L1943.0 383.4 L1943.5 378.8 L1944.1 375.4 L1944.5 371.7 L1945.0 367.9 L1945.4 364.0 L1945.7 359.9 L1946.0 355.7 L1946.3 351.4 L1946.6 347.1 L1946.8 342.7 L1947.0 338.3 L1947.2 333.8 L1947.4 329.2 L1947.5 324.7 L1947.6 320.1 L1947.8 315.5 L1947.9 310.9 L1948.0 306.2 L1948.1 301.6 L1948.2 296.9 L1948.2 292.3 L1948.3 287.6 L1948.4 283.0 L1948.4 278.3 L1948.5 273.6 L1948.5 268.9 L1948.5 264.2 L1948.6 259.6 L1948.6 254.9 L1948.6 250.2 L1948.7 245.5 L1948.7 240.8 L1948.7 236.1 L1948.7 231.5 L1948.7 226.8 L1948.8 222.1 L1948.8 217.4 L1948.8 212.7 L1948.8 208.1 L1948.8 203.4 L1948.8 198.7 L1948.8 194.1 L1948.8 189.4 L1948.8 184.7 L1948.8 180.1 L1948.8 175.5 L1948.9 170.9 L1948.9 166.3 L1948.9 161.7 L1948.9 157.1 L1948.9 152.6 L1948.9 148.1 L1948.9 143.6 L1948.9 139.2 L1948.9 134.9 L1948.9 78.4 L1948.9 134.9 L1948.9 139.2 L1948.9 143.6 L1948.9 148.1 L1948.9 152.6 L1948.9 157.1 L1948.9 161.7 L1948.9 166.3 L1948.9 170.9 L1949.0 175.5 L1949.0 180.1 L1949.0 184.7 L1949.0 189.4 L1949.0 194.1 L1949.0 198.7 L1949.0 203.4 L1949.0 208.1 L1949.0 212.7 L1949.0 217.4 L1949.0 222.1 L1949.1 226.8 L1949.1 231.5 L1949.1 236.1 L1949.1 240.8 L1949.1 245.5 L1949.2 250.2 L1949.2 254.9 L1949.2 259.6 L1949.3 264.2 L1949.3 268.9 L1949.3 273.6 L1949.4 278.3 L1949.4 283.0 L1949.5 287.6 L1949.6 292.3 L1949.6 296.9 L1949.7 301.6 L1949.8 306.2 L1949.9 310.9 L1950.0 315.5 L1950.2 320.1 L1950.3 324.7 L1950.4 329.2 L1950.6 333.8 L1950.8 338.3 L1951.0 342.7 L1951.2 347.1 L1951.5 351.4 L1951.8 355.7 L1952.1 359.9 L1952.4 364.0 L1952.8 367.9 L1953.3 371.7 L1953.7 375.4 L1954.3 378.0 L1954.8 382.2 L1955.5 387.5 L1956.2 388.5 L1957.0 391.6 L1957.9 393.0 L1958.1 401.5 L1958.5 395.1 L1958.9 398.1 L1959.3 406.6 L1959.7 402.1 L1960.2 406.7 L1960.6 391.6 L1961.0 422.2 L1961.4 414.8 L1961.8 410.2 L1962.3 393.4 L1962.7 387.0 L1963.1 396.5 L1963.5 403.1 L1963.9 423.2 L1964.4 415.1 L1964.8 401.7 L1965.2 414.8 L1965.6 415.2 L1966.0 407.0 L1966.5 417.2 L1966.9 411.1 L1967.3 403.8 L1967.7 399.5 L1968.1 409.8 L1968.6 418.0 L1969.0 398.1 L1969.4 395.7 L1969.8 414.2 L1970.2 389.3 L1970.7 426.1 L1971.1 407.7 L1971.5 417.9 L1971.9 428.0 L1972.3 401.2 L1972.8 404.1 L1973.2 431.6 L1973.6 410.1 L1974.0 413.0 L1974.4 415.8 L1974.9 422.7 L1975.3 425.2 L1975.7 416.1 L1976.1 410.7 L1976.5 430.0 L1977.0 414.9 L1977.4 423.4 L1977.8 414.0 L1978.2 426.7 L1978.6 404.4 L1979.1 415.7 L1979.5 424.1 L1979.9 419.5 L1980.3 410.8 L1980.7 402.1 L1981.2 404.4 L1981.6 407.9 L1982.0 410.9 L1982.4 406.3 L1982.8 396.4 L1983.3 402.5 L1983.7 413.0 L1984.1 414.8 L1984.5 396.5 L1984.9 403.7 L1985.4 394.2 L1985.8 402.0 L1986.2 436.4 L1986.6 407.1 L1987.0 404.1 L1987.5 401.7 L1987.9 396.0 L1988.3 391.7 L1988.7 407.1 L1989.1 404.5 L1989.6 418.3 L1990.0 394.1 L1990.4 411.3 L1990.8 419.1 L1991.2 401.3 L1991.7 412.4 L1992.1 394.4 L1992.5 411.6 L1992.9 419.7 L1993.3 407.2 L1993.8 409.4 L1994.2 402.0 L1994.6 409.7 L1995.0 418.1 L1995.4 406.1 L1995.9 407.0 L1996.3 410.2 L1996.7 413.1 L1997.1 394.8 L1997.5 409.5 L1998.0 404.4 L1998.4 412.6 L1998.8 417.1 L1999.2 412.4 L1999.6 422.0 L2000.1 402.8 L2000.5 407.4 L2000.9 401.6 L2001.3 409.4 L2001.7 410.0 L2002.2 407.4 L2002.6 398.8 L2003.0 407.9 L2003.4 405.3 L2003.8 413.4 L2004.3 406.1 L2004.7 418.3 L2005.1 409.8 L2005.5 392.1 L2005.9 405.5 L2006.4 396.8 L2006.8 417.2 L2007.2 419.3 L2007.6 405.8 L2008.0 409.8 L2008.5 395.1 L2008.9 387.9 L2009.3 401.9 L2009.7 405.0 L2010.1 394.8 L2010.6 391.5 L2011.0 411.3 L2011.4 414.6 L2011.8 422.0 L2012.2 415.4 L2012.7 405.9 L2013.1 410.1 L2013.5 414.4 L2013.9 401.0 L2014.3 420.2 L2014.8 416.5 L2015.2 406.1 L2015.6 403.2 L2016.0 439.0 L2016.4 413.0 L2016.9 414.4 L2017.3 421.0 L2017.7 414.1 L2018.1 406.2 L2018.5 411.1 L2019.0 409.3 L2019.4 411.7 L2019.8 392.5 L2020.2 407.9 L2020.6 408.8 L2021.1 400.6 L2021.5 420.3 L2021.9 394.8 L2022.3 412.8 L2022.7 399.6 L2023.2 406.0 L2023.6 398.2 L2024.0 424.9 L2024.4 413.5 L2024.8 420.4 L2025.3 413.5 L2025.7 413.4 L2026.1 411.5 L2026.5 410.6 L2026.9 419.2 L2027.4 416.5 L2027.8 415.1 L2028.2 406.4 L2028.6 414.8 L2029.0 422.6 L2029.5 412.5 L2029.9 419.9 L2030.3 416.3 L2030.7 409.1 L2031.1 409.7 L2031.6 409.8 L2032.0 414.5 L2032.4 415.8 L2032.8 427.0 L2033.2 408.5 L2033.7 400.3 L2034.1 421.6 L2034.5 410.2 L2034.9 413.7 L2035.3 435.6 L2035.8 426.1 L2036.2 416.0 L2036.6 418.2 L2037.0 410.9 L2037.4 418.1 L2037.9 405.7 L2038.3 403.6 L2038.7 405.6 L2039.1 421.2 L2039.5 423.0 L2040.0 405.0 L2040.4 418.0 L2040.8 405.5 L2041.2 416.1 L2041.6 405.9 L2042.1 415.8 L2042.5 406.7 L2042.9 407.4 L2043.3 410.5 L2043.7 411.0 L2044.2 404.9 L2044.6 398.7 L2045.0 422.2 L2045.4 404.6 L2045.8 393.2 L2046.3 390.0 L2046.7 385.4 L2047.1 401.5 L2047.5 417.5 L2047.9 392.0 L2048.4 403.7 L2048.8 390.9 L2049.2 416.5 L2049.6 409.1 L2050.0 408.3 L2050.5 417.8 L2050.9 421.5 L2051.3 415.0 L2051.7 403.4 L2052.1 397.0 L2052.6 399.0 L2053.0 391.5 L2053.4 420.2 L2053.8 405.2 L2054.2 407.6 L2054.7 408.8 L2055.1 423.4 L2055.5 401.3 L2055.9 415.0 L2056.3 409.7 L2056.8 405.0 L2057.2 390.3 L2057.6 413.5 L2058.0 400.9 L2058.4 401.8 L2058.9 406.6 L2059.3 405.2 L2059.7 413.9 L2060.1 398.2 L2060.5 404.3 L2061.0 404.5 L2061.4 404.1 L2061.8 407.7 L2062.2 400.9 L2062.6 412.8 L2063.1 397.3 L2063.5 392.0 L2063.9 403.2 L2064.3 413.7 L2064.7 399.5 L2065.2 399.0 L2065.6 402.3 L2066.0 407.1 L2066.4 402.6 L2066.8 407.9 L2067.3 392.2 L2067.7 418.6 L2068.1 409.6 L2068.5 399.4 L2068.9 420.5 L2069.4 412.2 L2069.8 419.4 L2070.2 398.0 L2070.6 421.9 L2071.0 408.4 L2071.5 389.9 L2071.9 413.6 L2072.3 405.0 L2072.7 400.1 L2073.1 407.2 L2073.6 392.3 L2074.0 413.9 L2074.4 406.7 L2074.8 406.6 L2075.2 420.1 L2075.7 409.3 L2076.1 404.3 L2076.5 402.1 L2076.9 408.8 L2077.3 417.8 L2077.8 404.3 L2078.2 401.6 L2078.6 417.2 L2079.0 408.7 L2079.4 407.6 L2079.9 425.8 L2080.3 398.0 L2080.7 411.4 L2081.1 396.8 L2081.5 410.2 L2082.0 417.7 L2082.4 422.9 L2082.8 402.8 L2083.2 418.6 L2083.6 418.3 L2084.1 408.6 L2084.5 429.8 L2084.9 408.9 L2085.3 402.4 L2085.7 412.6 L2086.2 392.5 L2086.6 420.8 L2087.0 416.5 L2087.4 404.9 L2087.8 413.0 L2088.3 410.2 L2088.7 421.4 L2089.1 400.7 L2089.5 396.3 L2089.9 389.4 L2090.4 404.7 L2090.8 393.2 L2091.2 403.1 L2091.6 407.9 L2092.0 399.6 L2092.5 394.0 L2092.9 410.9 L2093.3 401.9 L2093.7 405.4 L2094.1 412.5 L2094.6 394.9 L2095.0 398.5 L2095.4 426.8 L2095.8 403.2 L2096.2 396.7 L2096.7 403.4 L2097.1 399.7 L2097.5 395.3 L2097.9 402.0 L2098.3 406.7 L2098.8 406.1 L2099.2 409.1 L2099.6 389.8 L2100.0 391.8 L2100.4 411.1 L2100.9 401.3 L2101.3 415.2 L2101.7 406.2 L2102.1 392.4 L2102.5 407.9 L2103.0 395.3 L2103.4 404.5 L2103.8 412.4 L2104.2 420.1 L2104.6 402.3 L2105.1 410.1 L2105.5 406.3 L2105.9 412.3 L2106.3 384.4 L2106.7 401.6 L2107.2 408.8 L2107.6 409.7 L2108.0 399.8 L2108.4 413.2 L2108.8 416.2 L2109.3 408.1 L2109.7 407.2 L2110.1 407.7 L2110.5 411.6 L2110.9 420.2 L2111.4 424.1 L2111.8 408.8 L2112.2 405.7 L2112.6 407.3 L2113.0 407.7 L2113.5 415.7 L2113.9 418.2 L2114.3 419.4 L2114.7 418.2 L2115.1 413.3 L2115.6 405.9 L2116.0 409.5 L2116.4 415.6 L2116.8 418.3 L2117.2 411.2 L2117.7 410.1 L2118.1 425.4 L2118.5 397.2 L2118.9 416.9 L2119.3 412.3 L2119.8 406.9 L2120.2 400.4 L2120.6 408.3 L2121.0 406.2 L2121.4 419.2 L2121.9 402.8 L2122.3 409.2 L2122.7 418.8 L2123.1 413.3 L2123.5 417.3 L2124.0 436.2 L2124.4 398.2 L2124.8 407.5 L2125.2 402.8 L2125.6 421.2 L2126.1 407.1 L2126.5 411.6 L2126.9 421.5 L2127.3 405.9 L2127.7 409.5 L2128.2 410.6 L2128.6 403.4 L2129.0 426.1 L2129.4 412.1 L2129.8 413.6 L2130.3 405.3 L2130.7 401.6 L2131.1 399.2 L2131.5 418.2 L2131.9 387.7 L2132.4 401.5 L2132.8 405.3 L2133.2 397.7 L2133.6 395.2 L2134.0 399.5 L2134.5 400.7 L2134.9 402.8 L2135.3 414.0 L2135.7 394.4 L2136.1 405.9 L2136.6 408.0 L2137.0 403.7 L2137.4 401.2 L2137.8 395.1 L2138.2 400.1 L2138.7 411.8 L2139.1 417.7 L2139.5 399.0 L2139.9 408.9 L2140.3 410.0 L2140.8 414.7 L2141.2 409.2 L2141.6 410.1 L2142.0 415.5 L2142.4 400.4 L2142.9 409.2 L2143.3 393.3 L2143.7 391.6 L2144.1 401.2 L2144.5 395.7 L2145.0 411.5 L2145.4 415.3 L2145.8 415.2 L2146.2 405.3 L2146.6 405.6 L2147.1 405.9 L2147.5 407.7 L2147.9 408.6 L2148.3 400.7 L2148.7 398.0 L2149.2 401.7 L2149.6 414.2 L2150.0 403.4 L2150.4 419.4 L2150.8 415.6 L2151.3 419.5 L2151.7 380.9 L2152.1 404.3 L2152.5 414.3 L2152.9 413.1 L2153.4 408.8 L2153.8 427.3 L2154.2 410.8 L2154.6 414.3 L2155.0 407.6 L2155.5 425.7 L2155.9 418.7 L2156.3 415.7 L2156.7 399.9 L2157.1 414.7 L2157.6 409.1 L2158.0 416.6 L2158.4 421.5 L2158.8 407.6 L2159.2 413.6 L2159.7 419.0 L2160.1 412.9 L2160.5 408.1 L2160.9 401.3 L2161.3 405.1 L2161.8 399.8 L2162.2 417.9 L2162.6 411.2 L2163.0 402.3 L2163.4 411.9 L2163.9 400.7 L2164.3 384.8 L2164.7 419.5 L2165.1 419.1 L2165.5 398.6 L2166.0 404.3 L2166.4 411.5 L2166.8 406.3 L2167.2 402.6 L2167.6 404.5" stroke="#c9272e" stroke-width="2.5" fill="none" stroke-linejoin="round"/>
<line x1="115.6" y1="597.8" x2="115.6" y2="1044" stroke="#2b2b2b" stroke-width="1.45" />
<line x1="114.9" y1="1043.3" x2="539" y2="1043.3" stroke="#2b2b2b" stroke-width="1.45" />
<line x1="115.6" y1="597.8" x2="120.6" y2="597.8" stroke="#2b2b2b" stroke-width="1.45" />
<line x1="115.6" y1="789.4" x2="128.1" y2="789.4" stroke="#2b2b2b" stroke-width="1.45" />
<line x1="115.6" y1="998.9" x2="128.1" y2="998.9" stroke="#2b2b2b" stroke-width="1.45" />
<text x="103.5" y="797.5" text-anchor="end" font-size="25" >1</text>
<text x="103.5" y="1007.5" text-anchor="end" font-size="25" >0</text>
<line x1="221" y1="1043.3" x2="221" y2="1031.3" stroke="#2b2b2b" stroke-width="1.45" />
<text x="221" y="1073.3" text-anchor="middle" font-size="25" >9.4</text>
<line x1="362.3" y1="1043.3" x2="362.3" y2="1031.3" stroke="#2b2b2b" stroke-width="1.45" />
<text x="362.3" y="1073.3" text-anchor="middle" font-size="25" >9.6</text>
<line x1="503.6" y1="1043.3" x2="503.6" y2="1031.3" stroke="#2b2b2b" stroke-width="1.45" />
<text x="503.6" y="1073.3" text-anchor="middle" font-size="25" >9.8</text>
<text x="329.5" y="1111.5" text-anchor="middle" font-size="25" >Pump–probe detuning (GHz)</text>
<text transform="translate(70,820.7) rotate(-90)" text-anchor="middle" font-size="25">Brillouin gain (a.u.)</text>
<circle cx="381" cy="846.4" r="5.2" fill="#b5d0f1"/>
<text x="408.5" y="854.3" font-size="25" >Experiment</text>
<line x1="367.6" y1="880.3" x2="393.8" y2="880.3" stroke="#111" stroke-width="1.8" stroke-dasharray="9.6 7"/>
<text x="408.5" y="888.6" font-size="25" >Simulation</text>
<defs>
<radialGradient id="optglow" cx="209.7" cy="675" r="1" gradientTransform="translate(209.7 675) scale(46 34) translate(-209.7 -675)" gradientUnits="userSpaceOnUse">
<stop offset="0" stop-color="#ffffff"/><stop offset="0.53" stop-color="#f4ffff"/><stop offset="0.6" stop-color="#c0ecff"/><stop offset="0.68" stop-color="#7c98f8"/><stop offset="0.82" stop-color="#5557e6"/><stop offset="1" stop-color="#3f3ec8"/></radialGradient>
<radialGradient id="optcore" cx="209.7" cy="674.8" r="1" gradientTransform="translate(209.7 674.8) scale(33 24.5) translate(-209.7 -674.8)" gradientUnits="userSpaceOnUse">
<stop offset="0" stop-color="#c01e22"/><stop offset="0.25" stop-color="#d22a28"/><stop offset="0.42" stop-color="#e65838"/><stop offset="0.55" stop-color="#f4aa58"/><stop offset="0.67" stop-color="#eef08a"/><stop offset="0.8" stop-color="#b0f8c8"/><stop offset="1" stop-color="#8ceef4"/></radialGradient>
<linearGradient id="jet" x1="0" y1="1" x2="0" y2="0">
<stop offset="0" stop-color="#3c3cc8"/><stop offset="0.12" stop-color="#5060ea"/><stop offset="0.22" stop-color="#60a0f8"/><stop offset="0.32" stop-color="#80e0f8"/><stop offset="0.42" stop-color="#a6f8d8"/><stop offset="0.52" stop-color="#d0f8a0"/><stop offset="0.6" stop-color="#f0f080"/><stop offset="0.68" stop-color="#f8c860"/><stop offset="0.76" stop-color="#f08a42"/><stop offset="0.87" stop-color="#e04432"/><stop offset="1" stop-color="#bc2226"/></linearGradient>
<radialGradient id="acore" cx="412.5" cy="675.3" r="1" gradientTransform="translate(412.5 675.3) scale(29 21) translate(-412.5 -675.3)" gradientUnits="userSpaceOnUse">
<stop offset="0" stop-color="#fffbe8"/><stop offset="0.18" stop-color="#fdf0b0"/><stop offset="0.38" stop-color="#f8c64a"/><stop offset="0.56" stop-color="#f28a3a"/><stop offset="0.72" stop-color="#d8506a"/><stop offset="0.86" stop-color="#9a3a98"/><stop offset="1" stop-color="#5a2e9a"/></radialGradient>
<linearGradient id="aband" x1="334.9" y1="0" x2="487" y2="0" gradientUnits="userSpaceOnUse">
<stop offset="0" stop-color="#432a84"/><stop offset="0.3" stop-color="#45298a"/><stop offset="0.45" stop-color="#4f309a"/><stop offset="0.55" stop-color="#4e2f98"/><stop offset="0.7" stop-color="#45298a"/><stop offset="1" stop-color="#432a84"/></linearGradient>
<linearGradient id="infer" x1="0" y1="1" x2="0" y2="0">
<stop offset="0" stop-color="#452a88"/><stop offset="0.15" stop-color="#6a30a2"/><stop offset="0.3" stop-color="#9a3898"/><stop offset="0.45" stop-color="#d4507a"/><stop offset="0.6" stop-color="#f07c44"/><stop offset="0.75" stop-color="#f5b43c"/><stop offset="0.88" stop-color="#f8e090"/><stop offset="1" stop-color="#fcf8d8"/></linearGradient>
<clipPath id="optclip"><rect x="136" y="618.9" width="149.9" height="114.7"/></clipPath>
</defs>
<rect x="136" y="618.9" width="149.9" height="114.7" fill="#3f3ec8"/>
<ellipse cx="209.7" cy="675" rx="46" ry="34" fill="url(#optglow)" clip-path="url(#optclip)"/>
<rect x="184" y="658" width="51.2" height="34.7" fill="url(#optcore)"/>
<rect x="184" y="658" width="51.2" height="34.7" fill="none" stroke="#fff" stroke-width="2.2"/>
<rect x="234.8" y="720.5" width="43.3" height="6.2" fill="#fff"/>
<rect x="291.2" y="620.1" width="9.4" height="111.4" fill="url(#jet)" stroke="#222" stroke-width="0.6"/>
<text x="306.8" y="631.7" font-size="25" >1</text>
<text x="306.5" y="738.5" font-size="25" >0</text>
<rect x="334.9" y="619" width="152.1" height="114.7" fill="url(#aband)"/>
<rect x="386.8" y="657.5" width="51.9" height="34.4" fill="url(#acore)"/>
<rect x="386.8" y="657.5" width="51.9" height="34.4" fill="none" stroke="#fff" stroke-width="2.3"/>
<rect x="439.2" y="720.6" width="42.9" height="5.8" fill="#fff"/>
<rect x="492.6" y="619.9" width="9.1" height="112.3" fill="url(#infer)" stroke="#333" stroke-width="0.5"/>
<text x="509" y="627.7" font-size="25" >1</text>
<text x="508.6" y="736.3" font-size="25" >0</text>
<text x="211" y="763.3" text-anchor="middle" font-size="25" >Optical mode</text>
<text x="411.3" y="763.3" text-anchor="middle" font-size="25" >Acoustic mode</text>
<path d="M115.6 1003.9 L130.0 1003.0 L146.8 1002.3 L162.4 1003.9 L175.0 1002.8 L181.1 1002.3 L186.0 999.0 L190.4 996.6 L196.0 999.5 L209.2 1000.8 L225.0 1000.2 L240.3 1000.8 L255.0 1000.5 L271.5 1001.4 L280.9 1002.3 L285.0 1001.0 L287.1 997.7 L290.5 992.5 L293.4 985.2 L296.5 973.0 L299.6 957.1 L302.0 935.0 L304.3 910.3 L306.7 883.0 L309.0 857.3 L312.0 832.0 L315.2 810.5 L317.5 800.0 L319.9 793.4 L323.9 789.3 L326.5 791.0 L329.2 795.0 L332.5 805.0 L335.5 819.9 L338.5 840.0 L341.7 863.6 L345.5 888.0 L349.5 910.3 L353.5 932.0 L357.3 950.9 L361.0 964.0 L365.1 975.8 L369.5 986.0 L374.4 994.5 L380.0 1000.5 L386.9 1004.5 L393.0 1005.0 L399.4 1005.5 L405.0 1006.5 L411.9 1007.0 L420.0 1008.5 L427.5 1010.1 L435.0 1009.5 L443.1 1010.1 L450.0 1010.8 L458.6 1011.7 L466.0 1010.5 L472.0 1009.5 L480.5 1008.6 L487.0 1010.5 L493.0 1011.7 L499.0 1013.5 L505.4 1014.8 L512.0 1013.5 L520.0 1014.0 L530.0 1014.6 L539.7 1013.9" stroke="#b5d0f1" stroke-width="7.0" fill="none" stroke-linejoin="round" stroke-linecap="round"/>
<path d="M150.0 997.0 L151.0 997.0 L151.9 997.0 L152.9 997.0 L153.9 996.9 L154.9 996.9 L155.8 996.9 L156.8 996.8 L157.8 996.8 L158.8 996.8 L159.7 996.7 L160.7 996.7 L161.7 996.7 L162.7 996.6 L163.6 996.6 L164.6 996.6 L165.6 996.5 L166.6 996.5 L167.5 996.4 L168.5 996.4 L169.5 996.4 L170.5 996.3 L171.4 996.3 L172.4 996.2 L173.4 996.2 L174.4 996.2 L175.3 996.1 L176.3 996.1 L177.3 996.0 L178.3 996.0 L179.2 995.9 L180.2 995.9 L181.2 995.8 L182.2 995.8 L183.1 995.7 L184.1 995.7 L185.1 995.6 L186.1 995.6 L187.0 995.5 L188.0 995.4 L189.0 995.4 L190.0 995.3 L190.9 995.3 L191.9 995.2 L192.9 995.1 L193.9 995.1 L194.8 995.0 L195.8 994.9 L196.8 994.9 L197.8 994.8 L198.7 994.7 L199.7 994.6 L200.7 994.6 L201.7 994.5 L202.6 994.4 L203.6 994.3 L204.6 994.2 L205.6 994.2 L206.5 994.1 L207.5 994.0 L208.5 993.9 L209.5 993.8 L210.4 993.7 L211.4 993.6 L212.4 993.5 L213.4 993.4 L214.3 993.3 L215.3 993.2 L216.3 993.0 L217.3 992.9 L218.2 992.8 L219.2 992.7 L220.2 992.6 L221.2 992.4 L222.1 992.3 L223.1 992.2 L224.1 992.0 L225.1 991.9 L226.0 991.7 L227.0 991.6 L228.0 991.4 L229.0 991.3 L229.9 991.1 L230.9 990.9 L231.9 990.7 L232.9 990.6 L233.8 990.4 L234.8 990.2 L235.8 990.0 L236.8 989.8 L237.7 989.6 L238.7 989.3 L239.7 989.1 L240.7 988.9 L241.6 988.6 L242.6 988.4 L243.6 988.1 L244.6 987.8 L245.5 987.6 L246.5 987.3 L247.5 987.0 L248.5 986.7 L249.4 986.4 L250.4 986.0 L251.4 985.7 L252.4 985.3 L253.3 985.0 L254.3 984.6 L255.3 984.2 L256.3 983.8 L257.2 983.3 L258.2 982.9 L259.2 982.4 L260.2 981.9 L261.1 981.4 L262.1 980.9 L263.1 980.4 L264.1 979.8 L265.0 979.2 L266.0 978.6 L267.0 977.9 L268.0 977.2 L268.9 976.5 L269.9 975.8 L270.9 975.0 L271.9 974.2 L272.8 973.3 L273.8 972.4 L274.8 971.5 L275.8 970.5 L276.7 969.4 L277.7 968.3 L278.7 967.2 L279.7 966.0 L280.6 964.7 L281.6 963.3 L282.6 961.9 L283.6 960.4 L284.5 958.8 L285.5 957.2 L286.5 955.4 L287.5 953.5 L288.4 951.5 L289.4 949.4 L290.4 947.2 L291.4 944.9 L292.3 942.4 L293.3 939.7 L294.3 936.9 L295.3 933.9 L296.2 930.7 L297.2 927.4 L298.2 923.8 L299.2 920.0 L300.1 916.0 L301.1 911.7 L302.1 907.2 L303.1 902.5 L304.0 897.5 L305.0 892.2 L306.0 886.6 L307.0 880.8 L307.9 874.7 L308.9 868.4 L309.9 861.9 L310.9 855.2 L311.8 848.4 L312.8 841.5 L313.8 834.6 L314.8 827.8 L315.7 821.2 L316.7 814.9 L317.7 809.0 L318.7 803.7 L319.6 799.1 L320.6 795.2 L321.6 792.3 L322.6 790.3 L323.5 789.4 L324.5 789.5 L325.5 790.7 L326.5 792.9 L327.4 796.1 L328.4 800.2 L329.4 805.0 L330.4 810.5 L331.3 816.5 L332.3 822.9 L333.3 829.5 L334.3 836.4 L335.2 843.3 L336.2 850.1 L337.2 856.9 L338.2 863.6 L339.1 870.1 L340.1 876.3 L341.1 882.3 L342.1 888.1 L343.0 893.6 L344.0 898.8 L345.0 903.7 L346.0 908.4 L346.9 912.9 L347.9 917.1 L348.9 921.0 L349.9 924.7 L350.8 928.3 L351.8 931.6 L352.8 934.7 L353.8 937.6 L354.7 940.4 L355.7 943.0 L356.7 945.5 L357.7 947.8 L358.6 950.0 L359.6 952.1 L360.6 954.0 L361.6 955.9 L362.5 957.6 L363.5 959.3 L364.5 960.8 L365.5 962.3 L366.4 963.7 L367.4 965.0 L368.4 966.3 L369.4 967.5 L370.3 968.6 L371.3 969.7 L372.3 970.7 L373.3 971.7 L374.2 972.6 L375.2 973.5 L376.2 974.4 L377.2 975.2 L378.1 976.0 L379.1 976.7 L380.1 977.4 L381.1 978.1 L382.0 978.7 L383.0 979.3 L384.0 979.9 L385.0 980.5 L385.9 981.0 L386.9 981.6 L387.9 982.1 L388.9 982.5 L389.8 983.0 L390.8 983.4 L391.8 983.9 L392.8 984.3 L393.7 984.7 L394.7 985.1 L395.7 985.4 L396.7 985.8 L397.6 986.1 L398.6 986.4 L399.6 986.8 L400.6 987.1 L401.5 987.4 L402.5 987.6 L403.5 987.9 L404.5 988.2 L405.4 988.4 L406.4 988.7 L407.4 988.9 L408.4 989.2 L409.3 989.4 L410.3 989.6 L411.3 989.8 L412.3 990.0 L413.2 990.2 L414.2 990.4 L415.2 990.6 L416.2 990.8 L417.1 991.0 L418.1 991.1 L419.1 991.3 L420.1 991.5 L421.0 991.6 L422.0 991.8 L423.0 991.9 L424.0 992.1 L424.9 992.2 L425.9 992.3 L426.9 992.5 L427.9 992.6 L428.8 992.7 L429.8 992.8 L430.8 993.0 L431.8 993.1 L432.7 993.2 L433.7 993.3 L434.7 993.4 L435.7 993.5 L436.6 993.6 L437.6 993.7 L438.6 993.8 L439.6 993.9 L440.5 994.0 L441.5 994.1 L442.5 994.2 L443.5 994.3 L444.4 994.3 L445.4 994.4 L446.4 994.5 L447.4 994.6 L448.3 994.7 L449.3 994.7 L450.3 994.8 L451.3 994.9 L452.2 994.9 L453.2 995.0 L454.2 995.1 L455.2 995.1 L456.1 995.2 L457.1 995.3 L458.1 995.3 L459.1 995.4 L460.0 995.5 L461.0 995.5 L462.0 995.6 L463.0 995.6 L463.9 995.7 L464.9 995.7 L465.9 995.8 L466.9 995.8 L467.8 995.9 L468.8 995.9 L469.8 996.0 L470.8 996.0 L471.7 996.1 L472.7 996.1 L473.7 996.2 L474.7 996.2 L475.6 996.3 L476.6 996.3 L477.6 996.3 L478.6 996.4 L479.5 996.4 L480.5 996.5 L481.5 996.5 L482.5 996.5 L483.4 996.6 L484.4 996.6 L485.4 996.6 L486.4 996.7 L487.3 996.7 L488.3 996.7 L489.3 996.8 L490.3 996.8 L491.2 996.8 L492.2 996.9 L493.2 996.9 L494.2 996.9 L495.1 997.0 L496.1 997.0 L497.1 997.0 L498.1 997.0 L499.0 997.1 L500.0 997.1 L501.0 997.1 L502.0 997.2 L502.9 997.2 L503.9 997.2 L504.9 997.2 L505.9 997.3 L506.8 997.3 L507.8 997.3 L508.8 997.3 L509.8 997.4 L510.7 997.4 L511.7 997.4 L512.7 997.4 L513.7 997.4 L514.6 997.5 L515.6 997.5 L516.6 997.5 L517.6 997.5 L518.5 997.6 L519.5 997.6 L520.5 997.6 L521.5 997.6 L522.4 997.6 L523.4 997.7 L524.4 997.7 L525.4 997.7 L526.3 997.7 L527.3 997.7 L528.3 997.7 L529.3 997.8 L530.2 997.8 L531.2 997.8 L532.2 997.8 L533.2 997.8 L534.1 997.8 L535.1 997.9 L536.1 997.9 L537.1 997.9 L538.0 997.9 L539.0 997.9" stroke="#111" stroke-width="1.9" fill="none" stroke-dasharray="9 5.5"/>
<path d="M677.00 995.1V939.9M677.90 994.1V948.8M678.80 994.6V945.6M679.70 993.5V946.5M680.60 995.6V952.0M681.50 992.0V948.0M682.40 995.3V946.3M683.30 995.8V947.5M684.20 994.4V953.1M685.10 991.5V951.2M686.00 993.6V951.3M686.90 995.3V953.5M687.80 996.7V952.9M688.70 994.4V950.6M689.60 992.3V947.8M690.50 991.9V947.3M691.40 996.6V951.0M692.30 992.1V945.5M693.20 995.5V952.8M694.10 992.9V950.4M695.00 990.9V943.1M695.90 994.2V952.3M696.80 991.5V955.0M697.70 995.6V948.5M698.60 997.9V952.4M699.50 996.9V951.2M700.40 991.8V948.5M701.30 997.4V947.9M702.20 996.1V953.8M703.10 990.1V951.4M704.00 1002.3V950.0M704.90 997.6V950.8M705.80 991.7V953.1M706.70 994.7V950.8M707.60 991.1V954.7M708.50 993.7V949.8M709.40 994.4V941.2M710.30 995.3V950.2M711.20 992.2V948.1M712.10 993.9V949.6M713.00 992.0V953.7M713.90 994.8V954.9M714.80 995.4V952.2M715.70 994.1V951.0M716.60 996.5V948.2M717.50 995.6V947.9M718.40 994.8V951.5M719.30 996.5V946.3M720.20 991.3V949.0M721.10 993.9V949.4M722.00 990.1V954.6M722.90 993.9V953.1M723.80 993.0V950.7M724.70 995.8V951.1M725.60 993.0V953.8M726.50 992.6V951.4M727.40 993.8V951.1M728.30 993.7V946.4M729.20 997.9V946.1M730.10 992.1V945.6M731.00 990.7V937.1M731.90 994.0V950.5M732.80 996.5V951.4M733.70 991.2V948.3M734.60 993.0V951.7M735.50 995.7V948.6M736.40 995.9V950.3M737.30 992.7V946.7M738.20 996.6V954.3M739.10 992.4V954.1M740.00 994.6V949.0M740.90 995.6V945.0M741.80 996.1V950.6M742.70 991.4V948.5M743.60 993.2V949.5M744.50 993.8V945.7M745.40 990.0V949.6M746.30 995.5V946.4M747.20 994.8V953.5M748.10 995.1V951.3M749.00 990.9V946.9M749.90 994.4V952.0M750.80 994.9V946.1M751.70 996.2V950.9M752.60 992.8V951.8M753.50 995.5V950.7M754.40 998.3V947.6M755.30 993.0V950.2M756.20 993.1V950.0M757.10 993.3V950.7M758.00 990.7V954.4M758.90 993.2V954.9M759.80 997.5V954.6M760.70 992.0V948.9M761.60 993.6V948.6M762.50 996.6V950.6M763.40 995.2V951.6M764.30 994.5V945.2M765.20 993.3V948.9M766.10 993.7V955.2M767.00 1000.9V947.3M767.90 995.5V948.6M768.80 994.2V948.7M769.70 996.0V944.6M770.60 989.9V943.5M771.50 995.8V949.7M772.40 992.8V946.6M773.30 994.0V941.5M774.20 993.1V950.5M775.10 995.4V948.8M776.00 997.6V950.6M776.90 995.4V952.6M777.80 992.2V946.7M778.70 994.4V946.5M779.60 996.7V947.8M780.50 996.4V948.2M781.40 993.2V942.6M782.30 994.3V939.1M783.20 993.2V953.4M784.10 993.7V949.6M785.00 994.0V953.1M785.90 996.6V943.0M786.80 995.3V950.2M787.70 1003.6V954.1M788.60 997.3V954.6M789.50 991.3V949.2M790.40 994.7V948.4M791.30 993.0V951.5M792.20 990.5V947.3M793.10 991.7V949.6M794.00 992.9V946.2M794.90 997.6V950.7M795.80 994.2V950.5M796.70 993.6V954.7M797.60 993.9V951.4M798.50 992.4V943.4M799.40 994.4V950.3M800.30 993.8V947.1M801.20 990.5V950.6M802.10 992.9V949.9M803.00 1001.3V951.6M803.90 995.4V952.9M804.80 993.8V945.3M805.70 995.5V951.4M806.60 997.6V952.4M807.50 994.2V947.4M808.40 995.9V955.4M809.30 990.5V948.6M810.20 992.4V956.9M811.10 993.1V952.5M812.00 1000.3V953.0M812.90 992.9V951.2M813.80 994.6V953.1M814.70 996.2V947.8M815.60 994.8V948.4M816.50 996.2V945.4M817.40 996.3V951.9M818.30 992.7V948.6M819.20 994.6V952.5M820.10 993.2V952.1M821.00 995.4V947.0M821.90 993.3V952.3M822.80 993.6V951.2M823.70 997.7V951.0M824.60 993.6V951.7M825.50 990.7V950.4M826.40 994.3V950.5M827.30 994.7V953.2M828.20 992.9V947.9M829.10 994.2V947.4M830.00 1002.3V948.5M830.90 992.9V953.2M831.80 993.6V939.2M832.70 999.2V955.5M833.60 994.7V932.2M834.50 993.8V944.3M835.40 992.0V949.3M836.30 996.4V951.2M837.20 998.0V954.0M838.10 990.4V950.0M839.00 991.0V947.8M839.90 994.7V952.7M840.80 991.0V954.5M841.70 998.2V943.8M842.60 990.8V952.0M843.50 991.2V951.3M844.40 992.9V948.3M845.30 996.3V949.3M846.20 995.8V951.3M847.10 995.3V944.1M848.00 994.7V943.8M848.90 996.8V947.5M849.80 996.0V951.2M850.70 994.6V941.3M851.60 997.1V942.5M852.50 995.5V949.0M853.40 994.7V951.0M854.30 996.7V952.4M855.20 996.7V951.1M856.10 997.7V952.2M857.00 998.0V940.6M857.90 995.1V951.7M858.80 996.3V951.3M859.70 991.7V948.9M860.60 992.4V950.1M861.50 992.4V943.2M862.40 997.8V942.4M863.30 989.0V949.4M864.20 990.1V944.6M865.10 995.7V951.8M866.00 994.3V948.8M866.90 987.7V951.2M867.80 995.7V949.9M868.70 993.4V951.8M869.60 996.6V950.7M870.50 989.9V949.7M871.40 992.9V951.8M872.30 996.3V952.7M873.20 995.7V944.6M874.10 992.1V950.6M875.00 993.4V948.9M875.90 990.9V947.6M876.80 997.0V953.9M877.70 993.1V953.0M878.60 996.8V947.8M879.50 995.8V947.6M880.40 992.1V944.6M881.30 993.7V948.9M882.20 995.4V942.6M883.10 995.0V945.4M884.00 997.3V950.1M884.90 996.4V953.4M885.80 994.7V949.3M886.70 995.5V950.2M887.60 992.5V955.0M888.50 992.8V952.8M889.40 995.3V954.2M890.30 994.8V952.1M891.20 991.7V953.6M892.10 993.9V946.2M893.00 992.3V948.3M893.90 992.9V943.0M894.80 996.8V956.3M895.70 992.0V951.0M896.60 992.7V950.2M897.50 998.0V948.5M898.40 994.2V947.8M899.30 994.4V943.2M900.20 991.0V956.3M901.10 994.0V950.3M902.00 993.3V950.6M902.90 992.3V946.8M903.80 992.9V950.3M904.70 993.4V951.5M905.60 995.9V950.3M906.50 998.1V952.1M907.40 994.3V948.3M908.30 997.2V951.3M909.20 994.3V952.8M910.10 990.9V951.9M911.00 994.2V951.5M911.90 996.8V950.2M912.80 997.1V947.9M913.70 992.2V946.8M914.60 998.8V949.5M915.50 992.5V948.0M916.40 992.5V952.5M917.30 993.0V946.3M918.20 997.2V949.0M919.10 994.9V952.5M920.00 996.0V952.9M920.90 989.3V949.5M921.80 994.0V950.6M922.70 993.8V951.9M923.60 995.6V950.3M924.50 993.1V948.5M925.40 996.6V951.6M926.30 992.6V950.9M927.20 991.1V950.8M928.10 990.6V953.4M929.00 996.8V951.3M929.90 995.7V949.3M930.80 992.4V950.9M931.70 996.4V955.5M932.60 993.7V948.6M933.50 993.8V949.8M934.40 991.0V942.4M935.30 992.9V951.4M936.20 994.3V947.2M937.10 994.5V951.6M938.00 992.9V952.5M938.90 996.2V948.5M939.80 997.2V948.3M940.70 992.4V946.6M941.60 995.0V950.6M942.50 990.9V947.6M943.40 995.0V948.9M944.30 992.0V940.7M945.20 993.8V948.7M946.10 994.5V952.6M947.00 993.6V954.6M947.90 996.3V944.9M948.80 992.5V948.4M949.70 993.1V951.1M950.60 994.8V947.7M951.50 994.0V949.1M952.40 994.6V951.0M953.30 993.7V954.1M954.20 992.4V953.5M955.10 995.5V949.7M956.00 994.3V950.8M956.90 996.0V949.5M957.80 996.9V950.0M958.70 993.4V947.4M959.60 992.5V945.9M960.50 993.1V949.5M961.40 992.7V953.0M962.30 989.9V952.5M963.20 997.6V945.6M964.10 1000.4V950.0M965.00 999.1V948.9M965.90 992.9V951.2M966.80 995.4V947.6M967.70 994.7V952.9M968.60 994.0V949.9M969.50 996.2V952.0M970.40 994.1V952.8M971.30 994.0V945.4M972.20 994.5V949.9M973.10 989.4V954.4M974.00 992.6V950.5M974.90 992.6V953.2M975.80 997.6V951.6M976.70 995.4V949.2M977.60 995.8V951.2M978.50 995.5V953.2M979.40 993.7V953.8M980.30 997.6V954.3M981.20 993.7V947.6M982.10 991.1V952.6M983.00 995.5V946.9M983.90 996.6V950.2M984.80 994.3V949.9M985.70 994.9V952.1M986.60 996.2V951.3M987.50 997.4V953.7M988.40 995.4V948.9M989.30 997.7V952.7M990.20 994.7V951.5M991.10 1001.7V950.5M992.00 991.2V947.4M992.90 996.1V952.0M993.80 994.7V951.3M994.70 994.4V952.5M995.60 991.4V950.4M996.50 996.4V949.8M997.40 999.0V951.5M998.30 992.0V951.7M999.20 996.6V952.3M1000.10 993.6V955.4M1001.00 994.4V948.9M1001.90 992.2V955.7M1002.80 992.2V942.8M1003.70 995.0V953.0M1004.60 994.0V948.4M1005.50 998.3V955.7M1006.40 993.2V948.2M1007.30 995.7V947.4M1008.20 1003.0V947.9M1009.10 993.7V947.6M1010.00 996.2V952.6M1010.90 994.8V952.7M1011.80 994.2V948.7M1012.70 997.5V956.7M1013.60 992.0V949.7M1014.50 992.9V954.5M1015.40 990.4V947.9M1016.30 993.9V948.0M1017.20 996.2V950.7M1018.10 993.6V947.9M1019.00 995.9V946.6M1019.90 992.5V944.9M1020.80 996.6V951.0M1021.70 993.9V945.7M1022.60 993.1V948.0M1023.50 1002.7V951.0M1024.40 994.1V949.9M1025.30 995.3V949.3M1026.20 994.4V952.6M1027.10 995.6V951.3M1028.00 994.4V951.5M1028.90 991.6V953.9M1029.80 994.7V950.3M1030.70 995.1V952.7M1031.60 995.0V949.4M1032.50 993.7V952.1M1033.40 998.0V951.9M1034.30 992.6V949.1M1035.20 994.4V946.6M1036.10 994.6V947.2M1037.00 991.8V939.4M1037.90 991.6V946.0M1038.80 995.5V950.1M1039.70 995.6V949.7M1040.60 994.4V951.7M1041.50 990.7V952.4M1042.40 993.5V954.1M1043.30 994.6V949.0M1044.20 995.4V951.9M1045.10 996.6V952.3M1046.00 995.1V948.0M1046.90 996.2V950.8M1047.80 997.6V948.1M1048.70 989.2V949.9M1049.60 996.2V951.6M1050.50 993.2V946.1M1051.40 995.1V948.2M1052.30 994.6V948.4M1053.20 992.0V950.7M1054.10 992.2V948.6M1055.00 995.0V951.5M1055.90 993.7V948.3M1056.80 995.7V949.2M1057.70 993.3V952.1M1058.60 998.7V951.3M1059.50 993.6V950.9M1060.40 998.5V950.4M1061.30 992.5V953.1M1062.20 995.3V954.0M1063.10 996.5V949.5M1064.00 991.4V948.6M1064.90 992.1V947.8M1065.80 995.0V955.0M1066.70 996.5V948.2M1067.60 997.0V947.1M1068.50 995.3V951.2M1069.40 996.3V953.2M1070.30 991.7V947.3M1071.20 993.2V950.2M1072.10 997.2V946.8M1073.00 993.0V948.7M1073.90 993.6V954.7M1074.80 990.5V950.9M1075.70 996.8V949.8M1076.60 990.8V950.7M1077.50 994.9V951.2M1078.40 997.2V950.2M1079.30 994.8V947.4M1080.20 994.5V947.4M1081.10 993.3V955.7M1082.00 995.3V948.5M1082.90 991.8V953.6M1083.80 993.1V941.4M1084.70 1005.2V953.9M1085.60 991.4V952.3M1086.50 992.9V939.9M1087.40 991.2V955.7M1088.30 996.7V948.1M1089.20 993.6V949.9M1090.10 991.4V948.3M1091.00 991.5V948.5M1091.90 996.4V949.6M1092.80 995.5V948.0M1093.70 995.8V949.7M1094.60 994.0V954.6M1095.50 996.0V946.0M1096.40 996.9V947.3M1097.30 995.5V948.0M1098.20 996.3V949.3M1099.10 989.9V953.1M1100.00 991.0V952.4M1100.90 994.6V951.7M1101.80 990.9V951.0M1102.70 991.8V956.7M1103.60 994.1V947.6M1104.50 992.2V947.5M1105.40 991.4V950.4M1106.30 996.1V951.0M1107.20 995.1V949.9M1108.10 995.7V948.3M1109.00 1000.8V947.1M1109.90 997.1V941.5M1110.80 994.0V948.7M1111.70 993.7V949.3M1112.60 990.3V947.7M1113.50 998.6V954.0M1114.40 992.8V951.7M1115.30 996.2V955.3M1116.20 995.5V949.2M1117.10 997.1V950.6M1118.00 996.3V949.9M1118.90 996.5V950.6M1119.80 995.1V949.8M1120.70 994.3V950.1M1121.60 998.5V940.4M1122.50 994.0V949.8M1123.40 992.0V952.3M1124.30 994.8V945.5M1125.20 993.8V949.6M1126.10 989.7V952.0M1127.00 988.3V953.8M1127.90 992.5V950.3M1128.80 993.0V951.7M1129.70 993.4V955.0M1130.60 996.7V953.8M1131.50 992.7V944.1M1132.40 991.3V941.0M1133.30 994.8V953.1M1134.20 996.1V951.1M1135.10 997.5V949.1M1136.00 991.9V949.9M1136.90 993.5V951.3M1137.80 993.1V950.0M1138.70 997.2V949.8M1139.60 995.5V940.3M1140.50 994.0V946.6M1141.40 995.5V955.0M1142.30 993.2V953.6M1143.20 993.6V954.4M1144.10 993.9V950.2M1145.00 992.9V950.8M1145.90 993.5V952.0M1146.80 994.7V948.2M1147.70 994.5V945.8M1148.60 997.1V951.4M1149.50 995.8V947.9M1150.40 993.8V950.3M1151.30 989.4V948.8M1152.20 990.9V954.9M1153.10 992.9V951.9M1154.00 993.2V944.1M1154.90 991.2V954.1M1155.80 993.2V950.3M1156.70 994.2V948.6M1157.60 992.6V950.0M1158.50 993.7V949.6M1159.40 993.8V950.6M1160.30 992.5V952.7M1161.20 992.1V950.2M1162.10 993.7V950.3M1163.00 994.5V953.1M1163.90 995.5V951.2M1164.80 989.7V952.9M1165.70 991.9V950.8M1166.60 995.0V947.1M1167.50 990.6V943.0M1168.40 995.9V946.2M1169.30 992.7V949.5M1170.20 994.2V951.6M1171.10 992.3V949.3M1172.00 995.2V947.9M1172.90 994.0V951.4M1173.80 994.7V950.2M1174.70 989.9V951.3M1175.60 1000.5V948.3M1176.50 990.4V939.1M1177.40 993.2V954.5M1178.30 995.0V948.0M1179.20 993.5V950.4M1180.10 995.0V953.9M1181.00 994.3V945.8M1181.90 994.1V952.3M1182.80 992.2V950.7M1183.70 996.0V950.1M1184.60 996.3V951.2M1185.50 995.6V947.4M1186.40 992.1V944.8M1187.30 994.4V955.4M1188.20 992.3V949.8M1189.10 994.2V952.8M1190.00 995.6V953.4M1190.90 995.3V951.2M1191.80 997.0V951.7M1192.70 994.9V952.3M1193.60 991.7V954.6M1194.50 992.1V951.8M1195.40 995.0V953.7M1196.30 997.9V943.5M1197.20 993.2V949.4M1198.10 992.0V950.7M1199.00 996.8V951.5M1199.90 993.7V951.9M1200.80 995.4V955.5M1201.70 996.2V952.7M1202.60 991.9V950.7M1203.50 993.2V955.6M1204.40 992.8V951.4M1205.30 995.0V951.4M1206.20 995.3V951.8M1207.10 992.9V949.6M1208.00 995.1V947.7M1208.90 990.2V950.8M1209.80 994.6V949.7M1210.70 994.6V948.3M1211.60 993.9V950.8M1212.50 990.9V950.0M1213.40 993.7V949.0M1214.30 991.7V945.9M1215.20 996.9V950.1M1216.10 993.3V955.0M1217.00 993.5V952.8M1217.90 993.7V953.3M1218.80 995.0V950.5M1219.70 994.1V953.2M1220.60 995.0V948.8M1221.50 992.0V949.3M1222.40 1003.1V951.8M1223.30 992.9V946.8M1224.20 995.5V950.7M1225.10 994.4V951.3M1226.00 996.1V948.6M1226.90 993.8V948.7M1227.80 990.9V951.6M1228.70 991.5V948.8M1229.60 993.4V949.1M1230.50 996.8V943.6M1231.40 993.0V948.1M1232.30 994.0V953.5M1233.20 996.5V951.8M1234.10 992.8V950.9M1235.00 994.6V956.8M1235.90 994.5V951.9M1236.80 992.7V947.3M1237.70 994.4V950.0M1238.60 996.1V950.4M1239.50 996.1V954.6M1240.40 993.2V938.5M1241.30 999.9V951.6M1242.20 994.6V953.0M1243.10 993.3V948.4M1244.00 992.4V950.7M1244.90 991.9V945.3M1245.80 995.6V950.8M1246.70 988.0V944.8M1247.60 993.6V949.5M1248.50 991.1V954.9M1249.40 999.1V951.6M1250.30 993.8V950.6M1251.20 991.2V950.9M1252.10 991.9V956.1M1253.00 996.5V948.8M1253.90 992.8V953.2M1254.80 993.9V949.4M1255.70 993.3V949.4M1256.60 995.6V947.8M1257.50 996.4V950.1M1258.40 995.8V948.7M1259.30 995.1V948.2M1260.20 995.1V952.2M1261.10 991.5V950.2M1262.00 996.6V949.1M1262.90 992.8V943.1M1263.80 992.1V949.0M1264.70 993.1V951.3M1265.60 998.1V952.2M1266.50 994.8V939.2M1267.40 995.4V944.3M1268.30 1002.3V950.9M1269.20 993.7V947.9M1270.10 992.7V950.0M1271.00 993.3V949.3M1271.90 991.5V952.0M1272.80 998.6V945.7M1273.70 998.0V949.0M1274.60 992.3V952.9M1275.50 993.0V951.0M1276.40 995.2V948.4M1277.30 994.4V948.5M1278.20 995.5V951.2M1279.10 992.1V941.0M1280.00 991.7V952.3M1280.90 996.6V952.2M1281.80 992.5V950.2M1282.70 993.7V952.9M1283.60 994.4V941.9M1284.50 990.1V952.5M1285.40 993.5V950.0M1286.30 992.6V948.1M1287.20 995.0V949.0M1288.10 993.3V953.5M1289.00 989.3V949.1M1289.90 995.5V949.6M1290.80 988.6V948.8M1291.70 993.1V948.5M1292.60 992.5V953.0M1293.50 992.7V956.2M1294.40 993.9V954.0M1295.30 995.9V951.8M1296.20 992.1V952.5M1297.10 992.6V949.6M1298.00 995.4V949.2M1298.90 995.0V947.5M1299.80 995.4V954.2M1300.70 994.6V949.6M1301.60 993.4V948.7M1302.50 992.9V940.4M1303.40 992.9V951.0M1304.30 995.8V949.1M1305.20 997.0V950.6M1306.10 998.0V950.9M1307.00 991.8V954.0M1307.90 993.4V947.3M1308.80 993.9V951.3M1309.70 993.6V948.7M1310.60 991.6V949.4M1311.50 998.4V954.7M1312.40 997.0V952.1M1313.30 993.6V949.5M1314.20 993.0V951.8M1315.10 993.9V950.5M1316.00 991.4V953.4M1316.90 997.5V944.7M1317.80 995.5V951.8M1318.70 997.3V950.0M1319.60 995.8V950.5M1320.50 999.9V946.1M1321.40 991.7V948.9M1322.30 987.2V950.8M1323.20 996.8V953.0M1324.10 994.3V949.0M1325.00 993.7V949.5M1325.90 997.4V951.5M1326.80 991.9V939.7M1327.70 991.9V952.8M1328.60 992.4V952.3M1329.50 997.3V944.6M1330.40 995.9V948.8M1331.30 990.2V947.8M1332.20 997.4V949.2M1333.10 996.1V952.9M1334.00 994.8V947.4M1334.90 992.3V948.8M1335.80 997.8V942.9M1336.70 994.8V949.6M1337.60 1001.2V952.4M1338.50 991.8V953.0M1339.40 995.4V952.0M1340.30 994.1V953.3M1341.20 993.5V952.9M1342.10 992.2V950.3M1343.00 992.5V949.4M1343.90 991.5V948.6M1344.80 992.5V952.6M1345.70 993.9V952.8M1346.60 995.1V953.1M1347.50 990.7V949.7M1348.40 991.8V949.5M1349.30 992.6V951.2M1350.20 990.5V953.7M1351.10 996.1V951.4M1352.00 993.4V951.1M1352.90 993.5V948.4M1353.80 994.8V951.7M1354.70 995.9V951.9M1355.60 995.6V948.1M1356.50 994.5V955.0M1357.40 995.2V948.2M1358.30 992.3V952.9M1359.20 991.9V950.0M1360.10 995.3V950.9M1361.00 995.1V948.5M1361.90 998.5V949.1M1362.80 993.4V948.9M1363.70 991.9V950.0M1364.60 994.5V939.2M1365.50 993.0V952.8M1366.40 992.1V952.4M1367.30 996.8V951.0M1368.20 997.9V951.1M1369.10 994.7V954.9M1370.00 992.6V950.1M1370.90 994.5V951.5M1371.80 993.8V951.6M1372.70 991.0V947.0M1373.60 995.7V945.6M1374.50 994.6V940.7M1375.40 996.5V949.3M1376.30 992.8V951.1M1377.20 993.9V949.2M1378.10 993.7V948.9M1379.00 990.3V952.6M1379.90 999.2V949.8M1380.80 989.5V946.4M1381.70 991.5V952.3M1382.60 993.2V951.1M1383.50 990.6V941.0M1384.40 994.8V953.2M1385.30 997.3V953.9M1386.20 994.1V952.0M1387.10 994.4V950.1M1388.00 994.1V945.1M1388.90 994.1V951.3M1389.80 993.6V950.2M1390.70 994.8V953.9M1391.60 995.6V953.8M1392.50 993.4V951.8M1393.40 993.0V954.0M1394.30 993.1V950.3M1395.20 994.6V950.4M1396.10 993.2V948.4M1397.00 993.1V949.7M1397.90 990.8V951.1M1398.80 998.0V953.2M1399.70 991.4V948.7M1400.60 997.5V952.6M1401.50 995.6V956.5M1402.40 996.1V947.1M1403.30 994.5V949.9M1404.20 995.0V950.6M1405.10 994.6V953.1M1406.00 995.2V955.6M1406.90 995.7V953.7M1407.80 997.2V950.4M1408.70 991.9V948.4M1409.60 995.0V950.4M1410.50 997.4V950.4M1411.40 996.9V951.2M1412.30 991.8V948.2M1413.20 994.6V954.4M1414.10 994.6V948.7M1415.00 996.8V952.3M1415.90 989.2V951.1M1416.80 995.8V947.7M1417.70 990.6V950.7M1418.60 998.6V950.6M1419.50 995.4V950.1M1420.40 993.8V952.6M1421.30 1001.2V949.3M1422.20 994.3V957.1M1423.10 992.9V953.4M1424.00 993.8V948.2M1424.90 994.7V944.1M1425.80 992.3V953.7M1426.70 995.5V951.2M1427.60 996.4V950.7M1428.50 996.3V948.0M1429.40 996.5V946.8M1430.30 996.8V945.7M1431.20 995.5V957.1M1432.10 996.8V954.6M1433.00 994.2V949.1M1433.90 994.9V955.3M1434.80 997.0V945.8M1435.70 998.2V952.3M1436.60 993.3V952.3M1437.50 990.9V948.3M1438.40 998.6V941.9M1439.30 996.5V947.8M1440.20 997.9V950.6M1441.10 996.0V953.9M1442.00 994.6V953.1M1442.90 992.7V951.6M1443.80 992.0V953.4M1444.70 997.1V945.9M1445.60 996.1V955.7M1446.50 994.7V950.4M1447.40 991.7V947.1M1448.30 992.9V949.5M1449.20 992.7V948.8M1450.10 993.4V950.8M1451.00 987.9V951.3M1451.90 994.5V944.5M1452.80 1001.2V953.8M1453.70 992.9V946.1M1454.60 994.1V947.8M1455.50 994.6V954.3M1456.40 991.9V953.8M1457.30 995.0V953.1M1458.20 992.3V954.7M1459.10 993.1V946.9M1460.00 994.6V952.4M1460.90 993.9V947.9M1461.80 994.3V956.6M1462.70 992.1V948.0M1463.60 995.6V947.3M1464.50 991.7V953.4M1465.40 995.9V952.1M1466.30 996.5V950.6M1467.20 991.5V950.9M1468.10 993.9V942.3M1469.00 997.8V955.0M1469.90 992.9V948.7M1470.80 993.7V949.1M1471.70 995.7V949.0M1472.60 999.7V950.3M1473.50 995.1V950.5M1474.40 993.4V947.2M1475.30 990.8V951.3M1476.20 997.9V940.6M1477.10 998.7V943.0M1478.00 993.8V949.9M1478.90 992.9V949.9M1479.80 992.9V954.3M1480.70 995.8V954.8M1481.60 991.2V953.3M1482.50 994.1V954.6M1483.40 996.7V949.8M1484.30 992.4V954.2M1485.20 991.9V950.4M1486.10 993.6V945.4M1487.00 993.3V951.2M1487.90 994.6V947.0M1488.80 997.0V948.9M1489.70 993.8V950.1M1490.60 995.2V951.5M1491.50 992.8V950.2M1492.40 993.0V948.3M1493.30 994.7V947.5M1494.20 992.6V950.5M1495.10 996.6V947.4M1496.00 993.2V947.4M1496.90 993.7V950.2M1497.80 991.8V951.0M1498.70 993.1V948.3M1499.60 991.9V945.9M1500.50 993.0V943.3M1501.40 990.2V952.6M1502.30 994.0V949.4M1503.20 1000.0V949.5M1504.10 990.0V944.5M1505.00 997.8V952.8M1505.90 993.8V947.7M1506.80 995.9V952.4M1507.70 991.9V949.0M1508.60 998.4V950.1M1509.50 991.7V950.0M1510.40 993.9V945.8M1511.30 997.4V957.6M1512.20 991.3V946.4M1513.10 989.0V950.8M1514.00 993.9V948.4M1514.90 992.4V949.9M1515.80 991.9V954.1M1516.70 992.1V945.7M1517.60 990.9V950.1M1518.50 997.1V948.5M1519.40 996.7V950.8M1520.30 991.1V951.5M1521.20 997.4V948.6M1522.10 993.0V946.2M1523.00 996.4V947.1M1523.90 999.2V949.4M1524.80 997.5V952.4M1525.70 994.0V950.7M1526.60 992.3V946.2M1527.50 993.8V950.8M1528.40 992.8V951.0M1529.30 998.9V951.0M1530.20 994.4V946.0M1531.10 993.0V952.0M1532.00 994.2V947.6M1532.90 997.2V949.5M1533.80 991.9V956.6M1534.70 990.4V947.3M1535.60 996.9V950.8M1536.50 995.4V951.3M1537.40 993.0V950.8M1538.30 993.8V950.5M1539.20 996.4V949.0M1540.10 988.1V946.8M1541.00 996.8V945.3M1541.90 993.6V947.8M1542.80 995.5V954.4M1543.70 993.9V951.9M1544.60 1000.8V948.5M1545.50 992.7V948.2M1546.40 996.4V949.9M1547.30 988.3V957.4M1548.20 994.1V943.3M1549.10 1001.2V947.8M1550.00 990.6V951.1M1550.90 989.6V948.9M1551.80 994.2V954.4M1552.70 998.9V951.3M1553.60 996.6V953.8M1554.50 992.5V950.9M1555.40 994.8V955.8M1556.30 997.7V951.6M1557.20 997.8V951.2M1558.10 992.8V939.9M1559.00 996.8V949.4M1559.90 993.4V951.5M1560.80 993.3V949.2M1561.70 997.6V957.0M1562.60 998.8V950.5M1563.50 996.8V948.5M1564.40 993.2V953.1M1565.30 992.1V949.1M1566.20 992.2V951.6M1567.10 1001.8V950.3M1568.00 993.8V948.6M1568.90 993.2V954.1M1569.80 990.7V950.7M1570.70 996.6V953.3M1571.60 996.3V949.6M1572.50 994.7V946.8M1573.40 995.7V947.3M1574.30 986.9V949.2M1575.20 992.8V950.0M1576.10 994.4V950.6M1577.00 994.2V951.8M1577.90 992.8V941.7M1578.80 994.5V951.1M1579.70 992.4V947.3M1580.60 992.6V948.7M1581.50 991.3V957.2M1582.40 994.3V945.4M1583.30 992.4V949.6M1584.20 992.9V955.2M1585.10 997.0V954.2M1586.00 993.9V952.8M1586.90 993.9V954.3M1587.80 990.6V949.9M1588.70 992.8V950.2M1589.60 996.2V948.3M1590.50 995.2V952.0M1591.40 994.1V947.2M1592.30 993.6V949.2M1593.20 994.1V951.7M1594.10 994.9V949.2M1595.00 993.3V951.4M1595.90 988.5V955.2M1596.80 998.3V947.9M1597.70 996.5V954.1M1598.60 993.7V948.7M1599.50 997.1V948.1M1600.40 991.1V951.1M1601.30 996.8V953.2M1602.20 994.4V948.6M1603.10 996.0V948.6M1604.00 993.2V949.4M1604.90 994.3V948.6M1605.80 995.3V951.0M1606.70 996.3V948.6M1607.60 995.1V949.8M1608.50 995.0V951.4M1609.40 992.7V949.4M1610.30 997.8V953.5M1611.20 996.5V948.7M1612.10 993.5V948.5M1613.00 993.3V955.8M1613.90 991.4V954.4M1614.80 992.4V950.7M1615.70 990.6V952.7M1616.60 994.4V951.4M1617.50 993.8V949.2M1618.40 994.5V952.3M1619.30 991.2V951.3M1620.20 993.1V953.8M1621.10 992.6V945.7M1622.00 996.2V952.6M1622.90 990.7V950.9M1623.80 990.7V948.7M1624.70 996.8V949.4M1625.60 994.8V949.4M1626.50 990.5V941.0M1627.40 997.0V949.0M1628.30 997.3V952.5M1629.20 996.5V946.6M1630.10 989.5V949.5M1631.00 994.3V944.4" stroke="#4b566c" stroke-width="1.15" fill="none" />
<rect x="677" y="954" width="954.7" height="37" fill="#4b566c"/>
<line x1="1058.8" y1="952" x2="1058.8" y2="766" stroke="#4b566c" stroke-width="1.8" />
<line x1="1194.3" y1="952" x2="1194.3" y2="630.6" stroke="#4b566c" stroke-width="2.6" />
<line x1="676.1" y1="597.6" x2="676.1" y2="1044.1" stroke="#555555" stroke-width="1.8" />
<line x1="675.2" y1="1043.2" x2="1631.7" y2="1043.2" stroke="#555555" stroke-width="1.8" />
<line x1="676.1" y1="597.6" x2="686.1" y2="597.6" stroke="#555555" stroke-width="1.8" />
<line x1="676.1" y1="709.6" x2="686.1" y2="709.6" stroke="#555555" stroke-width="1.8" />
<line x1="676.1" y1="820.5" x2="686.1" y2="820.5" stroke="#555555" stroke-width="1.8" />
<line x1="676.1" y1="931.7" x2="686.1" y2="931.7" stroke="#555555" stroke-width="1.8" />
<text x="676.2" y="1073.1" text-anchor="middle" font-size="25" >1,549.6</text>
<line x1="849.4" y1="1043.2" x2="849.4" y2="1032.2" stroke="#555555" stroke-width="1.8" />
<text x="850" y="1073.1" text-anchor="middle" font-size="25" >1,549.7</text>
<line x1="1023.2" y1="1043.2" x2="1023.2" y2="1032.2" stroke="#555555" stroke-width="1.8" />
<text x="1023.8" y="1073.1" text-anchor="middle" font-size="25" >1,549.8</text>
<line x1="1196.9" y1="1043.2" x2="1196.9" y2="1032.2" stroke="#555555" stroke-width="1.8" />
<text x="1197.5" y="1073.1" text-anchor="middle" font-size="25" >1,549.9</text>
<line x1="1370.7" y1="1043.2" x2="1370.7" y2="1032.2" stroke="#555555" stroke-width="1.8" />
<text x="1371.3" y="1073.1" text-anchor="middle" font-size="25" >1,550.0</text>
<line x1="1544.5" y1="1043.2" x2="1544.5" y2="1032.2" stroke="#555555" stroke-width="1.8" />
<text x="1545.1" y="1073.1" text-anchor="middle" font-size="25" >1,550.1</text>
<text x="1153" y="1112.5" text-anchor="middle" font-size="25" >Wavelength (nm)</text>
<text transform="translate(655,820.3) rotate(-90)" text-anchor="middle" font-size="25">Power (20 dB per division)</text>
<text x="1128.4" y="808.7" text-anchor="middle" font-size="25" >9.68 GHz</text>
<line x1="1073" y1="830.5" x2="1184" y2="830.5" stroke="#000" stroke-width="1.8" stroke-dasharray="6 4.6"/>
<path d="M1065.8 830.5 L1078 824.8 L1075 830.5 L1078 836.2 Z" fill="#000"/>
<path d="M1191 830.5 L1178.8 824.8 L1181.8 830.5 L1178.8 836.2 Z" fill="#000"/>
<line x1="1229" y1="755.4" x2="1258.3" y2="755.4" stroke="#000" stroke-width="1.9" />
<path d="M1222 755.4 L1234.5 749.6 L1231.5 755.4 L1234.5 761.2 Z" fill="#000"/>
<text x="1275" y="763.3" font-size="25" >Stimulated Brillouin</text>
<text x="1383.5" y="791" text-anchor="middle" font-size="25" >lasing</text>
<text x="811.5" y="897.8" font-size="25" >Reflected pump</text>
<line x1="1002" y1="890.6" x2="1032" y2="890.6" stroke="#000" stroke-width="1.9" />
<path d="M1038.9 890.6 L1026.4 884.8 L1029.4 890.6 L1026.4 896.4 Z" fill="#000"/>
<rect x="715.3" y="623" width="261.8" height="206.2" fill="none" stroke="#929295" stroke-width="2.3" stroke-dasharray="8.8 13.2" stroke-dashoffset="-1"/>
<circle cx="836.6" cy="736.6" r="60.5" fill="none" stroke="#e6dfee" stroke-width="21"/>
<path d="M902.60 736.60 L904.09 737.19 L905.35 737.80 L906.18 738.42 L906.46 739.04 L906.14 739.64 L905.26 740.20 L903.97 740.72 L902.44 741.20 L900.91 741.66 L899.60 742.11 L898.71 742.58 L898.36 743.09 L898.60 743.66 L899.37 744.31 L900.56 745.02 L901.96 745.79 L903.35 746.58 L904.51 747.36 L905.25 748.09 L905.44 748.74 L905.04 749.28 L904.09 749.72 L902.74 750.06 L901.16 750.32 L899.58 750.56 L898.22 750.83 L897.27 751.17 L896.86 751.62 L897.01 752.22 L897.69 752.97 L898.76 753.84 L900.04 754.79 L901.31 755.77 L902.35 756.70 L902.98 757.53 L903.08 758.20 L902.61 758.69 L901.61 758.99 L900.22 759.13 L898.62 759.17 L897.02 759.19 L895.64 759.26 L894.66 759.47 L894.18 759.86 L894.25 760.48 L894.81 761.31 L895.76 762.32 L896.89 763.44 L898.02 764.59 L898.92 765.66 L899.42 766.56 L899.43 767.24 L898.89 767.66 L897.86 767.82 L896.47 767.76 L894.87 767.59 L893.29 767.38 L891.91 767.26 L890.91 767.33 L890.38 767.65 L890.36 768.27 L890.81 769.17 L891.60 770.31 L892.57 771.57 L893.52 772.86 L894.27 774.05 L894.64 775.02 L894.55 775.69 L893.96 776.02 L892.92 776.04 L891.55 775.79 L890.00 775.39 L888.45 774.97 L887.11 774.66 L886.10 774.58 L885.54 774.83 L885.43 775.44 L885.75 776.40 L886.38 777.63 L887.16 779.02 L887.92 780.43 L888.49 781.71 L888.73 782.72 L888.55 783.37 L887.92 783.62 L886.89 783.49 L885.56 783.06 L884.08 782.45 L882.61 781.81 L881.32 781.32 L880.33 781.10 L879.74 781.27 L879.55 781.86 L879.73 782.85 L880.18 784.16 L880.76 785.65 L881.32 787.15 L881.71 788.49 L881.80 789.53 L881.53 790.15 L880.87 790.31 L879.87 790.03 L878.62 789.42 L877.23 788.61 L875.87 787.78 L874.66 787.11 L873.72 786.76 L873.10 786.84 L872.83 787.40 L872.87 788.41 L873.14 789.76 L873.51 791.32 L873.85 792.88 L874.05 794.27 L874.00 795.30 L873.64 795.88 L872.97 795.95 L872.01 795.54 L870.86 794.75 L869.60 793.76 L868.37 792.74 L867.26 791.91 L866.37 791.44 L865.75 791.43 L865.41 791.95 L865.31 792.95 L865.38 794.33 L865.53 795.92 L865.66 797.52 L865.66 798.92 L865.46 799.94 L865.03 800.46 L864.35 800.43 L863.47 799.89 L862.43 798.95 L861.32 797.79 L860.24 796.62 L859.26 795.64 L858.45 795.05 L857.84 794.95 L857.43 795.42 L857.19 796.40 L857.07 797.77 L857.00 799.37 L856.90 800.97 L856.70 802.35 L856.37 803.34 L855.87 803.79 L855.20 803.67 L854.40 803.01 L853.50 801.94 L852.57 800.64 L851.66 799.33 L850.83 798.22 L850.11 797.52 L849.51 797.34 L849.04 797.74 L848.67 798.68 L848.36 800.03 L848.06 801.60 L847.74 803.17 L847.36 804.51 L846.89 805.44 L846.33 805.82 L845.69 805.61 L844.98 804.85 L844.24 803.66 L843.50 802.24 L842.78 800.81 L842.11 799.60 L841.50 798.80 L840.93 798.55 L840.41 798.88 L839.91 799.76 L839.41 801.05 L838.90 802.56 L838.37 804.07 L837.80 805.35 L837.21 806.20 L836.60 806.50 L835.99 806.20 L835.40 805.35 L834.83 804.07 L834.30 802.56 L833.79 801.05 L833.29 799.76 L832.79 798.88 L832.27 798.55 L831.70 798.80 L831.09 799.60 L830.42 800.81 L829.70 802.24 L828.96 803.66 L828.22 804.85 L827.51 805.61 L826.87 805.82 L826.31 805.44 L825.84 804.51 L825.46 803.17 L825.14 801.60 L824.84 800.03 L824.53 798.68 L824.16 797.74 L823.69 797.34 L823.09 797.52 L822.37 798.22 L821.54 799.33 L820.63 800.64 L819.70 801.94 L818.80 803.01 L818.00 803.67 L817.33 803.79 L816.83 803.34 L816.50 802.35 L816.30 800.97 L816.20 799.37 L816.13 797.77 L816.01 796.40 L815.77 795.42 L815.36 794.95 L814.75 795.05 L813.94 795.64 L812.96 796.62 L811.88 797.79 L810.77 798.95 L809.73 799.89 L808.85 800.43 L808.17 800.46 L807.74 799.94 L807.54 798.92 L807.54 797.52 L807.67 795.92 L807.82 794.33 L807.89 792.95 L807.79 791.95 L807.45 791.43 L806.83 791.44 L805.94 791.91 L804.83 792.74 L803.60 793.76 L802.34 794.75 L801.19 795.54 L800.23 795.95 L799.56 795.88 L799.20 795.30 L799.15 794.27 L799.35 792.88 L799.69 791.32 L800.06 789.76 L800.33 788.41 L800.37 787.40 L800.10 786.84 L799.48 786.76 L798.54 787.11 L797.33 787.78 L795.97 788.61 L794.58 789.42 L793.33 790.03 L792.33 790.31 L791.67 790.15 L791.40 789.53 L791.49 788.49 L791.88 787.15 L792.44 785.65 L793.02 784.16 L793.47 782.85 L793.65 781.86 L793.46 781.27 L792.87 781.10 L791.88 781.32 L790.59 781.81 L789.12 782.45 L787.64 783.06 L786.31 783.49 L785.28 783.62 L784.65 783.37 L784.47 782.72 L784.71 781.71 L785.28 780.43 L786.04 779.02 L786.82 777.63 L787.45 776.40 L787.77 775.44 L787.66 774.83 L787.10 774.58 L786.09 774.66 L784.75 774.97 L783.20 775.39 L781.65 775.79 L780.28 776.04 L779.24 776.02 L778.65 775.69 L778.56 775.02 L778.93 774.05 L779.68 772.86 L780.63 771.57 L781.60 770.31 L782.39 769.17 L782.84 768.27 L782.82 767.65 L782.29 767.33 L781.29 767.26 L779.91 767.38 L778.33 767.59 L776.73 767.76 L775.34 767.82 L774.31 767.66 L773.77 767.24 L773.78 766.56 L774.28 765.66 L775.18 764.59 L776.31 763.44 L777.44 762.32 L778.39 761.31 L778.95 760.48 L779.02 759.86 L778.54 759.47 L777.56 759.26 L776.18 759.19 L774.58 759.17 L772.98 759.13 L771.59 758.99 L770.59 758.69 L770.12 758.20 L770.22 757.53 L770.85 756.70 L771.89 755.77 L773.16 754.79 L774.44 753.84 L775.51 752.97 L776.19 752.22 L776.34 751.62 L775.93 751.17 L774.98 750.83 L773.62 750.56 L772.04 750.32 L770.46 750.06 L769.11 749.72 L768.16 749.28 L767.76 748.74 L767.95 748.09 L768.69 747.36 L769.85 746.58 L771.24 745.79 L772.64 745.02 L773.83 744.31 L774.60 743.66 L774.84 743.09 L774.49 742.58 L773.60 742.11 L772.29 741.66 L770.76 741.20 L769.23 740.72 L767.94 740.20 L767.06 739.64 L766.74 739.04 L767.02 738.42 L767.85 737.80 L769.11 737.19 L770.60 736.60 L772.09 736.04 L773.37 735.50 L774.22 734.97 L774.54 734.43 L774.26 733.88 L773.44 733.29 L772.21 732.66 L770.76 732.00 L769.32 731.30 L768.10 730.61 L767.32 729.93 L767.08 729.29 L767.44 728.72 L768.35 728.22 L769.68 727.79 L771.24 727.41 L772.80 727.07 L774.14 726.71 L775.06 726.30 L775.44 725.82 L775.25 725.23 L774.52 724.53 L773.39 723.74 L772.04 722.88 L770.71 721.99 L769.60 721.13 L768.92 720.35 L768.78 719.69 L769.21 719.17 L770.19 718.80 L771.56 718.56 L773.16 718.41 L774.75 718.28 L776.12 718.11 L777.09 717.84 L777.54 717.41 L777.43 716.80 L776.80 716.01 L775.79 715.07 L774.58 714.03 L773.38 712.96 L772.41 711.96 L771.84 711.09 L771.79 710.41 L772.30 709.96 L773.31 709.73 L774.71 709.69 L776.31 709.76 L777.90 709.85 L779.28 709.87 L780.28 709.74 L780.78 709.38 L780.76 708.76 L780.25 707.89 L779.38 706.81 L778.33 705.61 L777.29 704.40 L776.46 703.27 L776.02 702.33 L776.06 701.65 L776.63 701.27 L777.66 701.19 L779.05 701.34 L780.63 701.63 L782.19 701.94 L783.56 702.16 L784.57 702.16 L785.12 701.87 L785.18 701.26 L784.79 700.33 L784.08 699.14 L783.20 697.81 L782.35 696.45 L781.69 695.22 L781.38 694.23 L781.52 693.57 L782.13 693.27 L783.17 693.33 L784.52 693.67 L786.04 694.18 L787.55 694.71 L788.87 695.11 L789.87 695.25 L790.45 695.05 L790.60 694.45 L790.35 693.47 L789.81 692.20 L789.12 690.75 L788.46 689.29 L787.98 687.98 L787.81 686.96 L788.04 686.32 L788.69 686.11 L789.71 686.31 L791.00 686.84 L792.44 687.55 L793.86 688.29 L795.11 688.87 L796.08 689.15 L796.68 689.03 L796.91 688.45 L796.80 687.45 L796.44 686.12 L795.97 684.59 L795.51 683.05 L795.22 681.69 L795.20 680.65 L795.51 680.05 L796.18 679.94 L797.16 680.28 L798.37 680.98 L799.69 681.88 L801.00 682.81 L802.16 683.56 L803.07 683.98 L803.69 683.94 L804.00 683.40 L804.03 682.39 L803.86 681.02 L803.60 679.44 L803.37 677.86 L803.27 676.46 L803.39 675.43 L803.78 674.88 L804.46 674.86 L805.38 675.34 L806.49 676.20 L807.67 677.28 L808.83 678.38 L809.87 679.28 L810.72 679.82 L811.34 679.87 L811.72 679.38 L811.89 678.39 L811.91 677.00 L811.88 675.41 L811.86 673.80 L811.96 672.41 L812.22 671.40 L812.69 670.92 L813.37 670.99 L814.21 671.59 L815.18 672.60 L816.20 673.83 L817.20 675.08 L818.11 676.12 L818.88 676.77 L819.48 676.91 L819.93 676.47 L820.23 675.51 L820.45 674.15 L820.63 672.56 L820.84 670.97 L821.13 669.60 L821.54 668.65 L822.07 668.23 L822.72 668.39 L823.48 669.11 L824.30 670.24 L825.14 671.60 L825.95 672.98 L826.71 674.14 L827.38 674.89 L827.96 675.10 L828.46 674.74 L828.89 673.83 L829.30 672.51 L829.70 670.96 L830.13 669.42 L830.61 668.10 L831.14 667.21 L831.72 666.87 L832.35 667.13 L833.00 667.94 L833.66 669.17 L834.30 670.64 L834.91 672.11 L835.50 673.37 L836.06 674.21 L836.60 674.50 L837.14 674.21 L837.70 673.37 L838.29 672.11 L838.90 670.64 L839.54 669.17 L840.20 667.94 L840.85 667.13 L841.48 666.87 L842.06 667.21 L842.59 668.10 L843.07 669.42 L843.50 670.96 L843.90 672.51 L844.31 673.83 L844.74 674.74 L845.24 675.10 L845.82 674.89 L846.49 674.14 L847.25 672.98 L848.06 671.60 L848.90 670.24 L849.72 669.11 L850.48 668.39 L851.13 668.23 L851.66 668.65 L852.07 669.60 L852.36 670.97 L852.57 672.56 L852.75 674.15 L852.97 675.51 L853.27 676.47 L853.72 676.91 L854.32 676.77 L855.09 676.12 L856.00 675.08 L857.00 673.83 L858.02 672.60 L858.99 671.59 L859.83 670.99 L860.51 670.92 L860.98 671.40 L861.24 672.41 L861.34 673.80 L861.32 675.41 L861.29 677.00 L861.31 678.39 L861.48 679.38 L861.86 679.87 L862.48 679.82 L863.33 679.28 L864.37 678.38 L865.53 677.28 L866.71 676.20 L867.82 675.34 L868.74 674.86 L869.42 674.88 L869.81 675.43 L869.93 676.46 L869.83 677.86 L869.60 679.44 L869.34 681.02 L869.17 682.39 L869.20 683.40 L869.51 683.94 L870.13 683.98 L871.04 683.56 L872.20 682.81 L873.51 681.88 L874.83 680.98 L876.04 680.28 L877.02 679.94 L877.69 680.05 L878.00 680.65 L877.98 681.69 L877.69 683.05 L877.23 684.59 L876.76 686.12 L876.40 687.45 L876.29 688.45 L876.52 689.03 L877.12 689.15 L878.09 688.87 L879.34 688.29 L880.76 687.55 L882.20 686.84 L883.49 686.31 L884.51 686.11 L885.16 686.32 L885.39 686.96 L885.22 687.98 L884.74 689.29 L884.08 690.75 L883.39 692.20 L882.85 693.47 L882.60 694.45 L882.75 695.05 L883.33 695.25 L884.33 695.11 L885.65 694.71 L887.16 694.18 L888.68 693.67 L890.03 693.33 L891.07 693.27 L891.68 693.57 L891.82 694.23 L891.51 695.22 L890.85 696.45 L890.00 697.81 L889.12 699.14 L888.41 700.33 L888.02 701.26 L888.08 701.87 L888.63 702.16 L889.64 702.16 L891.01 701.94 L892.57 701.63 L894.15 701.34 L895.54 701.19 L896.57 701.27 L897.14 701.65 L897.18 702.33 L896.74 703.27 L895.91 704.40 L894.87 705.61 L893.82 706.81 L892.95 707.89 L892.44 708.76 L892.42 709.38 L892.92 709.74 L893.92 709.87 L895.30 709.85 L896.89 709.76 L898.49 709.69 L899.89 709.73 L900.90 709.96 L901.41 710.41 L901.36 711.09 L900.79 711.96 L899.82 712.96 L898.62 714.03 L897.41 715.07 L896.40 716.01 L895.77 716.80 L895.66 717.41 L896.11 717.84 L897.08 718.11 L898.45 718.28 L900.04 718.41 L901.64 718.56 L903.01 718.80 L903.99 719.17 L904.42 719.69 L904.28 720.35 L903.60 721.13 L902.49 721.99 L901.16 722.88 L899.81 723.74 L898.68 724.53 L897.95 725.23 L897.76 725.82 L898.14 726.30 L899.06 726.71 L900.40 727.07 L901.96 727.41 L903.52 727.79 L904.85 728.22 L905.76 728.72 L906.12 729.29 L905.88 729.93 L905.10 730.61 L903.88 731.30 L902.44 732.00 L900.99 732.66 L899.76 733.29 L898.94 733.88 L898.66 734.43 L898.98 734.97 L899.83 735.50 L901.11 736.04 L902.60 736.60Z" stroke="#b3202b" stroke-width="2.1" fill="none" stroke-linejoin="round"/>
<path d="M894.88 736.60 L895.44 737.15 L895.40 737.70 L894.78 738.23 L893.67 738.74 L892.23 739.20 L890.68 739.64 L889.26 740.05 L888.17 740.46 L887.58 740.90 L887.57 741.38 L888.12 741.92 L889.16 742.52 L890.51 743.19 L891.95 743.89 L893.26 744.60 L894.23 745.29 L894.70 745.91 L894.58 746.45 L893.89 746.89 L892.71 747.22 L891.22 747.46 L889.63 747.66 L888.16 747.86 L887.02 748.11 L886.37 748.45 L886.28 748.92 L886.76 749.54 L887.69 750.29 L888.92 751.15 L890.25 752.06 L891.44 752.96 L892.29 753.78 L892.66 754.47 L892.46 754.98 L891.71 755.31 L890.50 755.46 L888.99 755.48 L887.39 755.44 L885.90 755.42 L884.74 755.49 L884.05 755.74 L883.89 756.19 L884.27 756.87 L885.08 757.75 L886.17 758.78 L887.35 759.88 L888.39 760.95 L889.11 761.89 L889.37 762.62 L889.10 763.10 L888.31 763.31 L887.09 763.28 L885.59 763.08 L884.01 762.80 L882.55 762.56 L881.39 762.46 L880.67 762.59 L880.45 763.02 L880.71 763.75 L881.39 764.74 L882.31 765.92 L883.31 767.18 L884.18 768.39 L884.75 769.43 L884.90 770.20 L884.56 770.63 L883.75 770.72 L882.55 770.51 L881.10 770.09 L879.58 769.58 L878.17 769.12 L877.03 768.85 L876.30 768.87 L876.02 769.26 L876.18 770.02 L876.69 771.10 L877.43 772.41 L878.23 773.80 L878.91 775.13 L879.32 776.24 L879.36 777.02 L878.96 777.40 L878.14 777.37 L876.98 776.98 L875.61 776.35 L874.18 775.61 L872.86 774.95 L871.78 774.51 L871.05 774.43 L870.71 774.77 L870.75 775.54 L871.10 776.69 L871.64 778.09 L872.22 779.59 L872.70 781.01 L872.94 782.17 L872.85 782.94 L872.40 783.26 L871.60 783.10 L870.51 782.55 L869.25 781.72 L867.95 780.78 L866.74 779.92 L865.73 779.33 L865.02 779.14 L864.64 779.43 L864.57 780.20 L864.74 781.39 L865.06 782.85 L865.41 784.42 L865.67 785.89 L865.74 787.07 L865.54 787.83 L865.05 788.07 L864.28 787.80 L863.28 787.09 L862.16 786.08 L861.01 784.96 L859.94 783.93 L859.04 783.20 L858.37 782.90 L857.94 783.13 L857.76 783.88 L857.75 785.08 L857.85 786.58 L857.97 788.18 L858.00 789.67 L857.89 790.85 L857.58 791.57 L857.06 791.74 L856.34 791.35 L855.46 790.50 L854.50 789.34 L853.53 788.06 L852.63 786.88 L851.84 786.02 L851.22 785.63 L850.77 785.79 L850.47 786.50 L850.29 787.69 L850.17 789.19 L850.04 790.79 L849.85 792.27 L849.57 793.42 L849.16 794.08 L848.61 794.17 L847.95 793.68 L847.22 792.71 L846.44 791.41 L845.67 790.00 L844.95 788.71 L844.31 787.74 L843.75 787.26 L843.28 787.35 L842.88 788.02 L842.52 789.16 L842.18 790.62 L841.81 792.19 L841.41 793.62 L840.96 794.72 L840.45 795.31 L839.90 795.32 L839.32 794.74 L838.74 793.67 L838.16 792.27 L837.61 790.76 L837.09 789.37 L836.60 788.32 L836.12 787.76 L835.64 787.78 L835.15 788.38 L834.62 789.46 L834.06 790.85 L833.47 792.34 L832.86 793.70 L832.24 794.72 L831.65 795.23 L831.11 795.15 L830.62 794.50 L830.21 793.35 L829.85 791.88 L829.53 790.31 L829.22 788.86 L828.89 787.74 L828.50 787.12 L828.03 787.07 L827.45 787.58 L826.77 788.57 L826.00 789.87 L825.20 791.25 L824.39 792.51 L823.63 793.42 L822.97 793.84 L822.44 793.68 L822.06 792.96 L821.82 791.76 L821.68 790.26 L821.60 788.65 L821.52 787.17 L821.36 786.02 L821.06 785.35 L820.60 785.22 L819.95 785.65 L819.13 786.52 L818.18 787.69 L817.18 788.94 L816.19 790.06 L815.31 790.85 L814.59 791.17 L814.09 790.93 L813.83 790.16 L813.76 788.94 L813.85 787.43 L814.01 785.84 L814.15 784.36 L814.16 783.20 L813.97 782.49 L813.53 782.30 L812.83 782.62 L811.88 783.36 L810.78 784.38 L809.59 785.46 L808.45 786.42 L807.46 787.07 L806.71 787.28 L806.25 786.97 L806.10 786.17 L806.22 784.95 L806.53 783.48 L806.93 781.92 L807.28 780.48 L807.47 779.33 L807.39 778.60 L806.98 778.35 L806.23 778.56 L805.19 779.16 L803.94 779.99 L802.61 780.89 L801.34 781.67 L800.26 782.17 L799.49 782.26 L799.08 781.89 L799.05 781.07 L799.35 779.89 L799.88 778.47 L800.50 776.99 L801.07 775.62 L801.42 774.51 L801.45 773.78 L801.09 773.47 L800.32 773.57 L799.20 774.00 L797.84 774.64 L796.39 775.33 L795.02 775.91 L793.88 776.24 L793.10 776.22 L792.75 775.79 L792.84 774.98 L793.31 773.85 L794.05 772.53 L794.89 771.16 L795.65 769.89 L796.17 768.85 L796.30 768.12 L795.99 767.76 L795.21 767.75 L794.04 768.01 L792.60 768.44 L791.07 768.91 L789.62 769.28 L788.45 769.43 L787.68 769.29 L787.40 768.81 L787.61 768.03 L788.25 766.98 L789.17 765.79 L790.20 764.56 L791.14 763.41 L791.81 762.46 L792.06 761.77 L791.80 761.36 L791.03 761.23 L789.84 761.32 L788.35 761.53 L786.76 761.76 L785.28 761.91 L784.09 761.89 L783.35 761.63 L783.15 761.12 L783.47 760.37 L784.26 759.44 L785.35 758.39 L786.55 757.33 L787.66 756.34 L788.46 755.49 L788.80 754.85 L788.61 754.41 L787.87 754.16 L786.68 754.07 L785.17 754.06 L783.57 754.05 L782.08 753.98 L780.91 753.78 L780.22 753.42 L780.09 752.88 L780.52 752.19 L781.44 751.38 L782.67 750.51 L784.02 749.64 L785.26 748.82 L786.18 748.11 L786.62 747.52 L786.49 747.06 L785.80 746.71 L784.63 746.43 L783.15 746.20 L781.56 745.95 L780.10 745.66 L778.97 745.29 L778.34 744.83 L778.29 744.28 L778.83 743.66 L779.85 742.99 L781.20 742.32 L782.67 741.66 L784.01 741.04 L785.03 740.46 L785.55 739.95 L785.49 739.47 L784.86 739.02 L783.74 738.58 L782.31 738.12 L780.78 737.64 L779.38 737.14 L778.32 736.60 L777.76 736.05 L777.80 735.50 L778.42 734.97 L779.53 734.46 L780.97 734.00 L782.52 733.56 L783.94 733.15 L785.03 732.74 L785.62 732.30 L785.63 731.82 L785.08 731.28 L784.04 730.68 L782.69 730.01 L781.25 729.31 L779.94 728.60 L778.97 727.91 L778.50 727.29 L778.62 726.75 L779.31 726.31 L780.49 725.98 L781.98 725.74 L783.57 725.54 L785.04 725.34 L786.18 725.09 L786.83 724.75 L786.92 724.28 L786.44 723.66 L785.51 722.91 L784.28 722.05 L782.95 721.14 L781.76 720.24 L780.91 719.42 L780.54 718.73 L780.74 718.22 L781.49 717.89 L782.70 717.74 L784.21 717.72 L785.81 717.76 L787.30 717.78 L788.46 717.71 L789.15 717.46 L789.31 717.01 L788.93 716.33 L788.12 715.45 L787.03 714.42 L785.85 713.32 L784.81 712.25 L784.09 711.31 L783.83 710.58 L784.10 710.10 L784.89 709.89 L786.11 709.92 L787.61 710.12 L789.19 710.40 L790.65 710.64 L791.81 710.74 L792.53 710.61 L792.75 710.18 L792.49 709.45 L791.81 708.46 L790.89 707.28 L789.89 706.02 L789.02 704.81 L788.45 703.77 L788.30 703.00 L788.64 702.57 L789.45 702.48 L790.65 702.69 L792.10 703.11 L793.62 703.62 L795.03 704.08 L796.17 704.35 L796.90 704.33 L797.18 703.94 L797.02 703.18 L796.51 702.10 L795.77 700.79 L794.97 699.40 L794.29 698.07 L793.88 696.96 L793.84 696.18 L794.24 695.80 L795.06 695.83 L796.22 696.22 L797.59 696.85 L799.02 697.59 L800.34 698.25 L801.42 698.69 L802.15 698.77 L802.49 698.43 L802.45 697.66 L802.10 696.51 L801.56 695.11 L800.98 693.61 L800.50 692.19 L800.26 691.03 L800.35 690.26 L800.80 689.94 L801.60 690.10 L802.69 690.65 L803.95 691.48 L805.25 692.42 L806.46 693.28 L807.47 693.87 L808.18 694.06 L808.56 693.77 L808.63 693.00 L808.46 691.81 L808.14 690.35 L807.79 688.78 L807.53 687.31 L807.46 686.13 L807.66 685.37 L808.15 685.13 L808.92 685.40 L809.92 686.11 L811.04 687.12 L812.19 688.24 L813.26 689.27 L814.16 690.00 L814.83 690.30 L815.26 690.07 L815.44 689.32 L815.45 688.12 L815.35 686.62 L815.23 685.02 L815.20 683.53 L815.31 682.35 L815.62 681.63 L816.14 681.46 L816.86 681.85 L817.74 682.70 L818.70 683.86 L819.67 685.14 L820.57 686.32 L821.36 687.18 L821.98 687.57 L822.43 687.41 L822.73 686.70 L822.91 685.51 L823.03 684.01 L823.16 682.41 L823.35 680.93 L823.63 679.78 L824.04 679.12 L824.59 679.03 L825.25 679.52 L825.98 680.49 L826.76 681.79 L827.53 683.20 L828.25 684.49 L828.89 685.46 L829.45 685.94 L829.92 685.85 L830.32 685.18 L830.68 684.04 L831.02 682.58 L831.39 681.01 L831.79 679.58 L832.24 678.48 L832.75 677.89 L833.30 677.88 L833.88 678.46 L834.46 679.53 L835.04 680.93 L835.59 682.44 L836.11 683.83 L836.60 684.88 L837.08 685.44 L837.56 685.42 L838.05 684.82 L838.58 683.74 L839.14 682.35 L839.73 680.86 L840.34 679.50 L840.96 678.48 L841.55 677.97 L842.09 678.05 L842.58 678.70 L842.99 679.85 L843.35 681.32 L843.67 682.89 L843.98 684.34 L844.31 685.46 L844.70 686.08 L845.17 686.13 L845.75 685.62 L846.43 684.63 L847.20 683.33 L848.00 681.95 L848.81 680.69 L849.57 679.78 L850.23 679.36 L850.76 679.52 L851.14 680.24 L851.38 681.44 L851.52 682.94 L851.60 684.55 L851.68 686.03 L851.84 687.18 L852.14 687.85 L852.60 687.98 L853.25 687.55 L854.07 686.68 L855.02 685.51 L856.02 684.26 L857.01 683.14 L857.89 682.35 L858.61 682.03 L859.11 682.27 L859.37 683.04 L859.44 684.26 L859.35 685.77 L859.19 687.36 L859.05 688.84 L859.04 690.00 L859.23 690.71 L859.67 690.90 L860.37 690.58 L861.32 689.84 L862.42 688.82 L863.61 687.74 L864.75 686.78 L865.74 686.13 L866.49 685.92 L866.95 686.23 L867.10 687.03 L866.98 688.25 L866.67 689.72 L866.27 691.28 L865.92 692.72 L865.73 693.87 L865.81 694.60 L866.22 694.85 L866.97 694.64 L868.01 694.04 L869.26 693.21 L870.59 692.31 L871.86 691.53 L872.94 691.03 L873.71 690.94 L874.12 691.31 L874.15 692.13 L873.85 693.31 L873.32 694.73 L872.70 696.21 L872.13 697.58 L871.78 698.69 L871.75 699.42 L872.11 699.73 L872.88 699.63 L874.00 699.20 L875.36 698.56 L876.81 697.87 L878.18 697.29 L879.32 696.96 L880.10 696.98 L880.45 697.41 L880.36 698.22 L879.89 699.35 L879.15 700.67 L878.31 702.04 L877.55 703.31 L877.03 704.35 L876.90 705.08 L877.21 705.44 L877.99 705.45 L879.16 705.19 L880.60 704.76 L882.13 704.29 L883.58 703.92 L884.75 703.77 L885.52 703.91 L885.80 704.39 L885.59 705.17 L884.95 706.22 L884.03 707.41 L883.00 708.64 L882.06 709.79 L881.39 710.74 L881.14 711.43 L881.40 711.84 L882.17 711.97 L883.36 711.88 L884.85 711.67 L886.44 711.44 L887.92 711.29 L889.11 711.31 L889.85 711.57 L890.05 712.08 L889.73 712.83 L888.94 713.76 L887.85 714.81 L886.65 715.87 L885.54 716.86 L884.74 717.71 L884.40 718.35 L884.59 718.79 L885.33 719.04 L886.52 719.13 L888.03 719.14 L889.63 719.15 L891.12 719.22 L892.29 719.42 L892.98 719.78 L893.11 720.32 L892.68 721.01 L891.76 721.82 L890.53 722.69 L889.18 723.56 L887.94 724.38 L887.02 725.09 L886.58 725.68 L886.71 726.14 L887.40 726.49 L888.57 726.77 L890.05 727.00 L891.64 727.25 L893.10 727.54 L894.23 727.91 L894.86 728.37 L894.91 728.92 L894.37 729.54 L893.35 730.21 L892.00 730.88 L890.53 731.54 L889.19 732.16 L888.17 732.74 L887.65 733.25 L887.71 733.73 L888.34 734.18 L889.46 734.62 L890.89 735.08 L892.42 735.56 L893.82 736.06 L894.88 736.60Z" stroke="#4174be" stroke-width="2.1" fill="none" stroke-linejoin="round"/>
<line x1="738.2" y1="663.7" x2="943.3" y2="663.7" stroke="#000" stroke-width="2.4" />
<path d="M839.7 812.3 A76 76 0 0 1 760.9 745" fill="none" stroke="#b3202b" stroke-width="2.1"/>
<path d="M760.9 733.4 L766.8 746.3 L761 743.8 L755.6 747.3 Z" fill="#b3202b"/>
<path d="M788.6 735.3 A48 48 0 0 0 830.5 784.3" fill="none" stroke="#4174be" stroke-width="2.1"/>
<path d="M841.3 785.1 L828.3 778.4 L831 784.4 L829.6 790 Z" fill="#4174be"/>
<path d="M906 648 L917 648 L917.0 641.8 L917.3 642.1 L917.7 643.0 L918.0 644.4 L918.4 646.2 L918.7 648.1 L919.1 650.1 L919.4 651.8 L919.8 653.1 L920.1 654.0 L920.5 654.2 L920.8 653.8 L921.2 652.8 L921.5 651.4 L921.9 649.6 L922.2 647.6 L922.6 645.7 L922.9 644.0 L923.3 642.7 L923.6 642.0 L924.0 641.8 L924.3 642.3 L924.7 643.3 L925.0 644.8 L925.4 646.7 L925.7 648.6 L926.1 650.5 L926.4 652.2 L926.7 653.4 L927.1 654.1 L927.4 654.2 L927.8 653.6 L928.1 652.5 L928.5 651.0 L928.8 649.1 L929.2 647.1 L929.5 645.3 L929.9 643.7 L930.2 642.5 L930.6 641.9 L930.9 641.9 L931.3 642.5 L931.6 643.7 L932.0 645.3 L932.3 647.1 L932.7 649.1 L933.0 651.0 L933.4 652.5 L933.7 653.6 L934.1 654.2 L934.4 654.1 L934.8 653.4 L935.1 652.2 L935.4 650.5 L935.8 648.6 L936.1 646.7 L936.5 644.8 L936.8 643.3 L937.2 642.3 L937.5 641.8 L937.9 642.0 L938.2 642.7 L938.6 644.0 L938.9 645.7 L939.3 647.6 L939.6 649.6 L940.0 651.4 L940.3 652.8 L940.7 653.8 L941.0 654.2 L941.4 654.0 L941.7 653.1 L942.1 651.8 L942.4 650.1 L942.8 648.1 L943.1 646.2 L943.5 644.4 L943.8 643.0 L944.2 642.1 L944.5 641.8" fill="none" stroke="#4174be" stroke-width="2.1" stroke-linejoin="round"/>
<path d="M900 648 L911 642.3 L908.5 648 L911 653.7 Z" fill="#4174be"/>
<path d="M900.0 680.2 L900.4 679.9 L900.7 679.0 L901.1 677.6 L901.5 675.8 L901.8 673.9 L902.2 671.9 L902.6 670.2 L902.9 668.9 L903.3 668.0 L903.7 667.8 L904.0 668.2 L904.4 669.2 L904.8 670.6 L905.1 672.4 L905.5 674.4 L905.9 676.3 L906.2 678.0 L906.6 679.3 L907.0 680.0 L907.3 680.2 L907.7 679.7 L908.1 678.7 L908.4 677.2 L908.8 675.3 L909.2 673.4 L909.5 671.5 L909.9 669.8 L910.3 668.6 L910.6 667.9 L911.0 667.8 L911.4 668.4 L911.7 669.5 L912.1 671.0 L912.5 672.9 L912.8 674.9 L913.2 676.7 L913.6 678.3 L913.9 679.5 L914.3 680.1 L914.7 680.1 L915.1 679.5 L915.4 678.3 L915.8 676.7 L916.2 674.9 L916.5 672.9 L916.9 671.0 L917.3 669.5 L917.6 668.4 L918.0 667.8 L918.4 667.9 L918.7 668.6 L919.1 669.8 L919.5 671.5 L919.8 673.4 L920.2 675.3 L920.6 677.2 L920.9 678.7 L921.3 679.7 L921.7 680.2 L922.0 680.0 L922.4 679.3 L922.8 678.0 L923.1 676.3 L923.5 674.4 L923.9 672.4 L924.2 670.6 L924.6 669.2 L925.0 668.2 L925.3 667.8 L925.7 668.0 L926.1 668.9 L926.4 670.2 L926.8 671.9 L927.2 673.9 L927.5 675.8 L927.9 677.6 L928.3 679.0 L928.6 679.9 L929.0 680.2 L937 674" fill="none" stroke="#b3202b" stroke-width="2.1" stroke-linejoin="round"/>
<path d="M943.3 674 L932.3 668.3 L934.8 674 L932.3 679.7 Z" fill="#b3202b"/>
<text x="820.8" y="651.2" font-size="25" textLength="63.5">Pump</text>
<text x="912.2" y="712.2" font-size="25.5" textLength="47.5">SBL</text>
<line x1="1739.2" y1="598.4" x2="1739.2" y2="1043.7" stroke="#2b2b2b" stroke-width="1.45" />
<line x1="1738.5" y1="1043" x2="2168" y2="1043" stroke="#2b2b2b" stroke-width="1.45" />
<line x1="1739.2" y1="598.4" x2="1743.7" y2="598.4" stroke="#2b2b2b" stroke-width="1.45" />
<line x1="1739.2" y1="678.9" x2="1751.2" y2="678.9" stroke="#2b2b2b" stroke-width="1.45" />
<line x1="1739.2" y1="760.2" x2="1751.2" y2="760.2" stroke="#2b2b2b" stroke-width="1.45" />
<line x1="1739.2" y1="841.1" x2="1751.2" y2="841.1" stroke="#2b2b2b" stroke-width="1.45" />
<line x1="1739.2" y1="921.9" x2="1751.2" y2="921.9" stroke="#2b2b2b" stroke-width="1.45" />
<line x1="1739.2" y1="1002.8" x2="1751.2" y2="1002.8" stroke="#2b2b2b" stroke-width="1.45" />
<line x1="1782" y1="1043" x2="1782" y2="1031" stroke="#2b2b2b" stroke-width="1.45" />
<text x="1782" y="1074" text-anchor="middle" font-size="25" >−400</text>
<line x1="1867.7" y1="1043" x2="1867.7" y2="1031" stroke="#2b2b2b" stroke-width="1.45" />
<line x1="1953.3" y1="1043" x2="1953.3" y2="1031" stroke="#2b2b2b" stroke-width="1.45" />
<text x="1953.3" y="1074" text-anchor="middle" font-size="25" >0</text>
<line x1="2038.9" y1="1043" x2="2038.9" y2="1031" stroke="#2b2b2b" stroke-width="1.45" />
<line x1="2124.6" y1="1043" x2="2124.6" y2="1031" stroke="#2b2b2b" stroke-width="1.45" />
<text x="2124.6" y="1074" text-anchor="middle" font-size="25" >400</text>
<text x="1949.5" y="1112.5" text-anchor="middle" font-size="25" >Frequency (MHz + 9.68 GHz)</text>
<text transform="translate(1718.2,820.7) rotate(-90)" text-anchor="middle" font-size="25">RF power (10 dB per division)</text>
<text x="2071.5" y="705.8" text-anchor="middle" font-size="25" >RBW</text>
<text x="2071.5" y="735.6" text-anchor="middle" font-size="25" >10 kHz</text>
<path d="M1740.60 998.8V941.2M1741.40 992.7V945.8M1742.20 992.2V947.3M1743.00 989.3V950.2M1743.80 992.9V947.9M1744.60 1001.1V949.0M1745.40 992.3V949.0M1746.20 983.7V943.9M1747.00 1013.1V947.4M1747.80 1020.7V945.2M1748.60 995.3V941.0M1749.40 988.4V939.9M1750.20 991.9V949.6M1751.00 984.5V952.1M1751.80 993.1V952.0M1752.60 986.9V942.6M1753.40 988.3V952.4M1754.20 988.2V952.6M1755.00 987.6V943.0M1755.80 997.4V948.2M1756.60 996.5V953.2M1757.40 1008.8V946.5M1758.20 990.9V951.1M1759.00 997.3V943.6M1759.80 989.3V944.8M1760.60 988.7V949.8M1761.40 991.5V945.5M1762.20 996.8V941.2M1763.00 991.2V946.5M1763.80 990.5V941.9M1764.60 988.8V952.3M1765.40 986.8V945.6M1766.20 994.4V944.8M1767.00 987.4V944.3M1767.80 988.4V946.4M1768.60 1004.6V942.3M1769.40 986.0V949.7M1770.20 988.4V944.8M1771.00 988.5V949.4M1771.80 984.3V942.5M1772.60 988.0V941.9M1773.40 1011.2V942.3M1774.20 979.8V947.1M1775.00 992.8V940.7M1775.80 989.3V949.6M1776.60 985.0V944.8M1777.40 989.4V949.9M1778.20 992.3V938.2M1779.00 990.4V949.5M1779.80 990.6V941.9M1780.60 990.5V941.6M1781.40 993.1V948.6M1782.20 984.9V943.9M1783.00 1010.3V950.5M1783.80 1002.8V943.3M1784.60 990.6V948.2M1785.40 986.1V942.7M1786.20 989.3V934.4M1787.00 994.3V952.1M1787.80 990.5V945.3M1788.60 983.7V950.1M1789.40 983.8V946.9M1790.20 984.6V939.0M1791.00 989.9V947.8M1791.80 1000.5V950.6M1792.60 1014.7V951.5M1793.40 995.4V952.9M1794.20 990.5V947.7M1795.00 996.9V945.7M1795.80 991.9V946.4M1796.60 990.7V941.3M1797.40 994.8V949.2M1798.20 985.5V949.1M1799.00 981.5V947.6M1799.80 985.6V942.9M1800.60 996.1V948.8M1801.40 994.1V943.8M1802.20 991.2V951.3M1803.00 989.5V943.6M1803.80 989.7V933.4M1804.60 992.0V944.8M1805.40 986.9V941.8M1806.20 993.6V942.4M1807.00 986.5V944.9M1807.80 995.9V935.9M1808.60 989.0V954.4M1809.40 986.7V947.6M1810.20 989.2V947.3M1811.00 986.6V942.4M1811.80 989.9V946.9M1812.60 983.1V946.0M1813.40 988.4V946.5M1814.20 990.7V939.9M1815.00 992.0V945.6M1815.80 988.8V938.2M1816.60 995.3V945.3M1817.40 983.5V942.4M1818.20 989.5V943.5M1819.00 988.4V944.7M1819.80 990.4V949.6M1820.60 989.3V951.1M1821.40 996.0V946.2M1822.20 990.4V941.6M1823.00 986.6V952.2M1823.80 1000.5V940.2M1824.60 990.6V943.8M1825.40 989.7V945.2M1826.20 994.0V943.0M1827.00 988.0V951.6M1827.80 989.5V947.7M1828.60 993.9V950.5M1829.40 995.1V944.8M1830.20 988.5V949.7M1831.00 994.2V945.4M1831.80 997.7V945.4M1832.60 990.1V947.3M1833.40 990.0V947.7M1834.20 994.8V948.4M1835.00 996.6V945.2M1835.80 987.6V939.8M1836.60 987.1V944.7M1837.40 982.0V934.9M1838.20 978.5V944.8M1839.00 988.7V942.6M1839.80 994.1V949.4M1840.60 1015.0V934.7M1841.40 995.6V954.3M1842.20 979.2V944.6M1843.00 989.8V939.4M1843.80 995.8V947.8M1844.60 986.8V948.0M1845.40 985.1V947.8M1846.20 991.8V955.1M1847.00 990.4V942.6M1847.80 1000.6V947.2M1848.60 990.4V946.6M1849.40 995.5V943.2M1850.20 993.2V947.2M1851.00 1001.0V951.2M1851.80 988.9V942.5M1852.60 993.3V947.9M1853.40 987.7V950.2M1854.20 994.3V948.7M1855.00 995.1V939.3M1855.80 994.3V947.2M1856.60 985.2V944.4M1857.40 992.2V951.1M1858.20 991.9V945.5M1859.00 994.0V954.2M1859.80 984.0V940.9M1860.60 988.0V948.1M1861.40 990.1V942.4M1862.20 1006.8V953.4M1863.00 988.0V952.5M1863.80 994.1V925.0M1864.60 991.0V949.1M1865.40 1018.5V945.8M1866.20 991.8V939.2M1867.00 983.8V941.7M1867.80 989.3V946.4M1868.60 991.5V948.2M1869.40 995.6V944.4M1870.20 993.1V947.2M1871.00 989.3V947.3M1871.80 985.2V947.2M1872.60 990.6V922.4M1873.40 989.9V946.6M1874.20 995.9V948.2M1875.00 994.2V931.9M1875.80 984.7V952.4M1876.60 980.9V952.1M1877.40 988.7V946.7M1878.20 991.5V954.7M1879.00 986.4V942.7M1879.80 988.3V942.1M1880.60 995.3V943.4M1881.40 1016.5V943.0M1882.20 990.7V953.7M1883.00 991.9V946.2M1883.80 991.1V940.0M1884.60 989.6V947.5M1885.40 992.8V952.6M1886.20 992.8V946.7M1887.00 1000.7V944.4M1887.80 991.4V937.1M1888.60 987.4V951.3M1889.40 988.4V945.2M1890.20 993.4V947.6M1891.00 998.4V947.3M1891.80 992.9V945.3M1892.60 992.7V948.1M1893.40 991.5V954.2M1894.20 988.6V945.0M1895.00 990.8V951.7M1895.80 985.5V948.4M1896.60 993.5V946.7M1897.40 992.4V946.2M1898.20 991.2V949.4M1899.00 996.6V948.6M1899.80 989.4V947.6M1900.60 988.1V948.8M1901.40 1011.1V942.4M1902.20 989.3V943.3M1903.00 992.0V941.9M1903.80 994.3V944.6M1904.60 995.7V945.1M1905.40 986.3V944.5M1906.20 989.1V948.2M1907.00 986.0V942.1M1907.80 1003.9V945.0M1908.60 987.0V949.6M1909.40 996.0V953.0M1910.20 988.4V946.2M1911.00 994.7V934.0M1911.80 988.2V951.7M1912.60 989.6V941.8M1913.40 991.0V947.0M1914.20 990.8V941.7M1915.00 989.9V935.5M1915.80 993.2V947.7M1916.60 995.4V940.8M1917.40 994.0V948.2M1918.20 988.5V945.4M1919.00 998.8V945.0M1919.80 990.9V948.2M1920.60 978.8V942.6M1921.40 993.3V939.0M1922.20 993.0V946.1M1923.00 985.5V943.0M1923.80 992.9V945.2M1924.60 1000.9V941.5M1925.40 995.7V942.1M1926.20 987.3V941.8M1927.00 987.1V940.7M1927.80 987.8V942.6M1928.60 991.5V942.8M1929.40 986.2V946.1M1930.20 999.8V959.1M1931.00 989.0V934.6M1931.80 997.7V939.4M1932.60 989.3V948.4M1933.40 1010.0V940.9M1934.20 987.6V942.3M1935.00 987.4V944.6M1935.80 992.3V946.1M1936.60 995.4V946.3M1937.40 990.9V947.0M1938.20 986.8V945.5M1939.00 991.4V950.5M1939.80 987.2V931.3M1940.60 979.5V943.7M1941.40 991.0V945.1M1942.20 983.3V940.4M1943.00 987.9V948.7M1943.80 990.7V945.1M1944.60 988.8V953.8M1945.40 989.4V943.2M1946.20 996.9V952.2M1947.00 1003.7V942.2M1947.80 996.7V939.0M1948.60 991.4V942.4M1949.40 1005.9V947.4M1950.20 997.8V950.1M1951.00 987.9V942.3M1951.80 991.9V949.9M1952.60 1006.8V943.8M1953.40 991.7V943.8M1954.20 992.9V944.7M1955.00 991.0V952.7M1955.80 993.8V946.7M1956.60 987.0V947.2M1957.40 992.5V939.7M1958.20 986.2V946.6M1959.00 994.9V947.1M1959.80 994.5V952.6M1960.60 994.4V942.4M1961.40 988.4V943.0M1962.20 990.4V942.2M1963.00 992.7V943.3M1963.80 984.3V948.7M1964.60 986.3V942.7M1965.40 999.6V951.2M1966.20 989.6V946.1M1967.00 985.2V942.2M1967.80 981.3V943.2M1968.60 988.6V940.3M1969.40 983.3V940.0M1970.20 991.0V950.6M1971.00 990.1V949.5M1971.80 998.0V941.9M1972.60 985.3V944.1M1973.40 993.0V952.5M1974.20 985.5V942.9M1975.00 986.2V946.8M1975.80 989.6V948.0M1976.60 986.9V945.1M1977.40 1005.9V926.1M1978.20 990.2V944.5M1979.00 987.3V946.4M1979.80 999.8V939.5M1980.60 987.1V946.1M1981.40 988.8V946.6M1982.20 989.5V940.4M1983.00 987.2V947.7M1983.80 992.8V942.0M1984.60 995.2V935.1M1985.40 989.9V937.9M1986.20 988.4V946.3M1987.00 988.8V948.2M1987.80 984.6V944.1M1988.60 985.0V939.9M1989.40 988.8V945.2M1990.20 986.6V949.6M1991.00 991.6V945.7M1991.80 993.7V939.8M1992.60 1002.8V947.8M1993.40 991.5V945.0M1994.20 986.6V945.1M1995.00 987.8V946.1M1995.80 991.9V948.1M1996.60 992.6V945.4M1997.40 989.9V941.9M1998.20 992.5V945.4M1999.00 989.3V946.4M1999.80 985.5V932.2M2000.60 991.5V940.8M2001.40 988.6V945.3M2002.20 983.4V942.2M2003.00 993.7V934.8M2003.80 1007.1V943.6M2004.60 993.2V933.2M2005.40 988.4V949.7M2006.20 996.3V943.1M2007.00 992.2V941.3M2007.80 994.2V939.6M2008.60 987.6V932.1M2009.40 989.0V940.5M2010.20 995.5V945.2M2011.00 990.2V941.1M2011.80 1004.1V926.2M2012.60 1013.1V947.3M2013.40 995.0V942.4M2014.20 991.2V948.3M2015.00 998.0V945.4M2015.80 984.3V947.6M2016.60 990.0V948.3M2017.40 988.1V939.7M2018.20 996.3V950.9M2019.00 996.7V949.1M2019.80 988.4V944.1M2020.60 990.9V953.1M2021.40 994.1V952.7M2022.20 992.4V939.5M2023.00 991.4V936.6M2023.80 994.3V943.3M2024.60 998.2V947.7M2025.40 990.8V949.7M2026.20 985.9V948.6M2027.00 989.9V945.8M2027.80 990.2V949.8M2028.60 988.8V948.8M2029.40 993.2V944.0M2030.20 993.3V946.6M2031.00 994.0V933.0M2031.80 992.3V943.2M2032.60 991.4V943.3M2033.40 1001.8V942.4M2034.20 989.0V951.9M2035.00 986.9V948.6M2035.80 991.6V949.3M2036.60 989.9V944.3M2037.40 990.2V945.8M2038.20 992.5V950.9M2039.00 989.2V944.7M2039.80 994.6V950.7M2040.60 994.5V945.8M2041.40 986.6V945.8M2042.20 995.6V948.2M2043.00 989.0V949.4M2043.80 987.4V953.1M2044.60 989.1V944.5M2045.40 985.3V952.8M2046.20 991.7V942.8M2047.00 995.2V942.4M2047.80 984.3V936.7M2048.60 1010.4V949.3M2049.40 992.7V952.0M2050.20 993.0V941.0M2051.00 992.9V944.6M2051.80 992.1V944.8M2052.60 988.5V939.5M2053.40 993.9V946.2M2054.20 991.7V947.1M2055.00 993.5V943.9M2055.80 991.6V941.7M2056.60 1010.3V946.5M2057.40 990.2V948.3M2058.20 992.8V940.1M2059.00 994.5V945.5M2059.80 982.7V948.2M2060.60 985.2V934.4M2061.40 988.3V947.2M2062.20 988.2V953.0M2063.00 987.7V923.0M2063.80 991.1V951.3M2064.60 989.1V944.7M2065.40 995.7V948.4M2066.20 987.9V945.3M2067.00 987.5V941.2M2067.80 987.0V938.9M2068.60 989.1V955.7M2069.40 991.0V940.4M2070.20 988.4V944.8M2071.00 986.6V951.8M2071.80 984.9V947.2M2072.60 991.1V946.6M2073.40 988.1V937.7M2074.20 986.4V943.4M2075.00 989.2V940.5M2075.80 991.6V938.6M2076.60 998.5V947.4M2077.40 996.8V949.3M2078.20 986.8V942.8M2079.00 993.8V943.3M2079.80 982.5V947.7M2080.60 982.5V932.6M2081.40 982.9V924.0M2082.20 993.9V950.7M2083.00 989.7V949.8M2083.80 984.4V946.0M2084.60 987.6V941.4M2085.40 988.3V937.4M2086.20 987.6V948.8M2087.00 996.2V953.2M2087.80 982.6V943.5M2088.60 988.5V952.4M2089.40 995.9V944.5M2090.20 992.2V948.1M2091.00 981.6V945.5M2091.80 991.0V946.3M2092.60 985.3V952.0M2093.40 988.0V943.1M2094.20 983.9V949.4M2095.00 1008.5V944.8M2095.80 1002.7V945.8M2096.60 994.3V943.0M2097.40 989.1V946.8M2098.20 983.3V919.9M2099.00 1000.9V944.9M2099.80 995.1V950.1M2100.60 985.9V949.4M2101.40 994.1V939.3M2102.20 983.1V941.3M2103.00 985.2V944.2M2103.80 990.9V953.7M2104.60 984.7V944.2M2105.40 993.3V945.9M2106.20 1009.8V944.9M2107.00 990.6V947.2M2107.80 992.3V942.2M2108.60 996.7V947.0M2109.40 992.4V947.9M2110.20 1005.1V950.3M2111.00 996.1V942.3M2111.80 986.2V949.7M2112.60 999.1V953.9M2113.40 995.1V949.2M2114.20 991.0V948.8M2115.00 993.7V935.9M2115.80 991.7V941.7M2116.60 991.3V953.9M2117.40 986.4V951.0M2118.20 1001.2V948.1M2119.00 989.1V930.3M2119.80 994.8V958.4M2120.60 992.4V943.0M2121.40 992.1V944.3M2122.20 990.0V950.5M2123.00 995.5V947.0M2123.80 980.7V937.0M2124.60 986.8V946.9M2125.40 994.3V947.4M2126.20 988.8V942.1M2127.00 993.0V947.6M2127.80 1009.5V947.0M2128.60 993.7V938.5M2129.40 1000.5V948.1M2130.20 989.6V954.9M2131.00 985.9V953.2M2131.80 992.4V936.5M2132.60 994.6V940.5M2133.40 989.5V946.2M2134.20 992.5V929.3M2135.00 989.7V940.4M2135.80 998.1V942.9M2136.60 991.0V951.6M2137.40 991.4V947.0M2138.20 992.7V950.3M2139.00 994.7V945.8M2139.80 993.3V950.2M2140.60 990.4V943.8M2141.40 990.7V943.8M2142.20 997.0V932.0M2143.00 992.8V938.0M2143.80 989.0V944.3M2144.60 988.2V927.1M2145.40 989.5V944.0M2146.20 992.3V946.6M2147.00 988.7V946.7M2147.80 986.2V947.6M2148.60 989.2V944.3M2149.40 988.5V945.7M2150.20 992.9V950.8M2151.00 988.4V945.3M2151.80 988.9V946.1M2152.60 998.0V935.8M2153.40 992.3V941.4M2154.20 986.8V950.5M2155.00 995.3V942.3M2155.80 989.0V941.5M2156.60 987.3V945.4M2157.40 1007.1V940.8M2158.20 984.9V945.9M2159.00 990.2V945.5M2159.80 992.7V943.3M2160.60 1003.5V937.4M2161.40 988.4V951.5M2162.20 1003.6V938.3M2163.00 990.2V940.8M2163.80 995.3V949.2M2164.60 983.4V940.7M2165.40 993.8V948.0M2166.20 991.7V945.8M2167.00 996.0V944.8M2167.80 986.0V941.5" stroke="#c9272e" stroke-width="1.25" fill="none" />
<rect x="1740.2" y="950" width="427.8" height="37" fill="#c9272e"/>
<line x1="1953.3" y1="960" x2="1953.3" y2="634" stroke="#c9272e" stroke-width="2.2" />
</svg>
</body></html>
